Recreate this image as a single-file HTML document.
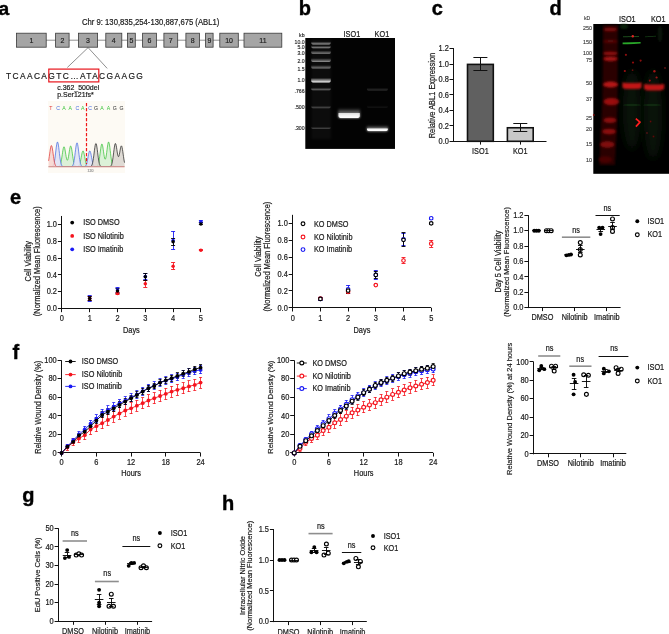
<!DOCTYPE html>
<html><head><meta charset="utf-8"><style>
html,body{margin:0;padding:0;background:#fff;width:669px;height:634px;overflow:hidden}
svg{display:block;will-change:transform}
text{font-family:"Liberation Sans", sans-serif}
</style></head><body>
<svg width="669" height="634" viewBox="0 0 669 634">
<defs>
<filter id="blur05" x="-20%" y="-100%" width="140%" height="300%"><feGaussianBlur stdDeviation="0.5"/></filter>
<filter id="blur07" x="-20%" y="-100%" width="140%" height="300%"><feGaussianBlur stdDeviation="0.7"/></filter>
<filter id="blur03" x="-20%" y="-20%" width="140%" height="140%"><feGaussianBlur stdDeviation="0.3"/></filter>
<filter id="blur2" x="-50%" y="-50%" width="200%" height="200%"><feGaussianBlur stdDeviation="2.5"/></filter>
<filter id="blur3" x="-80%" y="-50%" width="260%" height="200%"><feGaussianBlur stdDeviation="4"/></filter>
<filter id="blur1" x="-20%" y="-50%" width="140%" height="200%"><feGaussianBlur stdDeviation="1"/></filter>
</defs>
<text transform="translate(-1.60,15.30) scale(1.0,1.0)" font-size="19.2" text-anchor="start" fill="#000" font-weight="bold" stroke="#000" stroke-width="0.4" >a</text>
<text transform="translate(82.00,24.50) scale(1.0,1.14)" font-size="7.7" text-anchor="start" fill="#1a1a1a" font-weight="normal" stroke="#1a1a1a" stroke-width="0.18" >Chr 9: 130,835,254-130,887,675 (ABL1)</text>
<line x1="16.00" y1="40.20" x2="282.00" y2="40.20" stroke="#555" stroke-width="0.65" />
<rect x="16.50" y="33.20" width="29.70" height="14.00" fill="#a5a5a5" stroke="#3a3a3a" stroke-width="0.8" />
<text transform="translate(31.35,42.90) scale(1.0,1.14)" font-size="7" text-anchor="middle" fill="#222" font-weight="normal" stroke="#222" stroke-width="0.18" >1</text>
<rect x="55.60" y="33.20" width="13.50" height="14.00" fill="#a5a5a5" stroke="#3a3a3a" stroke-width="0.8" />
<text transform="translate(62.35,42.90) scale(1.0,1.14)" font-size="7" text-anchor="middle" fill="#222" font-weight="normal" stroke="#222" stroke-width="0.18" >2</text>
<rect x="78.40" y="33.20" width="19.20" height="14.00" fill="#a5a5a5" stroke="#3a3a3a" stroke-width="0.8" />
<text transform="translate(88.00,42.90) scale(1.0,1.14)" font-size="7" text-anchor="middle" fill="#222" font-weight="normal" stroke="#222" stroke-width="0.18" >3</text>
<rect x="105.80" y="33.20" width="16.00" height="14.00" fill="#a5a5a5" stroke="#3a3a3a" stroke-width="0.8" />
<text transform="translate(113.80,42.90) scale(1.0,1.14)" font-size="7" text-anchor="middle" fill="#222" font-weight="normal" stroke="#222" stroke-width="0.18" >4</text>
<rect x="127.50" y="33.20" width="7.80" height="14.00" fill="#a5a5a5" stroke="#3a3a3a" stroke-width="0.8" />
<text transform="translate(131.40,42.90) scale(1.0,1.14)" font-size="7" text-anchor="middle" fill="#222" font-weight="normal" stroke="#222" stroke-width="0.18" >5</text>
<rect x="142.60" y="33.20" width="13.80" height="14.00" fill="#a5a5a5" stroke="#3a3a3a" stroke-width="0.8" />
<text transform="translate(149.50,42.90) scale(1.0,1.14)" font-size="7" text-anchor="middle" fill="#222" font-weight="normal" stroke="#222" stroke-width="0.18" >6</text>
<rect x="163.90" y="33.20" width="13.80" height="14.00" fill="#a5a5a5" stroke="#3a3a3a" stroke-width="0.8" />
<text transform="translate(170.80,42.90) scale(1.0,1.14)" font-size="7" text-anchor="middle" fill="#222" font-weight="normal" stroke="#222" stroke-width="0.18" >7</text>
<rect x="185.90" y="33.20" width="13.60" height="14.00" fill="#a5a5a5" stroke="#3a3a3a" stroke-width="0.8" />
<text transform="translate(192.70,42.90) scale(1.0,1.14)" font-size="7" text-anchor="middle" fill="#222" font-weight="normal" stroke="#222" stroke-width="0.18" >8</text>
<rect x="205.60" y="33.20" width="7.50" height="14.00" fill="#a5a5a5" stroke="#3a3a3a" stroke-width="0.8" />
<text transform="translate(209.35,42.90) scale(1.0,1.14)" font-size="7" text-anchor="middle" fill="#222" font-weight="normal" stroke="#222" stroke-width="0.18" >9</text>
<rect x="219.80" y="33.20" width="18.50" height="14.00" fill="#a5a5a5" stroke="#3a3a3a" stroke-width="0.8" />
<text transform="translate(229.05,42.90) scale(1.0,1.14)" font-size="7" text-anchor="middle" fill="#222" font-weight="normal" stroke="#222" stroke-width="0.18" >10</text>
<rect x="244.00" y="33.20" width="37.80" height="14.00" fill="#a5a5a5" stroke="#3a3a3a" stroke-width="0.8" />
<text transform="translate(262.90,42.90) scale(1.0,1.14)" font-size="7" text-anchor="middle" fill="#222" font-weight="normal" stroke="#222" stroke-width="0.18" >11</text>
<line x1="88.10" y1="47.60" x2="67.30" y2="67.50" stroke="#444" stroke-width="0.6" />
<line x1="88.10" y1="47.60" x2="107.20" y2="68.40" stroke="#444" stroke-width="0.6" />
<text transform="translate(6.00,78.70) scale(1.0,1.06)" font-size="8.4" text-anchor="start" fill="#1a1a1a" font-weight="normal" stroke="#1a1a1a" stroke-width="0.18" letter-spacing="1.38">TCAACAGTC…ATACGAAGG</text>
<rect x="48.80" y="69.10" width="50.00" height="12.80" fill="none" stroke="#e8141c" stroke-width="1.2" />
<text transform="translate(57.20,89.90) scale(1.0,1.14)" font-size="7" text-anchor="start" fill="#1a1a1a" font-weight="normal" stroke="#1a1a1a" stroke-width="0.18" >c.362_500del</text>
<text transform="translate(57.20,97.40) scale(1.0,1.14)" font-size="7" text-anchor="start" fill="#1a1a1a" font-weight="normal" stroke="#1a1a1a" stroke-width="0.18" >p.Ser121fs*</text>
<rect x="48.00" y="101.00" width="77.00" height="72.00" fill="#fdfaf4" stroke="none" stroke-width="1" />
<text transform="translate(50.80,109.60) scale(1.0,1.1)" font-size="5.2" text-anchor="middle" fill="#e03a3a" font-weight="normal" >T</text>
<text transform="translate(58.20,109.60) scale(1.0,1.1)" font-size="5.2" text-anchor="middle" fill="#4a6ee0" font-weight="normal" >C</text>
<text transform="translate(64.00,109.60) scale(1.0,1.1)" font-size="5.2" text-anchor="middle" fill="#3cc43c" font-weight="normal" >A</text>
<text transform="translate(70.30,109.60) scale(1.0,1.1)" font-size="5.2" text-anchor="middle" fill="#3cc43c" font-weight="normal" >A</text>
<text transform="translate(77.40,109.60) scale(1.0,1.1)" font-size="5.2" text-anchor="middle" fill="#4a6ee0" font-weight="normal" >C</text>
<text transform="translate(82.80,109.60) scale(1.0,1.1)" font-size="5.2" text-anchor="middle" fill="#3cc43c" font-weight="normal" >A</text>
<text transform="translate(90.00,109.60) scale(1.0,1.1)" font-size="5.2" text-anchor="middle" fill="#4a6ee0" font-weight="normal" >C</text>
<text transform="translate(95.90,109.60) scale(1.0,1.1)" font-size="5.2" text-anchor="middle" fill="#333" font-weight="normal" >G</text>
<text transform="translate(101.90,109.60) scale(1.0,1.1)" font-size="5.2" text-anchor="middle" fill="#3cc43c" font-weight="normal" >A</text>
<text transform="translate(108.40,109.60) scale(1.0,1.1)" font-size="5.2" text-anchor="middle" fill="#3cc43c" font-weight="normal" >A</text>
<text transform="translate(114.70,109.60) scale(1.0,1.1)" font-size="5.2" text-anchor="middle" fill="#333" font-weight="normal" >G</text>
<text transform="translate(121.40,109.60) scale(1.0,1.1)" font-size="5.2" text-anchor="middle" fill="#333" font-weight="normal" >G</text>
<clipPath id="chromclip"><rect x="40" y="100" width="90" height="66.30"/></clipPath>
<path d="M48.60,166.80 L48.95,166.80 L49.30,166.80 L49.65,166.80 L50.00,166.80 L50.35,166.80 L50.70,166.80 L51.05,166.80 L51.40,166.80 L51.75,166.80 L52.10,166.80 L52.45,166.80 L52.80,166.80 L53.15,166.80 L53.50,166.80 L53.85,166.80 L54.20,166.80 L54.55,166.80 L54.90,166.80 L55.25,166.80 L55.60,166.80 L55.95,166.80 L56.30,166.80 L56.65,166.80 L57.00,166.79 L57.35,166.79 L57.70,166.77 L58.05,166.74 L58.40,166.68 L58.75,166.58 L59.10,166.40 L59.45,166.12 L59.80,165.68 L60.15,165.02 L60.50,164.09 L60.85,162.84 L61.20,161.24 L61.55,159.29 L61.90,157.06 L62.25,154.67 L62.60,152.28 L62.95,150.09 L63.30,148.33 L63.65,147.19 L64.00,146.79 L64.35,147.17 L64.70,148.28 L65.05,149.98 L65.40,152.07 L65.75,154.29 L66.10,156.41 L66.45,158.20 L66.80,159.50 L67.15,160.18 L67.50,160.18 L67.85,159.50 L68.20,158.18 L68.55,156.34 L68.90,154.15 L69.25,151.82 L69.60,149.61 L69.95,147.76 L70.30,146.51 L70.65,145.99 L71.00,146.30 L71.35,147.38 L71.70,149.13 L72.05,151.35 L72.40,153.82 L72.75,156.33 L73.10,158.68 L73.45,160.75 L73.80,162.47 L74.15,163.82 L74.50,164.83 L74.85,165.55 L75.20,166.04 L75.55,166.35 L75.90,166.54 L76.25,166.65 L76.60,166.71 L76.95,166.72 L77.30,166.70 L77.65,166.64 L78.00,166.53 L78.35,166.33 L78.70,166.02 L79.05,165.55 L79.40,164.88 L79.75,163.97 L80.10,162.77 L80.45,161.30 L80.80,159.59 L81.15,157.71 L81.50,155.79 L81.85,153.99 L82.20,152.48 L82.55,151.42 L82.90,150.93 L83.25,151.06 L83.60,151.81 L83.95,153.08 L84.30,154.73 L84.65,156.61 L85.00,158.52 L85.35,160.35 L85.70,161.96 L86.05,163.32 L86.40,164.39 L86.75,165.20 L87.10,165.78 L87.45,166.17 L87.80,166.43 L88.15,166.59 L88.50,166.69 L88.85,166.74 L89.20,166.77 L89.55,166.79 L89.90,166.79 L90.25,166.80 L90.60,166.80 L90.95,166.80 L91.30,166.80 L91.65,166.80 L92.00,166.80 L92.35,166.80 L92.70,166.80 L93.05,166.80 L93.40,166.80 L93.75,166.80 L94.10,166.80 L94.45,166.80 L94.80,166.79 L95.15,166.79 L95.50,166.77 L95.85,166.74 L96.20,166.69 L96.55,166.59 L96.90,166.42 L97.25,166.13 L97.60,165.69 L97.95,165.02 L98.30,164.05 L98.65,162.74 L99.00,161.02 L99.35,158.91 L99.70,156.45 L100.05,153.76 L100.40,151.01 L100.75,148.43 L101.10,146.26 L101.45,144.74 L101.80,144.02 L102.15,144.20 L102.50,145.24 L102.85,147.01 L103.20,149.29 L103.55,151.80 L103.90,154.26 L104.25,156.42 L104.60,158.05 L104.95,158.99 L105.30,159.16 L105.65,158.52 L106.00,157.11 L106.35,155.05 L106.70,152.51 L107.05,149.75 L107.40,147.03 L107.75,144.67 L108.10,142.95 L108.45,142.07 L108.80,142.15 L109.15,143.19 L109.50,145.07 L109.85,147.58 L110.20,150.47 L110.55,153.47 L110.90,156.34 L111.25,158.92 L111.60,161.09 L111.95,162.83 L112.30,164.15 L112.65,165.10 L113.00,165.75 L113.35,166.18 L113.70,166.45 L114.05,166.61 L114.40,166.70 L114.75,166.75 L115.10,166.77 L115.45,166.79 L115.80,166.79 L116.15,166.80 L116.50,166.80 L116.85,166.80 L117.20,166.80 L117.55,166.80 L117.90,166.80 L118.25,166.80 L118.60,166.80 L118.95,166.80 L119.30,166.80 L119.65,166.80 L120.00,166.80 L120.35,166.80 L120.70,166.80 L121.05,166.80 L121.40,166.80 L121.75,166.80 L122.10,166.80 L122.45,166.80 L122.80,166.80 L123.15,166.80 L123.50,166.80 L123.85,166.80 L124.20,166.80 L124.55,166.80 L124.6,166.8 L48.6,166.8 Z" fill="#d6efd2" opacity="0.85"/>
<path d="M48.60,166.80 L48.95,166.80 L49.30,166.80 L49.65,166.80 L50.00,166.80 L50.35,166.80 L50.70,166.80 L51.05,166.80 L51.40,166.80 L51.75,166.80 L52.10,166.80 L52.45,166.80 L52.80,166.80 L53.15,166.80 L53.50,166.80 L53.85,166.80 L54.20,166.80 L54.55,166.80 L54.90,166.80 L55.25,166.80 L55.60,166.80 L55.95,166.80 L56.30,166.80 L56.65,166.80 L57.00,166.79 L57.35,166.79 L57.70,166.77 L58.05,166.74 L58.40,166.68 L58.75,166.58 L59.10,166.40 L59.45,166.12 L59.80,165.68 L60.15,165.02 L60.50,164.09 L60.85,162.84 L61.20,161.24 L61.55,159.29 L61.90,157.06 L62.25,154.67 L62.60,152.28 L62.95,150.09 L63.30,148.33 L63.65,147.19 L64.00,146.79 L64.35,147.17 L64.70,148.28 L65.05,149.98 L65.40,152.07 L65.75,154.29 L66.10,156.41 L66.45,158.20 L66.80,159.50 L67.15,160.18 L67.50,160.18 L67.85,159.50 L68.20,158.18 L68.55,156.34 L68.90,154.15 L69.25,151.82 L69.60,149.61 L69.95,147.76 L70.30,146.51 L70.65,145.99 L71.00,146.30 L71.35,147.38 L71.70,149.13 L72.05,151.35 L72.40,153.82 L72.75,156.33 L73.10,158.68 L73.45,160.75 L73.80,162.47 L74.15,163.82 L74.50,164.83 L74.85,165.55 L75.20,166.04 L75.55,166.35 L75.90,166.54 L76.25,166.65 L76.60,166.71 L76.95,166.72 L77.30,166.70 L77.65,166.64 L78.00,166.53 L78.35,166.33 L78.70,166.02 L79.05,165.55 L79.40,164.88 L79.75,163.97 L80.10,162.77 L80.45,161.30 L80.80,159.59 L81.15,157.71 L81.50,155.79 L81.85,153.99 L82.20,152.48 L82.55,151.42 L82.90,150.93 L83.25,151.06 L83.60,151.81 L83.95,153.08 L84.30,154.73 L84.65,156.61 L85.00,158.52 L85.35,160.35 L85.70,161.96 L86.05,163.32 L86.40,164.39 L86.75,165.20 L87.10,165.78 L87.45,166.17 L87.80,166.43 L88.15,166.59 L88.50,166.69 L88.85,166.74 L89.20,166.77 L89.55,166.79 L89.90,166.79 L90.25,166.80 L90.60,166.80 L90.95,166.80 L91.30,166.80 L91.65,166.80 L92.00,166.80 L92.35,166.80 L92.70,166.80 L93.05,166.80 L93.40,166.80 L93.75,166.80 L94.10,166.80 L94.45,166.80 L94.80,166.79 L95.15,166.79 L95.50,166.77 L95.85,166.74 L96.20,166.69 L96.55,166.59 L96.90,166.42 L97.25,166.13 L97.60,165.69 L97.95,165.02 L98.30,164.05 L98.65,162.74 L99.00,161.02 L99.35,158.91 L99.70,156.45 L100.05,153.76 L100.40,151.01 L100.75,148.43 L101.10,146.26 L101.45,144.74 L101.80,144.02 L102.15,144.20 L102.50,145.24 L102.85,147.01 L103.20,149.29 L103.55,151.80 L103.90,154.26 L104.25,156.42 L104.60,158.05 L104.95,158.99 L105.30,159.16 L105.65,158.52 L106.00,157.11 L106.35,155.05 L106.70,152.51 L107.05,149.75 L107.40,147.03 L107.75,144.67 L108.10,142.95 L108.45,142.07 L108.80,142.15 L109.15,143.19 L109.50,145.07 L109.85,147.58 L110.20,150.47 L110.55,153.47 L110.90,156.34 L111.25,158.92 L111.60,161.09 L111.95,162.83 L112.30,164.15 L112.65,165.10 L113.00,165.75 L113.35,166.18 L113.70,166.45 L114.05,166.61 L114.40,166.70 L114.75,166.75 L115.10,166.77 L115.45,166.79 L115.80,166.79 L116.15,166.80 L116.50,166.80 L116.85,166.80 L117.20,166.80 L117.55,166.80 L117.90,166.80 L118.25,166.80 L118.60,166.80 L118.95,166.80 L119.30,166.80 L119.65,166.80 L120.00,166.80 L120.35,166.80 L120.70,166.80 L121.05,166.80 L121.40,166.80 L121.75,166.80 L122.10,166.80 L122.45,166.80 L122.80,166.80 L123.15,166.80 L123.50,166.80 L123.85,166.80 L124.20,166.80 L124.55,166.80" fill="none" stroke="#3cc43c" stroke-width="0.75" clip-path="url(#chromclip)"/>
<path d="M48.60,166.80 L48.95,166.80 L49.30,166.80 L49.65,166.80 L50.00,166.80 L50.35,166.79 L50.70,166.79 L51.05,166.77 L51.40,166.74 L51.75,166.69 L52.10,166.59 L52.45,166.41 L52.80,166.13 L53.15,165.67 L53.50,164.98 L53.85,163.98 L54.20,162.61 L54.55,160.81 L54.90,158.58 L55.25,155.95 L55.60,153.04 L55.95,150.05 L56.30,147.20 L56.65,144.76 L57.00,142.99 L57.35,142.09 L57.70,142.16 L58.05,143.20 L58.40,145.07 L58.75,147.58 L59.10,150.47 L59.45,153.47 L59.80,156.34 L60.15,158.92 L60.50,161.09 L60.85,162.83 L61.20,164.15 L61.55,165.10 L61.90,165.75 L62.25,166.18 L62.60,166.45 L62.95,166.61 L63.30,166.70 L63.65,166.75 L64.00,166.77 L64.35,166.79 L64.70,166.79 L65.05,166.80 L65.40,166.80 L65.75,166.80 L66.10,166.80 L66.45,166.80 L66.80,166.80 L67.15,166.80 L67.50,166.80 L67.85,166.80 L68.20,166.80 L68.55,166.80 L68.90,166.80 L69.25,166.80 L69.60,166.80 L69.95,166.79 L70.30,166.78 L70.65,166.77 L71.00,166.73 L71.35,166.67 L71.70,166.56 L72.05,166.36 L72.40,166.04 L72.75,165.54 L73.10,164.80 L73.45,163.73 L73.80,162.29 L74.15,160.43 L74.50,158.15 L74.85,155.52 L75.20,152.66 L75.55,149.77 L75.90,147.10 L76.25,144.91 L76.60,143.42 L76.95,142.81 L77.30,143.15 L77.65,144.40 L78.00,146.42 L78.35,148.98 L78.70,151.83 L79.05,154.72 L79.40,157.43 L79.75,159.82 L80.10,161.80 L80.45,163.36 L80.80,164.53 L81.15,165.36 L81.50,165.92 L81.85,166.28 L82.20,166.51 L82.55,166.64 L82.90,166.71 L83.25,166.74 L83.60,166.75 L83.95,166.73 L84.30,166.68 L84.65,166.59 L85.00,166.43 L85.35,166.17 L85.70,165.78 L86.05,165.20 L86.40,164.39 L86.75,163.32 L87.10,161.96 L87.45,160.35 L87.80,158.52 L88.15,156.61 L88.50,154.73 L88.85,153.08 L89.20,151.81 L89.55,151.06 L89.90,150.93 L90.25,151.42 L90.60,152.48 L90.95,153.99 L91.30,155.79 L91.65,157.71 L92.00,159.59 L92.35,161.30 L92.70,162.77 L93.05,163.97 L93.40,164.88 L93.75,165.56 L94.10,166.02 L94.45,166.33 L94.80,166.53 L95.15,166.65 L95.50,166.72 L95.85,166.76 L96.20,166.78 L96.55,166.79 L96.90,166.80 L97.25,166.80 L97.60,166.80 L97.95,166.80 L98.30,166.80 L98.65,166.80 L99.00,166.80 L99.35,166.80 L99.70,166.80 L100.05,166.80 L100.40,166.80 L100.75,166.80 L101.10,166.80 L101.45,166.80 L101.80,166.80 L102.15,166.80 L102.50,166.80 L102.85,166.80 L103.20,166.80 L103.55,166.80 L103.90,166.80 L104.25,166.80 L104.60,166.80 L104.95,166.80 L105.30,166.80 L105.65,166.80 L106.00,166.80 L106.35,166.80 L106.70,166.80 L107.05,166.80 L107.40,166.80 L107.75,166.80 L108.10,166.80 L108.45,166.80 L108.80,166.80 L109.15,166.80 L109.50,166.80 L109.85,166.80 L110.20,166.80 L110.55,166.80 L110.90,166.80 L111.25,166.80 L111.60,166.80 L111.95,166.80 L112.30,166.80 L112.65,166.80 L113.00,166.80 L113.35,166.80 L113.70,166.80 L114.05,166.80 L114.40,166.80 L114.75,166.80 L115.10,166.80 L115.45,166.80 L115.80,166.80 L116.15,166.80 L116.50,166.80 L116.85,166.80 L117.20,166.80 L117.55,166.80 L117.90,166.80 L118.25,166.80 L118.60,166.80 L118.95,166.80 L119.30,166.80 L119.65,166.80 L120.00,166.80 L120.35,166.80 L120.70,166.80 L121.05,166.80 L121.40,166.80 L121.75,166.80 L122.10,166.80 L122.45,166.80 L122.80,166.80 L123.15,166.80 L123.50,166.80 L123.85,166.80 L124.20,166.80 L124.55,166.80 L124.6,166.8 L48.6,166.8 Z" fill="#dde0f4" opacity="0.85"/>
<path d="M48.60,166.80 L48.95,166.80 L49.30,166.80 L49.65,166.80 L50.00,166.80 L50.35,166.79 L50.70,166.79 L51.05,166.77 L51.40,166.74 L51.75,166.69 L52.10,166.59 L52.45,166.41 L52.80,166.13 L53.15,165.67 L53.50,164.98 L53.85,163.98 L54.20,162.61 L54.55,160.81 L54.90,158.58 L55.25,155.95 L55.60,153.04 L55.95,150.05 L56.30,147.20 L56.65,144.76 L57.00,142.99 L57.35,142.09 L57.70,142.16 L58.05,143.20 L58.40,145.07 L58.75,147.58 L59.10,150.47 L59.45,153.47 L59.80,156.34 L60.15,158.92 L60.50,161.09 L60.85,162.83 L61.20,164.15 L61.55,165.10 L61.90,165.75 L62.25,166.18 L62.60,166.45 L62.95,166.61 L63.30,166.70 L63.65,166.75 L64.00,166.77 L64.35,166.79 L64.70,166.79 L65.05,166.80 L65.40,166.80 L65.75,166.80 L66.10,166.80 L66.45,166.80 L66.80,166.80 L67.15,166.80 L67.50,166.80 L67.85,166.80 L68.20,166.80 L68.55,166.80 L68.90,166.80 L69.25,166.80 L69.60,166.80 L69.95,166.79 L70.30,166.78 L70.65,166.77 L71.00,166.73 L71.35,166.67 L71.70,166.56 L72.05,166.36 L72.40,166.04 L72.75,165.54 L73.10,164.80 L73.45,163.73 L73.80,162.29 L74.15,160.43 L74.50,158.15 L74.85,155.52 L75.20,152.66 L75.55,149.77 L75.90,147.10 L76.25,144.91 L76.60,143.42 L76.95,142.81 L77.30,143.15 L77.65,144.40 L78.00,146.42 L78.35,148.98 L78.70,151.83 L79.05,154.72 L79.40,157.43 L79.75,159.82 L80.10,161.80 L80.45,163.36 L80.80,164.53 L81.15,165.36 L81.50,165.92 L81.85,166.28 L82.20,166.51 L82.55,166.64 L82.90,166.71 L83.25,166.74 L83.60,166.75 L83.95,166.73 L84.30,166.68 L84.65,166.59 L85.00,166.43 L85.35,166.17 L85.70,165.78 L86.05,165.20 L86.40,164.39 L86.75,163.32 L87.10,161.96 L87.45,160.35 L87.80,158.52 L88.15,156.61 L88.50,154.73 L88.85,153.08 L89.20,151.81 L89.55,151.06 L89.90,150.93 L90.25,151.42 L90.60,152.48 L90.95,153.99 L91.30,155.79 L91.65,157.71 L92.00,159.59 L92.35,161.30 L92.70,162.77 L93.05,163.97 L93.40,164.88 L93.75,165.56 L94.10,166.02 L94.45,166.33 L94.80,166.53 L95.15,166.65 L95.50,166.72 L95.85,166.76 L96.20,166.78 L96.55,166.79 L96.90,166.80 L97.25,166.80 L97.60,166.80 L97.95,166.80 L98.30,166.80 L98.65,166.80 L99.00,166.80 L99.35,166.80 L99.70,166.80 L100.05,166.80 L100.40,166.80 L100.75,166.80 L101.10,166.80 L101.45,166.80 L101.80,166.80 L102.15,166.80 L102.50,166.80 L102.85,166.80 L103.20,166.80 L103.55,166.80 L103.90,166.80 L104.25,166.80 L104.60,166.80 L104.95,166.80 L105.30,166.80 L105.65,166.80 L106.00,166.80 L106.35,166.80 L106.70,166.80 L107.05,166.80 L107.40,166.80 L107.75,166.80 L108.10,166.80 L108.45,166.80 L108.80,166.80 L109.15,166.80 L109.50,166.80 L109.85,166.80 L110.20,166.80 L110.55,166.80 L110.90,166.80 L111.25,166.80 L111.60,166.80 L111.95,166.80 L112.30,166.80 L112.65,166.80 L113.00,166.80 L113.35,166.80 L113.70,166.80 L114.05,166.80 L114.40,166.80 L114.75,166.80 L115.10,166.80 L115.45,166.80 L115.80,166.80 L116.15,166.80 L116.50,166.80 L116.85,166.80 L117.20,166.80 L117.55,166.80 L117.90,166.80 L118.25,166.80 L118.60,166.80 L118.95,166.80 L119.30,166.80 L119.65,166.80 L120.00,166.80 L120.35,166.80 L120.70,166.80 L121.05,166.80 L121.40,166.80 L121.75,166.80 L122.10,166.80 L122.45,166.80 L122.80,166.80 L123.15,166.80 L123.50,166.80 L123.85,166.80 L124.20,166.80 L124.55,166.80" fill="none" stroke="#4a6ee0" stroke-width="0.75" clip-path="url(#chromclip)"/>
<path d="M48.60,166.80 L48.95,166.80 L49.30,166.80 L49.65,166.80 L50.00,166.80 L50.35,166.80 L50.70,166.80 L51.05,166.80 L51.40,166.80 L51.75,166.80 L52.10,166.80 L52.45,166.80 L52.80,166.80 L53.15,166.80 L53.50,166.80 L53.85,166.80 L54.20,166.80 L54.55,166.80 L54.90,166.80 L55.25,166.80 L55.60,166.80 L55.95,166.80 L56.30,166.80 L56.65,166.80 L57.00,166.80 L57.35,166.80 L57.70,166.80 L58.05,166.80 L58.40,166.80 L58.75,166.80 L59.10,166.80 L59.45,166.80 L59.80,166.80 L60.15,166.80 L60.50,166.80 L60.85,166.80 L61.20,166.80 L61.55,166.80 L61.90,166.80 L62.25,166.80 L62.60,166.80 L62.95,166.80 L63.30,166.80 L63.65,166.80 L64.00,166.80 L64.35,166.80 L64.70,166.80 L65.05,166.80 L65.40,166.80 L65.75,166.80 L66.10,166.80 L66.45,166.80 L66.80,166.80 L67.15,166.80 L67.50,166.80 L67.85,166.80 L68.20,166.80 L68.55,166.80 L68.90,166.80 L69.25,166.80 L69.60,166.80 L69.95,166.80 L70.30,166.80 L70.65,166.80 L71.00,166.80 L71.35,166.80 L71.70,166.80 L72.05,166.80 L72.40,166.80 L72.75,166.80 L73.10,166.80 L73.45,166.80 L73.80,166.80 L74.15,166.80 L74.50,166.80 L74.85,166.80 L75.20,166.80 L75.55,166.80 L75.90,166.80 L76.25,166.80 L76.60,166.80 L76.95,166.80 L77.30,166.80 L77.65,166.80 L78.00,166.80 L78.35,166.80 L78.70,166.80 L79.05,166.80 L79.40,166.80 L79.75,166.80 L80.10,166.80 L80.45,166.80 L80.80,166.80 L81.15,166.80 L81.50,166.80 L81.85,166.80 L82.20,166.80 L82.55,166.80 L82.90,166.80 L83.25,166.80 L83.60,166.80 L83.95,166.80 L84.30,166.80 L84.65,166.80 L85.00,166.80 L85.35,166.80 L85.70,166.80 L86.05,166.80 L86.40,166.80 L86.75,166.80 L87.10,166.80 L87.45,166.80 L87.80,166.80 L88.15,166.80 L88.50,166.80 L88.85,166.79 L89.20,166.78 L89.55,166.77 L89.90,166.73 L90.25,166.67 L90.60,166.56 L90.95,166.37 L91.30,166.06 L91.65,165.58 L92.00,164.86 L92.35,163.82 L92.70,162.42 L93.05,160.61 L93.40,158.40 L93.75,155.85 L94.10,153.07 L94.45,150.27 L94.80,147.68 L95.15,145.54 L95.50,144.10 L95.85,143.51 L96.20,143.84 L96.55,145.05 L96.90,147.01 L97.25,149.50 L97.60,152.26 L97.95,155.07 L98.30,157.70 L98.65,160.02 L99.00,161.95 L99.35,163.46 L99.70,164.59 L100.05,165.40 L100.40,165.95 L100.75,166.30 L101.10,166.52 L101.45,166.65 L101.80,166.72 L102.15,166.76 L102.50,166.78 L102.85,166.79 L103.20,166.80 L103.55,166.80 L103.90,166.80 L104.25,166.80 L104.60,166.80 L104.95,166.80 L105.30,166.80 L105.65,166.80 L106.00,166.80 L106.35,166.80 L106.70,166.80 L107.05,166.80 L107.40,166.80 L107.75,166.80 L108.10,166.80 L108.45,166.79 L108.80,166.78 L109.15,166.76 L109.50,166.72 L109.85,166.65 L110.20,166.52 L110.55,166.30 L110.90,165.95 L111.25,165.40 L111.60,164.59 L111.95,163.46 L112.30,161.95 L112.65,160.02 L113.00,157.70 L113.35,155.07 L113.70,152.26 L114.05,149.49 L114.40,147.00 L114.75,145.04 L115.10,143.81 L115.45,143.44 L115.80,143.98 L116.15,145.31 L116.50,147.26 L116.85,149.56 L117.20,151.90 L117.55,153.99 L117.90,155.57 L118.25,156.48 L118.60,156.61 L118.95,155.98 L119.30,154.68 L119.65,152.90 L120.00,150.89 L120.35,148.92 L120.70,147.27 L121.05,146.19 L121.40,145.83 L121.75,146.28 L122.10,147.49 L122.45,149.34 L122.80,151.62 L123.15,154.12 L123.50,156.63 L123.85,158.96 L124.20,160.99 L124.55,162.66 L124.6,166.8 L48.6,166.8 Z" fill="#d9d5cf" opacity="0.85"/>
<path d="M48.60,166.80 L48.95,166.80 L49.30,166.80 L49.65,166.80 L50.00,166.80 L50.35,166.80 L50.70,166.80 L51.05,166.80 L51.40,166.80 L51.75,166.80 L52.10,166.80 L52.45,166.80 L52.80,166.80 L53.15,166.80 L53.50,166.80 L53.85,166.80 L54.20,166.80 L54.55,166.80 L54.90,166.80 L55.25,166.80 L55.60,166.80 L55.95,166.80 L56.30,166.80 L56.65,166.80 L57.00,166.80 L57.35,166.80 L57.70,166.80 L58.05,166.80 L58.40,166.80 L58.75,166.80 L59.10,166.80 L59.45,166.80 L59.80,166.80 L60.15,166.80 L60.50,166.80 L60.85,166.80 L61.20,166.80 L61.55,166.80 L61.90,166.80 L62.25,166.80 L62.60,166.80 L62.95,166.80 L63.30,166.80 L63.65,166.80 L64.00,166.80 L64.35,166.80 L64.70,166.80 L65.05,166.80 L65.40,166.80 L65.75,166.80 L66.10,166.80 L66.45,166.80 L66.80,166.80 L67.15,166.80 L67.50,166.80 L67.85,166.80 L68.20,166.80 L68.55,166.80 L68.90,166.80 L69.25,166.80 L69.60,166.80 L69.95,166.80 L70.30,166.80 L70.65,166.80 L71.00,166.80 L71.35,166.80 L71.70,166.80 L72.05,166.80 L72.40,166.80 L72.75,166.80 L73.10,166.80 L73.45,166.80 L73.80,166.80 L74.15,166.80 L74.50,166.80 L74.85,166.80 L75.20,166.80 L75.55,166.80 L75.90,166.80 L76.25,166.80 L76.60,166.80 L76.95,166.80 L77.30,166.80 L77.65,166.80 L78.00,166.80 L78.35,166.80 L78.70,166.80 L79.05,166.80 L79.40,166.80 L79.75,166.80 L80.10,166.80 L80.45,166.80 L80.80,166.80 L81.15,166.80 L81.50,166.80 L81.85,166.80 L82.20,166.80 L82.55,166.80 L82.90,166.80 L83.25,166.80 L83.60,166.80 L83.95,166.80 L84.30,166.80 L84.65,166.80 L85.00,166.80 L85.35,166.80 L85.70,166.80 L86.05,166.80 L86.40,166.80 L86.75,166.80 L87.10,166.80 L87.45,166.80 L87.80,166.80 L88.15,166.80 L88.50,166.80 L88.85,166.79 L89.20,166.78 L89.55,166.77 L89.90,166.73 L90.25,166.67 L90.60,166.56 L90.95,166.37 L91.30,166.06 L91.65,165.58 L92.00,164.86 L92.35,163.82 L92.70,162.42 L93.05,160.61 L93.40,158.40 L93.75,155.85 L94.10,153.07 L94.45,150.27 L94.80,147.68 L95.15,145.54 L95.50,144.10 L95.85,143.51 L96.20,143.84 L96.55,145.05 L96.90,147.01 L97.25,149.50 L97.60,152.26 L97.95,155.07 L98.30,157.70 L98.65,160.02 L99.00,161.95 L99.35,163.46 L99.70,164.59 L100.05,165.40 L100.40,165.95 L100.75,166.30 L101.10,166.52 L101.45,166.65 L101.80,166.72 L102.15,166.76 L102.50,166.78 L102.85,166.79 L103.20,166.80 L103.55,166.80 L103.90,166.80 L104.25,166.80 L104.60,166.80 L104.95,166.80 L105.30,166.80 L105.65,166.80 L106.00,166.80 L106.35,166.80 L106.70,166.80 L107.05,166.80 L107.40,166.80 L107.75,166.80 L108.10,166.80 L108.45,166.79 L108.80,166.78 L109.15,166.76 L109.50,166.72 L109.85,166.65 L110.20,166.52 L110.55,166.30 L110.90,165.95 L111.25,165.40 L111.60,164.59 L111.95,163.46 L112.30,161.95 L112.65,160.02 L113.00,157.70 L113.35,155.07 L113.70,152.26 L114.05,149.49 L114.40,147.00 L114.75,145.04 L115.10,143.81 L115.45,143.44 L115.80,143.98 L116.15,145.31 L116.50,147.26 L116.85,149.56 L117.20,151.90 L117.55,153.99 L117.90,155.57 L118.25,156.48 L118.60,156.61 L118.95,155.98 L119.30,154.68 L119.65,152.90 L120.00,150.89 L120.35,148.92 L120.70,147.27 L121.05,146.19 L121.40,145.83 L121.75,146.28 L122.10,147.49 L122.45,149.34 L122.80,151.62 L123.15,154.12 L123.50,156.63 L123.85,158.96 L124.20,160.99 L124.55,162.66" fill="none" stroke="#2a2a2a" stroke-width="0.75" clip-path="url(#chromclip)"/>
<path d="M48.60,160.88 L48.95,158.81 L49.30,156.43 L49.65,153.88 L50.00,151.33 L50.35,149.01 L50.70,147.14 L51.05,145.92 L51.40,145.50 L51.75,145.92 L52.10,147.14 L52.45,149.01 L52.80,151.33 L53.15,153.88 L53.50,156.43 L53.85,158.81 L54.20,160.88 L54.55,162.58 L54.90,163.92 L55.25,164.91 L55.60,165.60 L55.95,166.07 L56.30,166.38 L56.65,166.56 L57.00,166.67 L57.35,166.73 L57.70,166.77 L58.05,166.78 L58.40,166.79 L58.75,166.80 L59.10,166.80 L59.45,166.80 L59.80,166.80 L60.15,166.80 L60.50,166.80 L60.85,166.80 L61.20,166.80 L61.55,166.80 L61.90,166.80 L62.25,166.80 L62.60,166.80 L62.95,166.80 L63.30,166.80 L63.65,166.80 L64.00,166.80 L64.35,166.80 L64.70,166.80 L65.05,166.80 L65.40,166.80 L65.75,166.80 L66.10,166.80 L66.45,166.80 L66.80,166.80 L67.15,166.80 L67.50,166.80 L67.85,166.80 L68.20,166.80 L68.55,166.80 L68.90,166.80 L69.25,166.80 L69.60,166.80 L69.95,166.80 L70.30,166.80 L70.65,166.80 L71.00,166.80 L71.35,166.80 L71.70,166.80 L72.05,166.80 L72.40,166.80 L72.75,166.80 L73.10,166.80 L73.45,166.80 L73.80,166.80 L74.15,166.80 L74.50,166.80 L74.85,166.80 L75.20,166.80 L75.55,166.80 L75.90,166.80 L76.25,166.80 L76.60,166.80 L76.95,166.80 L77.30,166.80 L77.65,166.80 L78.00,166.80 L78.35,166.80 L78.70,166.80 L79.05,166.80 L79.40,166.80 L79.75,166.80 L80.10,166.80 L80.45,166.80 L80.80,166.80 L81.15,166.80 L81.50,166.80 L81.85,166.80 L82.20,166.80 L82.55,166.80 L82.90,166.80 L83.25,166.80 L83.60,166.80 L83.95,166.80 L84.30,166.80 L84.65,166.80 L85.00,166.80 L85.35,166.80 L85.70,166.80 L86.05,166.80 L86.40,166.80 L86.75,166.80 L87.10,166.80 L87.45,166.80 L87.80,166.80 L88.15,166.80 L88.50,166.80 L88.85,166.80 L89.20,166.80 L89.55,166.80 L89.90,166.80 L90.25,166.80 L90.60,166.80 L90.95,166.80 L91.30,166.80 L91.65,166.80 L92.00,166.80 L92.35,166.80 L92.70,166.80 L93.05,166.80 L93.40,166.80 L93.75,166.80 L94.10,166.80 L94.45,166.80 L94.80,166.80 L95.15,166.80 L95.50,166.80 L95.85,166.80 L96.20,166.80 L96.55,166.80 L96.90,166.80 L97.25,166.80 L97.60,166.80 L97.95,166.80 L98.30,166.80 L98.65,166.80 L99.00,166.80 L99.35,166.80 L99.70,166.80 L100.05,166.80 L100.40,166.80 L100.75,166.80 L101.10,166.80 L101.45,166.80 L101.80,166.80 L102.15,166.80 L102.50,166.80 L102.85,166.80 L103.20,166.80 L103.55,166.80 L103.90,166.80 L104.25,166.80 L104.60,166.80 L104.95,166.80 L105.30,166.80 L105.65,166.80 L106.00,166.80 L106.35,166.80 L106.70,166.80 L107.05,166.80 L107.40,166.80 L107.75,166.80 L108.10,166.80 L108.45,166.80 L108.80,166.80 L109.15,166.80 L109.50,166.80 L109.85,166.80 L110.20,166.80 L110.55,166.80 L110.90,166.80 L111.25,166.80 L111.60,166.80 L111.95,166.80 L112.30,166.80 L112.65,166.80 L113.00,166.80 L113.35,166.80 L113.70,166.80 L114.05,166.80 L114.40,166.80 L114.75,166.80 L115.10,166.80 L115.45,166.80 L115.80,166.80 L116.15,166.80 L116.50,166.80 L116.85,166.80 L117.20,166.80 L117.55,166.80 L117.90,166.80 L118.25,166.80 L118.60,166.80 L118.95,166.80 L119.30,166.80 L119.65,166.80 L120.00,166.80 L120.35,166.80 L120.70,166.80 L121.05,166.80 L121.40,166.80 L121.75,166.80 L122.10,166.80 L122.45,166.80 L122.80,166.80 L123.15,166.80 L123.50,166.80 L123.85,166.80 L124.20,166.80 L124.55,166.80 L124.6,166.8 L48.6,166.8 Z" fill="#f7d4ce" opacity="0.85"/>
<path d="M48.60,160.88 L48.95,158.81 L49.30,156.43 L49.65,153.88 L50.00,151.33 L50.35,149.01 L50.70,147.14 L51.05,145.92 L51.40,145.50 L51.75,145.92 L52.10,147.14 L52.45,149.01 L52.80,151.33 L53.15,153.88 L53.50,156.43 L53.85,158.81 L54.20,160.88 L54.55,162.58 L54.90,163.92 L55.25,164.91 L55.60,165.60 L55.95,166.07 L56.30,166.38 L56.65,166.56 L57.00,166.67 L57.35,166.73 L57.70,166.77 L58.05,166.78 L58.40,166.79 L58.75,166.80 L59.10,166.80 L59.45,166.80 L59.80,166.80 L60.15,166.80 L60.50,166.80 L60.85,166.80 L61.20,166.80 L61.55,166.80 L61.90,166.80 L62.25,166.80 L62.60,166.80 L62.95,166.80 L63.30,166.80 L63.65,166.80 L64.00,166.80 L64.35,166.80 L64.70,166.80 L65.05,166.80 L65.40,166.80 L65.75,166.80 L66.10,166.80 L66.45,166.80 L66.80,166.80 L67.15,166.80 L67.50,166.80 L67.85,166.80 L68.20,166.80 L68.55,166.80 L68.90,166.80 L69.25,166.80 L69.60,166.80 L69.95,166.80 L70.30,166.80 L70.65,166.80 L71.00,166.80 L71.35,166.80 L71.70,166.80 L72.05,166.80 L72.40,166.80 L72.75,166.80 L73.10,166.80 L73.45,166.80 L73.80,166.80 L74.15,166.80 L74.50,166.80 L74.85,166.80 L75.20,166.80 L75.55,166.80 L75.90,166.80 L76.25,166.80 L76.60,166.80 L76.95,166.80 L77.30,166.80 L77.65,166.80 L78.00,166.80 L78.35,166.80 L78.70,166.80 L79.05,166.80 L79.40,166.80 L79.75,166.80 L80.10,166.80 L80.45,166.80 L80.80,166.80 L81.15,166.80 L81.50,166.80 L81.85,166.80 L82.20,166.80 L82.55,166.80 L82.90,166.80 L83.25,166.80 L83.60,166.80 L83.95,166.80 L84.30,166.80 L84.65,166.80 L85.00,166.80 L85.35,166.80 L85.70,166.80 L86.05,166.80 L86.40,166.80 L86.75,166.80 L87.10,166.80 L87.45,166.80 L87.80,166.80 L88.15,166.80 L88.50,166.80 L88.85,166.80 L89.20,166.80 L89.55,166.80 L89.90,166.80 L90.25,166.80 L90.60,166.80 L90.95,166.80 L91.30,166.80 L91.65,166.80 L92.00,166.80 L92.35,166.80 L92.70,166.80 L93.05,166.80 L93.40,166.80 L93.75,166.80 L94.10,166.80 L94.45,166.80 L94.80,166.80 L95.15,166.80 L95.50,166.80 L95.85,166.80 L96.20,166.80 L96.55,166.80 L96.90,166.80 L97.25,166.80 L97.60,166.80 L97.95,166.80 L98.30,166.80 L98.65,166.80 L99.00,166.80 L99.35,166.80 L99.70,166.80 L100.05,166.80 L100.40,166.80 L100.75,166.80 L101.10,166.80 L101.45,166.80 L101.80,166.80 L102.15,166.80 L102.50,166.80 L102.85,166.80 L103.20,166.80 L103.55,166.80 L103.90,166.80 L104.25,166.80 L104.60,166.80 L104.95,166.80 L105.30,166.80 L105.65,166.80 L106.00,166.80 L106.35,166.80 L106.70,166.80 L107.05,166.80 L107.40,166.80 L107.75,166.80 L108.10,166.80 L108.45,166.80 L108.80,166.80 L109.15,166.80 L109.50,166.80 L109.85,166.80 L110.20,166.80 L110.55,166.80 L110.90,166.80 L111.25,166.80 L111.60,166.80 L111.95,166.80 L112.30,166.80 L112.65,166.80 L113.00,166.80 L113.35,166.80 L113.70,166.80 L114.05,166.80 L114.40,166.80 L114.75,166.80 L115.10,166.80 L115.45,166.80 L115.80,166.80 L116.15,166.80 L116.50,166.80 L116.85,166.80 L117.20,166.80 L117.55,166.80 L117.90,166.80 L118.25,166.80 L118.60,166.80 L118.95,166.80 L119.30,166.80 L119.65,166.80 L120.00,166.80 L120.35,166.80 L120.70,166.80 L121.05,166.80 L121.40,166.80 L121.75,166.80 L122.10,166.80 L122.45,166.80 L122.80,166.80 L123.15,166.80 L123.50,166.80 L123.85,166.80 L124.20,166.80 L124.55,166.80" fill="none" stroke="#e03a3a" stroke-width="0.75" clip-path="url(#chromclip)"/>
<line x1="48.50" y1="166.80" x2="124.50" y2="166.80" stroke="#c66" stroke-width="0.7" />
<line x1="86.50" y1="103.00" x2="86.50" y2="164.00" stroke="#f01818" stroke-width="1.2" stroke-dasharray="3.2,1.8"/>
<text transform="translate(90.50,172.30) scale(1.0,1.14)" font-size="3.5" text-anchor="middle" fill="#999" font-weight="normal" stroke="#999" stroke-width="0.18" >120</text>
<text transform="translate(298.80,15.10) scale(1.0,1.0)" font-size="20" text-anchor="start" fill="#000" font-weight="bold" stroke="#000" stroke-width="0.4" >b</text>
<rect x="305.30" y="38.00" width="89.70" height="110.90" fill="#030303" stroke="none" stroke-width="1" />
<rect x="311.50" y="39.00" width="19.50" height="100.00" fill="rgba(255,255,255,0.035)" stroke="none" stroke-width="1" filter="url(#blur1)"/>
<text transform="translate(343.60,36.70) scale(1.0,1.14)" font-size="7.3" text-anchor="start" fill="#1a1a1a" font-weight="normal" stroke="#1a1a1a" stroke-width="0.18" >ISO1</text>
<text transform="translate(374.60,36.70) scale(1.0,1.14)" font-size="7.3" text-anchor="start" fill="#1a1a1a" font-weight="normal" stroke="#1a1a1a" stroke-width="0.18" >KO1</text>
<text transform="translate(304.60,37.40) scale(1.0,1.14)" font-size="5.2" text-anchor="end" fill="#2a2a2a" font-weight="normal" stroke="#2a2a2a" stroke-width="0.15" >kb</text>
<text transform="translate(304.60,44.20) scale(1.0,1.14)" font-size="5.2" text-anchor="end" fill="#2a2a2a" font-weight="normal" stroke="#2a2a2a" stroke-width="0.15" >10.0</text>
<text transform="translate(304.60,49.20) scale(1.0,1.14)" font-size="5.2" text-anchor="end" fill="#2a2a2a" font-weight="normal" stroke="#2a2a2a" stroke-width="0.15" >5.0</text>
<text transform="translate(304.60,54.90) scale(1.0,1.14)" font-size="5.2" text-anchor="end" fill="#2a2a2a" font-weight="normal" stroke="#2a2a2a" stroke-width="0.15" >3.0</text>
<text transform="translate(304.60,62.90) scale(1.0,1.14)" font-size="5.2" text-anchor="end" fill="#2a2a2a" font-weight="normal" stroke="#2a2a2a" stroke-width="0.15" >2.0</text>
<text transform="translate(304.60,70.60) scale(1.0,1.14)" font-size="5.2" text-anchor="end" fill="#2a2a2a" font-weight="normal" stroke="#2a2a2a" stroke-width="0.15" >1.5</text>
<text transform="translate(304.60,82.40) scale(1.0,1.14)" font-size="5.2" text-anchor="end" fill="#2a2a2a" font-weight="normal" stroke="#2a2a2a" stroke-width="0.15" >1.0</text>
<text transform="translate(304.60,93.00) scale(1.0,1.14)" font-size="5.2" text-anchor="end" fill="#2a2a2a" font-weight="normal" stroke="#2a2a2a" stroke-width="0.15" >.766</text>
<text transform="translate(304.60,109.00) scale(1.0,1.14)" font-size="5.2" text-anchor="end" fill="#2a2a2a" font-weight="normal" stroke="#2a2a2a" stroke-width="0.15" >.500</text>
<text transform="translate(304.60,130.40) scale(1.0,1.14)" font-size="5.2" text-anchor="end" fill="#2a2a2a" font-weight="normal" stroke="#2a2a2a" stroke-width="0.15" >.300</text>
<linearGradient id="g71" x1="0" y1="0" x2="0" y2="1"><stop offset="0" stop-color="#fff" stop-opacity="0.05"/><stop offset="0.55" stop-color="#fff" stop-opacity="0.335"/><stop offset="1" stop-color="#fff" stop-opacity="0.62"/></linearGradient>
<path d="M311.20,41.80 L330.80,41.80 L330.80,42.80 Q330.80,44.40 329.20,44.40 L312.80,44.40 Q311.20,44.40 311.20,42.80 Z" fill="url(#g71)" filter="url(#blur05)"/>
<linearGradient id="g73" x1="0" y1="0" x2="0" y2="1"><stop offset="0" stop-color="#fff" stop-opacity="0.05"/><stop offset="0.55" stop-color="#fff" stop-opacity="0.315"/><stop offset="1" stop-color="#fff" stop-opacity="0.58"/></linearGradient>
<path d="M311.20,45.80 L330.80,45.80 L330.80,46.60 Q330.80,48.20 329.20,48.20 L312.80,48.20 Q311.20,48.20 311.20,46.60 Z" fill="url(#g73)" filter="url(#blur05)"/>
<linearGradient id="g75" x1="0" y1="0" x2="0" y2="1"><stop offset="0" stop-color="#fff" stop-opacity="0.05"/><stop offset="0.55" stop-color="#fff" stop-opacity="0.300"/><stop offset="1" stop-color="#fff" stop-opacity="0.55"/></linearGradient>
<path d="M311.20,50.80 L330.80,50.80 L330.80,52.20 Q330.80,53.80 329.20,53.80 L312.80,53.80 Q311.20,53.80 311.20,52.20 Z" fill="url(#g75)" filter="url(#blur05)"/>
<linearGradient id="g77" x1="0" y1="0" x2="0" y2="1"><stop offset="0" stop-color="#fff" stop-opacity="0.04"/><stop offset="0.55" stop-color="#fff" stop-opacity="0.295"/><stop offset="1" stop-color="#fff" stop-opacity="0.55"/></linearGradient>
<path d="M311.20,58.30 L330.80,58.30 L330.80,60.30 Q330.80,61.90 329.20,61.90 L312.80,61.90 Q311.20,61.90 311.20,60.30 Z" fill="url(#g77)" filter="url(#blur05)"/>
<linearGradient id="g79" x1="0" y1="0" x2="0" y2="1"><stop offset="0" stop-color="#fff" stop-opacity="0.04"/><stop offset="0.55" stop-color="#fff" stop-opacity="0.270"/><stop offset="1" stop-color="#fff" stop-opacity="0.5"/></linearGradient>
<path d="M311.20,65.20 L330.80,65.20 L330.80,67.00 Q330.80,68.60 329.20,68.60 L312.80,68.60 Q311.20,68.60 311.20,67.00 Z" fill="url(#g79)" filter="url(#blur05)"/>
<linearGradient id="g81" x1="0" y1="0" x2="0" y2="1"><stop offset="0" stop-color="#fff" stop-opacity="0.12"/><stop offset="0.55" stop-color="#fff" stop-opacity="0.560"/><stop offset="1" stop-color="#fff" stop-opacity="1.0"/></linearGradient>
<path d="M311.20,78.20 L330.80,78.20 L330.80,80.80 Q330.80,82.40 329.20,82.40 L312.80,82.40 Q311.20,82.40 311.20,80.80 Z" fill="url(#g81)" filter="url(#blur05)"/>
<linearGradient id="g83" x1="0" y1="0" x2="0" y2="1"><stop offset="0" stop-color="#fff" stop-opacity="0.04"/><stop offset="0.55" stop-color="#fff" stop-opacity="0.245"/><stop offset="1" stop-color="#fff" stop-opacity="0.45"/></linearGradient>
<path d="M311.20,87.70 L330.80,87.70 L330.80,88.70 Q330.80,90.30 329.20,90.30 L312.80,90.30 Q311.20,90.30 311.20,88.70 Z" fill="url(#g83)" filter="url(#blur05)"/>
<linearGradient id="g85" x1="0" y1="0" x2="0" y2="1"><stop offset="0" stop-color="#fff" stop-opacity="0.02"/><stop offset="0.55" stop-color="#fff" stop-opacity="0.160"/><stop offset="1" stop-color="#fff" stop-opacity="0.3"/></linearGradient>
<path d="M311.20,105.80 L330.80,105.80 L330.80,106.60 Q330.80,108.20 329.20,108.20 L312.80,108.20 Q311.20,108.20 311.20,106.60 Z" fill="url(#g85)" filter="url(#blur05)"/>
<linearGradient id="g87" x1="0" y1="0" x2="0" y2="1"><stop offset="0" stop-color="#fff" stop-opacity="0.02"/><stop offset="0.55" stop-color="#fff" stop-opacity="0.135"/><stop offset="1" stop-color="#fff" stop-opacity="0.25"/></linearGradient>
<path d="M311.20,126.70 L330.80,126.70 L330.80,127.30 Q330.80,128.90 329.20,128.90 L312.80,128.90 Q311.20,128.90 311.20,127.30 Z" fill="url(#g87)" filter="url(#blur05)"/>
<linearGradient id="g89" x1="0" y1="0" x2="0" y2="1"><stop offset="0" stop-color="#fff" stop-opacity="0.0"/><stop offset="0.55" stop-color="#fff" stop-opacity="0.450"/><stop offset="1" stop-color="#fff" stop-opacity="0.9"/></linearGradient>
<path d="M338.20,108.00 L360.10,108.00 L360.10,115.80 Q360.10,118.00 357.90,118.00 L340.40,118.00 Q338.20,118.00 338.20,115.80 Z" fill="url(#g89)" filter="url(#blur1)"/>
<linearGradient id="g91" x1="0" y1="0" x2="0" y2="1"><stop offset="0" stop-color="#fff" stop-opacity="0.75"/><stop offset="0.55" stop-color="#fff" stop-opacity="0.875"/><stop offset="1" stop-color="#fff" stop-opacity="1.0"/></linearGradient>
<path d="M338.50,112.90 L359.80,112.90 L359.80,116.10 Q359.80,117.90 358.00,117.90 L340.30,117.90 Q338.50,117.90 338.50,116.10 Z" fill="url(#g91)" filter="url(#blur05)"/>
<linearGradient id="g93" x1="0" y1="0" x2="0" y2="1"><stop offset="0" stop-color="#fff" stop-opacity="0.0"/><stop offset="0.55" stop-color="#fff" stop-opacity="0.450"/><stop offset="1" stop-color="#fff" stop-opacity="0.9"/></linearGradient>
<path d="M366.70,125.30 L388.10,125.30 L388.10,129.30 Q388.10,131.30 386.10,131.30 L368.70,131.30 Q366.70,131.30 366.70,129.30 Z" fill="url(#g93)" filter="url(#blur1)"/>
<linearGradient id="g95" x1="0" y1="0" x2="0" y2="1"><stop offset="0" stop-color="#fff" stop-opacity="0.9"/><stop offset="0.55" stop-color="#fff" stop-opacity="0.950"/><stop offset="1" stop-color="#fff" stop-opacity="1.0"/></linearGradient>
<path d="M367.00,128.60 L387.80,128.60 L387.80,129.60 Q387.80,131.00 386.40,131.00 L368.40,131.00 Q367.00,131.00 367.00,129.60 Z" fill="url(#g95)" filter="url(#blur05)"/>
<linearGradient id="g97" x1="0" y1="0" x2="0" y2="1"><stop offset="0" stop-color="#fff" stop-opacity="0.02"/><stop offset="0.55" stop-color="#fff" stop-opacity="0.110"/><stop offset="1" stop-color="#fff" stop-opacity="0.2"/></linearGradient>
<path d="M367.00,88.00 L387.80,88.00 L387.80,89.20 Q387.80,90.60 386.40,90.60 L368.40,90.60 Q367.00,90.60 367.00,89.20 Z" fill="url(#g97)" filter="url(#blur05)"/>
<linearGradient id="g99" x1="0" y1="0" x2="0" y2="1"><stop offset="0" stop-color="#fff" stop-opacity="0.01"/><stop offset="0.55" stop-color="#fff" stop-opacity="0.045"/><stop offset="1" stop-color="#fff" stop-opacity="0.08"/></linearGradient>
<path d="M367.00,105.80 L387.80,105.80 L387.80,106.40 Q387.80,107.80 386.40,107.80 L368.40,107.80 Q367.00,107.80 367.00,106.40 Z" fill="url(#g99)" filter="url(#blur05)"/>
<text transform="translate(431.80,14.90) scale(1.0,1.0)" font-size="20" text-anchor="start" fill="#000" font-weight="bold" stroke="#000" stroke-width="0.4" >c</text>
<rect x="467.50" y="64.39" width="25.80" height="76.91" fill="#606060" stroke="#111" stroke-width="1.6" />
<rect x="507.40" y="127.77" width="25.80" height="13.53" fill="#c8c8c8" stroke="#111" stroke-width="1.6" />
<line x1="480.50" y1="57.82" x2="480.50" y2="70.18" stroke="#111" stroke-width="1" />
<line x1="473.40" y1="57.50" x2="487.40" y2="57.50" stroke="#111" stroke-width="1" />
<line x1="473.40" y1="70.50" x2="487.40" y2="70.50" stroke="#111" stroke-width="1" />
<line x1="520.50" y1="123.98" x2="520.50" y2="131.10" stroke="#111" stroke-width="1" />
<line x1="513.30" y1="123.50" x2="527.30" y2="123.50" stroke="#111" stroke-width="1" />
<line x1="513.30" y1="131.50" x2="527.30" y2="131.50" stroke="#111" stroke-width="1" />
<line x1="453.50" y1="48.04" x2="453.50" y2="141.30" stroke="#111" stroke-width="1" />
<line x1="452.50" y1="141.50" x2="546.50" y2="141.50" stroke="#111" stroke-width="1" />
<line x1="449.50" y1="141.50" x2="453.00" y2="141.50" stroke="#111" stroke-width="1" />
<text transform="translate(448.90,144.00) scale(1.0,1.14)" font-size="7.45" text-anchor="end" fill="#1a1a1a" font-weight="normal" stroke="#1a1a1a" stroke-width="0.18" >0.0</text>
<line x1="449.50" y1="125.50" x2="453.00" y2="125.50" stroke="#111" stroke-width="1" />
<text transform="translate(448.90,128.54) scale(1.0,1.14)" font-size="7.45" text-anchor="end" fill="#1a1a1a" font-weight="normal" stroke="#1a1a1a" stroke-width="0.18" >0.2</text>
<line x1="449.50" y1="110.50" x2="453.00" y2="110.50" stroke="#111" stroke-width="1" />
<text transform="translate(448.90,113.08) scale(1.0,1.14)" font-size="7.45" text-anchor="end" fill="#1a1a1a" font-weight="normal" stroke="#1a1a1a" stroke-width="0.18" >0.4</text>
<line x1="449.50" y1="94.50" x2="453.00" y2="94.50" stroke="#111" stroke-width="1" />
<text transform="translate(448.90,97.62) scale(1.0,1.14)" font-size="7.45" text-anchor="end" fill="#1a1a1a" font-weight="normal" stroke="#1a1a1a" stroke-width="0.18" >0.6</text>
<line x1="449.50" y1="79.50" x2="453.00" y2="79.50" stroke="#111" stroke-width="1" />
<text transform="translate(448.90,82.16) scale(1.0,1.14)" font-size="7.45" text-anchor="end" fill="#1a1a1a" font-weight="normal" stroke="#1a1a1a" stroke-width="0.18" >0.8</text>
<line x1="449.50" y1="64.50" x2="453.00" y2="64.50" stroke="#111" stroke-width="1" />
<text transform="translate(448.90,66.70) scale(1.0,1.14)" font-size="7.45" text-anchor="end" fill="#1a1a1a" font-weight="normal" stroke="#1a1a1a" stroke-width="0.18" >1.0</text>
<line x1="449.50" y1="48.50" x2="453.00" y2="48.50" stroke="#111" stroke-width="1" />
<text transform="translate(448.90,51.24) scale(1.0,1.14)" font-size="7.45" text-anchor="end" fill="#1a1a1a" font-weight="normal" stroke="#1a1a1a" stroke-width="0.18" >1.2</text>
<line x1="480.50" y1="141.30" x2="480.50" y2="144.60" stroke="#111" stroke-width="1" />
<text transform="translate(480.40,153.90) scale(1.0,1.14)" font-size="7.3" text-anchor="middle" fill="#1a1a1a" font-weight="normal" stroke="#1a1a1a" stroke-width="0.18" >ISO1</text>
<line x1="520.50" y1="141.30" x2="520.50" y2="144.60" stroke="#111" stroke-width="1" />
<text transform="translate(520.30,153.90) scale(1.0,1.14)" font-size="7.3" text-anchor="middle" fill="#1a1a1a" font-weight="normal" stroke="#1a1a1a" stroke-width="0.18" >KO1</text>
<text transform="translate(434.50,95.60) rotate(-90) scale(1,1.14)" font-size="7.45" text-anchor="middle" fill="#1a1a1a" stroke="#1a1a1a" stroke-width="0.18">Relative ABL1 Expression</text>
<text transform="translate(549.60,14.90) scale(1.0,1.0)" font-size="20" text-anchor="start" fill="#000" font-weight="bold" stroke="#000" stroke-width="0.4" >d</text>
<rect x="593.30" y="24.00" width="76.00" height="149.80" fill="#000" stroke="none" stroke-width="1" />
<text transform="translate(584.00,20.00) scale(1.0,1.14)" font-size="5.2" text-anchor="start" fill="#333" font-weight="normal" stroke="#333" stroke-width="0.1" >kD</text>
<text transform="translate(619.00,21.80) scale(1.0,1.14)" font-size="7.3" text-anchor="start" fill="#1a1a1a" font-weight="normal" stroke="#1a1a1a" stroke-width="0.18" >ISO1</text>
<text transform="translate(651.00,21.80) scale(1.0,1.14)" font-size="7.3" text-anchor="start" fill="#1a1a1a" font-weight="normal" stroke="#1a1a1a" stroke-width="0.18" >KO1</text>
<text transform="translate(592.00,30.30) scale(1.0,1.14)" font-size="5.4" text-anchor="end" fill="#333" font-weight="normal" stroke="#333" stroke-width="0.1" >250</text>
<text transform="translate(592.00,43.70) scale(1.0,1.14)" font-size="5.4" text-anchor="end" fill="#333" font-weight="normal" stroke="#333" stroke-width="0.1" >150</text>
<text transform="translate(592.00,54.60) scale(1.0,1.14)" font-size="5.4" text-anchor="end" fill="#333" font-weight="normal" stroke="#333" stroke-width="0.1" >100</text>
<text transform="translate(592.00,61.60) scale(1.0,1.14)" font-size="5.4" text-anchor="end" fill="#333" font-weight="normal" stroke="#333" stroke-width="0.1" >75</text>
<text transform="translate(592.00,84.60) scale(1.0,1.14)" font-size="5.4" text-anchor="end" fill="#333" font-weight="normal" stroke="#333" stroke-width="0.1" >50</text>
<text transform="translate(592.00,100.90) scale(1.0,1.14)" font-size="5.4" text-anchor="end" fill="#333" font-weight="normal" stroke="#333" stroke-width="0.1" >37</text>
<text transform="translate(592.00,120.10) scale(1.0,1.14)" font-size="5.4" text-anchor="end" fill="#333" font-weight="normal" stroke="#333" stroke-width="0.1" >25</text>
<text transform="translate(592.00,131.00) scale(1.0,1.14)" font-size="5.4" text-anchor="end" fill="#333" font-weight="normal" stroke="#333" stroke-width="0.1" >20</text>
<text transform="translate(592.00,145.70) scale(1.0,1.14)" font-size="5.4" text-anchor="end" fill="#333" font-weight="normal" stroke="#333" stroke-width="0.1" >15</text>
<text transform="translate(592.00,162.00) scale(1.0,1.14)" font-size="5.4" text-anchor="end" fill="#333" font-weight="normal" stroke="#333" stroke-width="0.1" >10</text>
<path d="M603.2,25 L617.8,25 L617.6,100 L616.6,135 L614.8,165 L599.5,165 L600.5,135 L602.5,100 Z" fill="#2a0303" filter="url(#blur1)"/>
<ellipse cx="610.40" cy="29.40" rx="7.00" ry="1.80" fill="#7a0a0a" opacity="1.0" filter="url(#blur1)"/>
<ellipse cx="610.40" cy="41.40" rx="7.00" ry="1.70" fill="#5a0707" opacity="1.0" filter="url(#blur1)"/>
<ellipse cx="610.40" cy="53.40" rx="7.20" ry="1.90" fill="#8e0e0e" opacity="1.0" filter="url(#blur1)"/>
<ellipse cx="610.50" cy="58.80" rx="7.20" ry="2.40" fill="#a01212" opacity="1.0" filter="url(#blur1)"/>
<ellipse cx="610.60" cy="84.50" rx="7.60" ry="3.00" fill="#b41414" opacity="1.0" filter="url(#blur1)"/>
<ellipse cx="611.50" cy="101.60" rx="7.80" ry="3.60" fill="#9a1010" opacity="1.0" filter="url(#blur1)"/>
<ellipse cx="610.00" cy="120.20" rx="6.40" ry="2.80" fill="#8a0e0e" opacity="1.0" filter="url(#blur1)"/>
<ellipse cx="609.10" cy="131.60" rx="7.00" ry="2.80" fill="#8a0e0e" opacity="1.0" filter="url(#blur1)"/>
<ellipse cx="607.30" cy="144.50" rx="7.20" ry="3.20" fill="#800e0e" opacity="1.0" filter="url(#blur1)"/>
<ellipse cx="605.40" cy="159.40" rx="6.60" ry="3.20" fill="#4a0606" opacity="1.0" filter="url(#blur1)"/>
<ellipse cx="632.00" cy="110.00" rx="9.50" ry="40.00" fill="#081a08" opacity="0.7" filter="url(#blur3)"/>
<ellipse cx="653.00" cy="115.00" rx="9.50" ry="45.00" fill="#081a08" opacity="0.7" filter="url(#blur3)"/>
<ellipse cx="624.00" cy="26.50" rx="4.00" ry="2.50" fill="#0f300f" opacity="0.7" filter="url(#blur1)"/>
<ellipse cx="660.00" cy="34.00" rx="2.50" ry="8.00" fill="#0a1f0a" opacity="0.7" filter="url(#blur1)"/>
<ellipse cx="632.00" cy="105.00" rx="9.00" ry="1.20" fill="#143814" opacity="0.6" filter="url(#blur07)"/>
<ellipse cx="652.00" cy="105.00" rx="9.00" ry="1.20" fill="#143814" opacity="0.6" filter="url(#blur07)"/>
<path d="M622.6,42.4 L640.6,42.0 L640.6,43.6 Q631,44.6 622.6,44.2 Z" fill="#2aa82a" filter="url(#blur05)"/>
<path d="M623,36.3 L639,36.1 L639,37.1 L623,37.3 Z" fill="#1d4d1d" filter="url(#blur05)"/>
<path d="M645,36.4 L656,35.7 L656,36.6 L645,37.2 Z" fill="#173f17" filter="url(#blur05)"/>
<path d="M622.4,82.6 Q631.5,83.6 641.6,82.6 L641.6,87.4 Q640.5,89.0 637,89.0 L627,89.0 Q623.5,89.0 622.4,87.4 Z" fill="#c01818" filter="url(#blur1)"/>
<path d="M644.0,84.0 Q654,85.0 664.2,84.0 L664.2,88.8 Q663.0,90.4 659.6,90.4 L648.4,90.4 Q645.0,90.4 644.0,88.8 Z" fill="#c01818" filter="url(#blur1)"/>
<path d="M635.8,118.6 L640.0,122.2 L635.9,126.6" fill="none" stroke="#ff1e1e" stroke-width="1.7" stroke-linejoin="round" filter="url(#blur03)"/>
<circle cx="632.8" cy="36.3" r="1.20" fill="#e02424" filter="url(#blur03)"/>
<circle cx="625.9" cy="54.8" r="1.10" fill="#8a1010" filter="url(#blur03)"/>
<circle cx="633" cy="62.6" r="1.10" fill="#8a1010" filter="url(#blur03)"/>
<circle cx="640.6" cy="60.6" r="1.10" fill="#8a1010" filter="url(#blur03)"/>
<circle cx="624.8" cy="71" r="1.10" fill="#9a1212" filter="url(#blur03)"/>
<circle cx="632.6" cy="70.2" r="0.90" fill="#601010" filter="url(#blur03)"/>
<circle cx="654.4" cy="71.2" r="1.20" fill="#a01414" filter="url(#blur03)"/>
<circle cx="656.6" cy="77.5" r="1.10" fill="#9a1212" filter="url(#blur03)"/>
<circle cx="649.8" cy="80.6" r="1.10" fill="#8a1010" filter="url(#blur03)"/>
<circle cx="665" cy="68" r="0.90" fill="#601010" filter="url(#blur03)"/>
<circle cx="593.8" cy="115" r="0.90" fill="#801010" filter="url(#blur03)"/>
<circle cx="650.6" cy="121.5" r="0.90" fill="#601010" filter="url(#blur03)"/>
<circle cx="653.5" cy="136.5" r="1.00" fill="#581010" filter="url(#blur03)"/>
<circle cx="647" cy="133" r="0.90" fill="#501010" filter="url(#blur03)"/>
<text transform="translate(10.00,204.00) scale(1.0,1.0)" font-size="20" text-anchor="start" fill="#000" font-weight="bold" stroke="#000" stroke-width="0.4" >e</text>
<line x1="61.50" y1="215.98" x2="61.50" y2="309.10" stroke="#111" stroke-width="1" />
<line x1="57.90" y1="308.50" x2="61.90" y2="308.50" stroke="#111" stroke-width="1" />
<text transform="translate(57.00,311.30) scale(1.0,1.14)" font-size="7.45" text-anchor="end" fill="#1a1a1a" font-weight="normal" stroke="#1a1a1a" stroke-width="0.18" >0.0</text>
<line x1="57.90" y1="291.50" x2="61.90" y2="291.50" stroke="#111" stroke-width="1" />
<text transform="translate(57.00,294.46) scale(1.0,1.14)" font-size="7.45" text-anchor="end" fill="#1a1a1a" font-weight="normal" stroke="#1a1a1a" stroke-width="0.18" >0.2</text>
<line x1="57.90" y1="274.50" x2="61.90" y2="274.50" stroke="#111" stroke-width="1" />
<text transform="translate(57.00,277.62) scale(1.0,1.14)" font-size="7.45" text-anchor="end" fill="#1a1a1a" font-weight="normal" stroke="#1a1a1a" stroke-width="0.18" >0.4</text>
<line x1="57.90" y1="258.50" x2="61.90" y2="258.50" stroke="#111" stroke-width="1" />
<text transform="translate(57.00,260.78) scale(1.0,1.14)" font-size="7.45" text-anchor="end" fill="#1a1a1a" font-weight="normal" stroke="#1a1a1a" stroke-width="0.18" >0.6</text>
<line x1="57.90" y1="241.50" x2="61.90" y2="241.50" stroke="#111" stroke-width="1" />
<text transform="translate(57.00,243.94) scale(1.0,1.14)" font-size="7.45" text-anchor="end" fill="#1a1a1a" font-weight="normal" stroke="#1a1a1a" stroke-width="0.18" >0.8</text>
<line x1="57.90" y1="224.50" x2="61.90" y2="224.50" stroke="#111" stroke-width="1" />
<text transform="translate(57.00,227.10) scale(1.0,1.14)" font-size="7.45" text-anchor="end" fill="#1a1a1a" font-weight="normal" stroke="#1a1a1a" stroke-width="0.18" >1.0</text>
<line x1="61.40" y1="308.50" x2="200.90" y2="308.50" stroke="#111" stroke-width="1" />
<line x1="61.50" y1="308.60" x2="61.50" y2="312.20" stroke="#111" stroke-width="1" />
<text transform="translate(61.90,321.30) scale(1.0,1.14)" font-size="7.45" text-anchor="middle" fill="#1a1a1a" font-weight="normal" stroke="#1a1a1a" stroke-width="0.18" >0</text>
<line x1="89.50" y1="308.60" x2="89.50" y2="312.20" stroke="#111" stroke-width="1" />
<text transform="translate(89.70,321.30) scale(1.0,1.14)" font-size="7.45" text-anchor="middle" fill="#1a1a1a" font-weight="normal" stroke="#1a1a1a" stroke-width="0.18" >1</text>
<line x1="117.50" y1="308.60" x2="117.50" y2="312.20" stroke="#111" stroke-width="1" />
<text transform="translate(117.50,321.30) scale(1.0,1.14)" font-size="7.45" text-anchor="middle" fill="#1a1a1a" font-weight="normal" stroke="#1a1a1a" stroke-width="0.18" >2</text>
<line x1="145.50" y1="308.60" x2="145.50" y2="312.20" stroke="#111" stroke-width="1" />
<text transform="translate(145.30,321.30) scale(1.0,1.14)" font-size="7.45" text-anchor="middle" fill="#1a1a1a" font-weight="normal" stroke="#1a1a1a" stroke-width="0.18" >3</text>
<line x1="173.50" y1="308.60" x2="173.50" y2="312.20" stroke="#111" stroke-width="1" />
<text transform="translate(173.10,321.30) scale(1.0,1.14)" font-size="7.45" text-anchor="middle" fill="#1a1a1a" font-weight="normal" stroke="#1a1a1a" stroke-width="0.18" >4</text>
<line x1="200.50" y1="308.60" x2="200.50" y2="312.20" stroke="#111" stroke-width="1" />
<text transform="translate(200.90,321.30) scale(1.0,1.14)" font-size="7.45" text-anchor="middle" fill="#1a1a1a" font-weight="normal" stroke="#1a1a1a" stroke-width="0.18" >5</text>
<text transform="translate(131.40,333.40) scale(1.0,1.14)" font-size="7.4" text-anchor="middle" fill="#1a1a1a" font-weight="normal" stroke="#1a1a1a" stroke-width="0.18" >Days</text>
<text transform="translate(30.60,261.20) rotate(-90) scale(1,1.12)" font-size="7.45" text-anchor="middle" fill="#1a1a1a" stroke="#1a1a1a" stroke-width="0.18">Cell Viability</text>
<text transform="translate(39.90,261.20) rotate(-90) scale(1,1.12)" font-size="7.45" text-anchor="middle" fill="#1a1a1a" stroke="#1a1a1a" stroke-width="0.18">(Normalized Mean Fluorescence)</text>
<line x1="89.50" y1="295.97" x2="89.50" y2="301.02" stroke="#1a1af5" stroke-width="0.9" />
<line x1="87.70" y1="295.50" x2="91.70" y2="295.50" stroke="#1a1af5" stroke-width="0.9" />
<line x1="87.70" y1="301.50" x2="91.70" y2="301.50" stroke="#1a1af5" stroke-width="0.9" />
<line x1="117.50" y1="287.55" x2="117.50" y2="292.60" stroke="#1a1af5" stroke-width="0.9" />
<line x1="115.50" y1="287.50" x2="119.50" y2="287.50" stroke="#1a1af5" stroke-width="0.9" />
<line x1="115.50" y1="292.50" x2="119.50" y2="292.50" stroke="#1a1af5" stroke-width="0.9" />
<line x1="145.50" y1="273.24" x2="145.50" y2="279.97" stroke="#1a1af5" stroke-width="0.9" />
<line x1="143.30" y1="273.50" x2="147.30" y2="273.50" stroke="#1a1af5" stroke-width="0.9" />
<line x1="143.30" y1="279.50" x2="147.30" y2="279.50" stroke="#1a1af5" stroke-width="0.9" />
<line x1="173.50" y1="231.39" x2="173.50" y2="249.41" stroke="#1a1af5" stroke-width="0.9" />
<line x1="171.10" y1="231.50" x2="175.10" y2="231.50" stroke="#1a1af5" stroke-width="0.9" />
<line x1="171.10" y1="249.50" x2="175.10" y2="249.50" stroke="#1a1af5" stroke-width="0.9" />
<line x1="200.50" y1="220.86" x2="200.50" y2="222.88" stroke="#1a1af5" stroke-width="0.9" />
<line x1="198.90" y1="220.50" x2="202.90" y2="220.50" stroke="#1a1af5" stroke-width="0.9" />
<line x1="198.90" y1="222.50" x2="202.90" y2="222.50" stroke="#1a1af5" stroke-width="0.9" />
<line x1="89.50" y1="296.81" x2="89.50" y2="300.18" stroke="#f5141e" stroke-width="0.9" />
<line x1="87.70" y1="296.50" x2="91.70" y2="296.50" stroke="#f5141e" stroke-width="0.9" />
<line x1="87.70" y1="300.50" x2="91.70" y2="300.50" stroke="#f5141e" stroke-width="0.9" />
<line x1="117.50" y1="292.18" x2="117.50" y2="294.71" stroke="#f5141e" stroke-width="0.9" />
<line x1="115.50" y1="292.50" x2="119.50" y2="292.50" stroke="#f5141e" stroke-width="0.9" />
<line x1="115.50" y1="294.50" x2="119.50" y2="294.50" stroke="#f5141e" stroke-width="0.9" />
<line x1="145.50" y1="280.65" x2="145.50" y2="287.04" stroke="#f5141e" stroke-width="0.9" />
<line x1="143.30" y1="280.50" x2="147.30" y2="280.50" stroke="#f5141e" stroke-width="0.9" />
<line x1="143.30" y1="287.50" x2="147.30" y2="287.50" stroke="#f5141e" stroke-width="0.9" />
<line x1="173.50" y1="262.96" x2="173.50" y2="269.36" stroke="#f5141e" stroke-width="0.9" />
<line x1="171.10" y1="262.50" x2="175.10" y2="262.50" stroke="#f5141e" stroke-width="0.9" />
<line x1="171.10" y1="269.50" x2="175.10" y2="269.50" stroke="#f5141e" stroke-width="0.9" />
<line x1="200.50" y1="249.58" x2="200.50" y2="250.92" stroke="#f5141e" stroke-width="0.9" />
<line x1="198.90" y1="249.50" x2="202.90" y2="249.50" stroke="#f5141e" stroke-width="0.9" />
<line x1="198.90" y1="250.50" x2="202.90" y2="250.50" stroke="#f5141e" stroke-width="0.9" />
<line x1="89.50" y1="296.39" x2="89.50" y2="300.60" stroke="#000" stroke-width="0.9" />
<line x1="87.70" y1="296.50" x2="91.70" y2="296.50" stroke="#000" stroke-width="0.9" />
<line x1="87.70" y1="300.50" x2="91.70" y2="300.50" stroke="#000" stroke-width="0.9" />
<line x1="117.50" y1="288.39" x2="117.50" y2="293.44" stroke="#000" stroke-width="0.9" />
<line x1="115.50" y1="288.50" x2="119.50" y2="288.50" stroke="#000" stroke-width="0.9" />
<line x1="115.50" y1="293.50" x2="119.50" y2="293.50" stroke="#000" stroke-width="0.9" />
<line x1="145.50" y1="273.40" x2="145.50" y2="280.14" stroke="#000" stroke-width="0.9" />
<line x1="143.30" y1="273.50" x2="147.30" y2="273.50" stroke="#000" stroke-width="0.9" />
<line x1="143.30" y1="280.50" x2="147.30" y2="280.50" stroke="#000" stroke-width="0.9" />
<line x1="173.50" y1="238.38" x2="173.50" y2="245.11" stroke="#000" stroke-width="0.9" />
<line x1="171.10" y1="238.50" x2="175.10" y2="238.50" stroke="#000" stroke-width="0.9" />
<line x1="171.10" y1="245.50" x2="175.10" y2="245.50" stroke="#000" stroke-width="0.9" />
<line x1="200.50" y1="222.88" x2="200.50" y2="224.91" stroke="#000" stroke-width="0.9" />
<line x1="198.90" y1="222.50" x2="202.90" y2="222.50" stroke="#000" stroke-width="0.9" />
<line x1="198.90" y1="224.50" x2="202.90" y2="224.50" stroke="#000" stroke-width="0.9" />
<circle cx="89.70" cy="298.50" r="1.75" fill="#1a1af5" stroke="none" stroke-width="1"/>
<circle cx="117.50" cy="290.08" r="1.75" fill="#1a1af5" stroke="none" stroke-width="1"/>
<circle cx="145.30" cy="276.60" r="1.75" fill="#1a1af5" stroke="none" stroke-width="1"/>
<circle cx="173.10" cy="240.40" r="1.75" fill="#1a1af5" stroke="none" stroke-width="1"/>
<circle cx="200.90" cy="221.87" r="1.75" fill="#1a1af5" stroke="none" stroke-width="1"/>
<circle cx="89.70" cy="298.50" r="1.75" fill="#f5141e" stroke="none" stroke-width="1"/>
<circle cx="117.50" cy="293.44" r="1.75" fill="#f5141e" stroke="none" stroke-width="1"/>
<circle cx="145.30" cy="283.85" r="1.75" fill="#f5141e" stroke="none" stroke-width="1"/>
<circle cx="173.10" cy="266.16" r="1.75" fill="#f5141e" stroke="none" stroke-width="1"/>
<circle cx="200.90" cy="250.25" r="1.75" fill="#f5141e" stroke="none" stroke-width="1"/>
<circle cx="89.70" cy="298.50" r="1.75" fill="#000" stroke="none" stroke-width="1"/>
<circle cx="117.50" cy="290.92" r="1.75" fill="#000" stroke="none" stroke-width="1"/>
<circle cx="145.30" cy="276.77" r="1.75" fill="#000" stroke="none" stroke-width="1"/>
<circle cx="173.10" cy="241.75" r="1.75" fill="#000" stroke="none" stroke-width="1"/>
<circle cx="200.90" cy="223.89" r="1.75" fill="#000" stroke="none" stroke-width="1"/>
<circle cx="72.20" cy="222.60" r="1.89" fill="#000" stroke="none" stroke-width="1"/>
<text transform="translate(83.20,225.30) scale(1.0,1.14)" font-size="7.3" text-anchor="start" fill="#1a1a1a" font-weight="normal" stroke="#1a1a1a" stroke-width="0.18" >ISO DMSO</text>
<circle cx="72.20" cy="235.90" r="1.89" fill="#f5141e" stroke="none" stroke-width="1"/>
<text transform="translate(83.20,238.60) scale(1.0,1.14)" font-size="7.3" text-anchor="start" fill="#1a1a1a" font-weight="normal" stroke="#1a1a1a" stroke-width="0.18" >ISO Nilotinib</text>
<circle cx="72.20" cy="249.30" r="1.89" fill="#1a1af5" stroke="none" stroke-width="1"/>
<text transform="translate(83.20,252.00) scale(1.0,1.14)" font-size="7.3" text-anchor="start" fill="#1a1a1a" font-weight="normal" stroke="#1a1a1a" stroke-width="0.18" >ISO Imatinib</text>
<line x1="292.50" y1="214.84" x2="292.50" y2="308.40" stroke="#111" stroke-width="1" />
<line x1="288.70" y1="307.50" x2="292.70" y2="307.50" stroke="#111" stroke-width="1" />
<text transform="translate(287.80,310.60) scale(1.0,1.14)" font-size="7.45" text-anchor="end" fill="#1a1a1a" font-weight="normal" stroke="#1a1a1a" stroke-width="0.18" >0.0</text>
<line x1="288.70" y1="290.50" x2="292.70" y2="290.50" stroke="#111" stroke-width="1" />
<text transform="translate(287.80,293.68) scale(1.0,1.14)" font-size="7.45" text-anchor="end" fill="#1a1a1a" font-weight="normal" stroke="#1a1a1a" stroke-width="0.18" >0.2</text>
<line x1="288.70" y1="274.50" x2="292.70" y2="274.50" stroke="#111" stroke-width="1" />
<text transform="translate(287.80,276.76) scale(1.0,1.14)" font-size="7.45" text-anchor="end" fill="#1a1a1a" font-weight="normal" stroke="#1a1a1a" stroke-width="0.18" >0.4</text>
<line x1="288.70" y1="257.50" x2="292.70" y2="257.50" stroke="#111" stroke-width="1" />
<text transform="translate(287.80,259.84) scale(1.0,1.14)" font-size="7.45" text-anchor="end" fill="#1a1a1a" font-weight="normal" stroke="#1a1a1a" stroke-width="0.18" >0.6</text>
<line x1="288.70" y1="240.50" x2="292.70" y2="240.50" stroke="#111" stroke-width="1" />
<text transform="translate(287.80,242.92) scale(1.0,1.14)" font-size="7.45" text-anchor="end" fill="#1a1a1a" font-weight="normal" stroke="#1a1a1a" stroke-width="0.18" >0.8</text>
<line x1="288.70" y1="223.50" x2="292.70" y2="223.50" stroke="#111" stroke-width="1" />
<text transform="translate(287.80,226.00) scale(1.0,1.14)" font-size="7.45" text-anchor="end" fill="#1a1a1a" font-weight="normal" stroke="#1a1a1a" stroke-width="0.18" >1.0</text>
<line x1="292.20" y1="307.50" x2="431.20" y2="307.50" stroke="#111" stroke-width="1" />
<line x1="292.50" y1="307.90" x2="292.50" y2="311.50" stroke="#111" stroke-width="1" />
<text transform="translate(292.70,321.30) scale(1.0,1.14)" font-size="7.45" text-anchor="middle" fill="#1a1a1a" font-weight="normal" stroke="#1a1a1a" stroke-width="0.18" >0</text>
<line x1="320.50" y1="307.90" x2="320.50" y2="311.50" stroke="#111" stroke-width="1" />
<text transform="translate(320.40,321.30) scale(1.0,1.14)" font-size="7.45" text-anchor="middle" fill="#1a1a1a" font-weight="normal" stroke="#1a1a1a" stroke-width="0.18" >1</text>
<line x1="348.50" y1="307.90" x2="348.50" y2="311.50" stroke="#111" stroke-width="1" />
<text transform="translate(348.10,321.30) scale(1.0,1.14)" font-size="7.45" text-anchor="middle" fill="#1a1a1a" font-weight="normal" stroke="#1a1a1a" stroke-width="0.18" >2</text>
<line x1="375.50" y1="307.90" x2="375.50" y2="311.50" stroke="#111" stroke-width="1" />
<text transform="translate(375.80,321.30) scale(1.0,1.14)" font-size="7.45" text-anchor="middle" fill="#1a1a1a" font-weight="normal" stroke="#1a1a1a" stroke-width="0.18" >3</text>
<line x1="403.50" y1="307.90" x2="403.50" y2="311.50" stroke="#111" stroke-width="1" />
<text transform="translate(403.50,321.30) scale(1.0,1.14)" font-size="7.45" text-anchor="middle" fill="#1a1a1a" font-weight="normal" stroke="#1a1a1a" stroke-width="0.18" >4</text>
<line x1="431.50" y1="307.90" x2="431.50" y2="311.50" stroke="#111" stroke-width="1" />
<text transform="translate(431.20,321.30) scale(1.0,1.14)" font-size="7.45" text-anchor="middle" fill="#1a1a1a" font-weight="normal" stroke="#1a1a1a" stroke-width="0.18" >5</text>
<text transform="translate(361.95,333.40) scale(1.0,1.14)" font-size="7.4" text-anchor="middle" fill="#1a1a1a" font-weight="normal" stroke="#1a1a1a" stroke-width="0.18" >Days</text>
<text transform="translate(261.10,256.60) rotate(-90) scale(1,1.12)" font-size="7.45" text-anchor="middle" fill="#1a1a1a" stroke="#1a1a1a" stroke-width="0.18">Cell Viability</text>
<text transform="translate(270.00,256.60) rotate(-90) scale(1,1.12)" font-size="7.45" text-anchor="middle" fill="#1a1a1a" stroke="#1a1a1a" stroke-width="0.18">(Normalized Mean Fluorescence)</text>
<line x1="320.50" y1="297.66" x2="320.50" y2="300.20" stroke="#1a1af5" stroke-width="0.9" />
<line x1="318.40" y1="297.50" x2="322.40" y2="297.50" stroke="#1a1af5" stroke-width="0.9" />
<line x1="318.40" y1="300.50" x2="322.40" y2="300.50" stroke="#1a1af5" stroke-width="0.9" />
<line x1="348.50" y1="285.06" x2="348.50" y2="293.52" stroke="#1a1af5" stroke-width="0.9" />
<line x1="346.10" y1="285.50" x2="350.10" y2="285.50" stroke="#1a1af5" stroke-width="0.9" />
<line x1="346.10" y1="293.50" x2="350.10" y2="293.50" stroke="#1a1af5" stroke-width="0.9" />
<line x1="375.50" y1="270.68" x2="375.50" y2="279.14" stroke="#1a1af5" stroke-width="0.9" />
<line x1="373.80" y1="270.50" x2="377.80" y2="270.50" stroke="#1a1af5" stroke-width="0.9" />
<line x1="373.80" y1="279.50" x2="377.80" y2="279.50" stroke="#1a1af5" stroke-width="0.9" />
<line x1="403.50" y1="233.45" x2="403.50" y2="245.30" stroke="#1a1af5" stroke-width="0.9" />
<line x1="401.50" y1="233.50" x2="405.50" y2="233.50" stroke="#1a1af5" stroke-width="0.9" />
<line x1="401.50" y1="245.50" x2="405.50" y2="245.50" stroke="#1a1af5" stroke-width="0.9" />
<line x1="431.50" y1="217.21" x2="431.50" y2="219.24" stroke="#1a1af5" stroke-width="0.9" />
<line x1="429.20" y1="217.50" x2="433.20" y2="217.50" stroke="#1a1af5" stroke-width="0.9" />
<line x1="429.20" y1="219.50" x2="433.20" y2="219.50" stroke="#1a1af5" stroke-width="0.9" />
<line x1="320.50" y1="297.32" x2="320.50" y2="299.86" stroke="#f5141e" stroke-width="0.9" />
<line x1="318.40" y1="297.50" x2="322.40" y2="297.50" stroke="#f5141e" stroke-width="0.9" />
<line x1="318.40" y1="299.50" x2="322.40" y2="299.50" stroke="#f5141e" stroke-width="0.9" />
<line x1="348.50" y1="290.13" x2="348.50" y2="293.52" stroke="#f5141e" stroke-width="0.9" />
<line x1="346.10" y1="290.50" x2="350.10" y2="290.50" stroke="#f5141e" stroke-width="0.9" />
<line x1="346.10" y1="293.50" x2="350.10" y2="293.50" stroke="#f5141e" stroke-width="0.9" />
<line x1="375.50" y1="284.21" x2="375.50" y2="285.90" stroke="#f5141e" stroke-width="0.9" />
<line x1="373.80" y1="284.50" x2="377.80" y2="284.50" stroke="#f5141e" stroke-width="0.9" />
<line x1="373.80" y1="285.50" x2="377.80" y2="285.50" stroke="#f5141e" stroke-width="0.9" />
<line x1="403.50" y1="257.56" x2="403.50" y2="263.48" stroke="#f5141e" stroke-width="0.9" />
<line x1="401.50" y1="257.50" x2="405.50" y2="257.50" stroke="#f5141e" stroke-width="0.9" />
<line x1="401.50" y1="263.50" x2="405.50" y2="263.50" stroke="#f5141e" stroke-width="0.9" />
<line x1="431.50" y1="240.14" x2="431.50" y2="247.24" stroke="#f5141e" stroke-width="0.9" />
<line x1="429.20" y1="240.50" x2="433.20" y2="240.50" stroke="#f5141e" stroke-width="0.9" />
<line x1="429.20" y1="247.50" x2="433.20" y2="247.50" stroke="#f5141e" stroke-width="0.9" />
<line x1="320.50" y1="297.66" x2="320.50" y2="300.20" stroke="#000" stroke-width="0.9" />
<line x1="318.40" y1="297.50" x2="322.40" y2="297.50" stroke="#000" stroke-width="0.9" />
<line x1="318.40" y1="300.50" x2="322.40" y2="300.50" stroke="#000" stroke-width="0.9" />
<line x1="348.50" y1="288.02" x2="348.50" y2="293.09" stroke="#000" stroke-width="0.9" />
<line x1="346.10" y1="288.50" x2="350.10" y2="288.50" stroke="#000" stroke-width="0.9" />
<line x1="346.10" y1="293.50" x2="350.10" y2="293.50" stroke="#000" stroke-width="0.9" />
<line x1="375.50" y1="271.52" x2="375.50" y2="278.29" stroke="#000" stroke-width="0.9" />
<line x1="373.80" y1="271.50" x2="377.80" y2="271.50" stroke="#000" stroke-width="0.9" />
<line x1="373.80" y1="278.50" x2="377.80" y2="278.50" stroke="#000" stroke-width="0.9" />
<line x1="403.50" y1="232.86" x2="403.50" y2="246.73" stroke="#000" stroke-width="0.9" />
<line x1="401.50" y1="232.50" x2="405.50" y2="232.50" stroke="#000" stroke-width="0.9" />
<line x1="401.50" y1="246.50" x2="405.50" y2="246.50" stroke="#000" stroke-width="0.9" />
<line x1="431.50" y1="222.45" x2="431.50" y2="224.15" stroke="#000" stroke-width="0.9" />
<line x1="429.20" y1="222.50" x2="433.20" y2="222.50" stroke="#000" stroke-width="0.9" />
<line x1="429.20" y1="224.50" x2="433.20" y2="224.50" stroke="#000" stroke-width="0.9" />
<circle cx="320.40" cy="298.93" r="1.75" fill="#fff" stroke="#1a1af5" stroke-width="1.15"/>
<circle cx="348.10" cy="289.29" r="1.75" fill="#fff" stroke="#1a1af5" stroke-width="1.15"/>
<circle cx="375.80" cy="274.91" r="1.75" fill="#fff" stroke="#1a1af5" stroke-width="1.15"/>
<circle cx="403.50" cy="239.37" r="1.75" fill="#fff" stroke="#1a1af5" stroke-width="1.15"/>
<circle cx="431.20" cy="218.22" r="1.75" fill="#fff" stroke="#1a1af5" stroke-width="1.15"/>
<circle cx="320.40" cy="298.59" r="1.75" fill="#fff" stroke="#f5141e" stroke-width="1.15"/>
<circle cx="348.10" cy="291.83" r="1.75" fill="#fff" stroke="#f5141e" stroke-width="1.15"/>
<circle cx="375.80" cy="285.06" r="1.75" fill="#fff" stroke="#f5141e" stroke-width="1.15"/>
<circle cx="403.50" cy="260.52" r="1.75" fill="#fff" stroke="#f5141e" stroke-width="1.15"/>
<circle cx="431.20" cy="243.69" r="1.75" fill="#fff" stroke="#f5141e" stroke-width="1.15"/>
<circle cx="320.40" cy="298.93" r="1.75" fill="#fff" stroke="#000" stroke-width="1.15"/>
<circle cx="348.10" cy="290.56" r="1.75" fill="#fff" stroke="#000" stroke-width="1.15"/>
<circle cx="375.80" cy="274.91" r="1.75" fill="#fff" stroke="#000" stroke-width="1.15"/>
<circle cx="403.50" cy="239.80" r="1.75" fill="#fff" stroke="#000" stroke-width="1.15"/>
<circle cx="431.20" cy="223.30" r="1.75" fill="#fff" stroke="#000" stroke-width="1.15"/>
<circle cx="303.00" cy="223.80" r="1.89" fill="#fff" stroke="#000" stroke-width="1.15"/>
<text transform="translate(314.00,226.50) scale(1.0,1.14)" font-size="7.3" text-anchor="start" fill="#1a1a1a" font-weight="normal" stroke="#1a1a1a" stroke-width="0.18" >KO DMSO</text>
<circle cx="303.00" cy="237.00" r="1.89" fill="#fff" stroke="#f5141e" stroke-width="1.15"/>
<text transform="translate(314.00,239.70) scale(1.0,1.14)" font-size="7.3" text-anchor="start" fill="#1a1a1a" font-weight="normal" stroke="#1a1a1a" stroke-width="0.18" >KO Nilotinib</text>
<circle cx="303.00" cy="249.60" r="1.89" fill="#fff" stroke="#1a1af5" stroke-width="1.15"/>
<text transform="translate(314.00,252.30) scale(1.0,1.14)" font-size="7.3" text-anchor="start" fill="#1a1a1a" font-weight="normal" stroke="#1a1a1a" stroke-width="0.18" >KO Imatinib</text>
<line x1="528.50" y1="215.10" x2="528.50" y2="308.10" stroke="#111" stroke-width="1" />
<line x1="524.40" y1="307.50" x2="528.40" y2="307.50" stroke="#111" stroke-width="1" />
<text transform="translate(523.50,310.30) scale(1.0,1.14)" font-size="7.45" text-anchor="end" fill="#1a1a1a" font-weight="normal" stroke="#1a1a1a" stroke-width="0.18" >0.0</text>
<line x1="524.40" y1="292.50" x2="528.40" y2="292.50" stroke="#111" stroke-width="1" />
<text transform="translate(523.50,294.92) scale(1.0,1.14)" font-size="7.45" text-anchor="end" fill="#1a1a1a" font-weight="normal" stroke="#1a1a1a" stroke-width="0.18" >0.2</text>
<line x1="524.40" y1="276.50" x2="528.40" y2="276.50" stroke="#111" stroke-width="1" />
<text transform="translate(523.50,279.54) scale(1.0,1.14)" font-size="7.45" text-anchor="end" fill="#1a1a1a" font-weight="normal" stroke="#1a1a1a" stroke-width="0.18" >0.4</text>
<line x1="524.40" y1="261.50" x2="528.40" y2="261.50" stroke="#111" stroke-width="1" />
<text transform="translate(523.50,264.16) scale(1.0,1.14)" font-size="7.45" text-anchor="end" fill="#1a1a1a" font-weight="normal" stroke="#1a1a1a" stroke-width="0.18" >0.6</text>
<line x1="524.40" y1="246.50" x2="528.40" y2="246.50" stroke="#111" stroke-width="1" />
<text transform="translate(523.50,248.78) scale(1.0,1.14)" font-size="7.45" text-anchor="end" fill="#1a1a1a" font-weight="normal" stroke="#1a1a1a" stroke-width="0.18" >0.8</text>
<line x1="524.40" y1="230.50" x2="528.40" y2="230.50" stroke="#111" stroke-width="1" />
<text transform="translate(523.50,233.40) scale(1.0,1.14)" font-size="7.45" text-anchor="end" fill="#1a1a1a" font-weight="normal" stroke="#1a1a1a" stroke-width="0.18" >1.0</text>
<line x1="524.40" y1="215.50" x2="528.40" y2="215.50" stroke="#111" stroke-width="1" />
<text transform="translate(523.50,218.02) scale(1.0,1.14)" font-size="7.45" text-anchor="end" fill="#1a1a1a" font-weight="normal" stroke="#1a1a1a" stroke-width="0.18" >1.2</text>
<line x1="527.90" y1="307.50" x2="620.60" y2="307.50" stroke="#111" stroke-width="1" />
<line x1="542.50" y1="307.60" x2="542.50" y2="311.10" stroke="#111" stroke-width="1" />
<text transform="translate(542.40,320.20) scale(1.0,1.14)" font-size="7.3" text-anchor="middle" fill="#1a1a1a" font-weight="normal" stroke="#1a1a1a" stroke-width="0.18" >DMSO</text>
<line x1="574.50" y1="307.60" x2="574.50" y2="311.10" stroke="#111" stroke-width="1" />
<text transform="translate(574.60,320.20) scale(1.0,1.14)" font-size="7.3" text-anchor="middle" fill="#1a1a1a" font-weight="normal" stroke="#1a1a1a" stroke-width="0.18" >Nilotinib</text>
<line x1="606.50" y1="307.60" x2="606.50" y2="311.10" stroke="#111" stroke-width="1" />
<text transform="translate(606.80,320.20) scale(1.0,1.14)" font-size="7.3" text-anchor="middle" fill="#1a1a1a" font-weight="normal" stroke="#1a1a1a" stroke-width="0.18" >Imatinib</text>
<circle cx="534.20" cy="230.70" r="1.93" fill="#000" stroke="none" stroke-width="1"/>
<circle cx="536.50" cy="230.70" r="1.93" fill="#000" stroke="none" stroke-width="1"/>
<circle cx="538.80" cy="230.70" r="1.93" fill="#000" stroke="none" stroke-width="1"/>
<line x1="532.20" y1="230.50" x2="540.80" y2="230.50" stroke="#000" stroke-width="0.9" />
<circle cx="546.40" cy="230.70" r="1.93" fill="#fff" stroke="#000" stroke-width="1.15"/>
<circle cx="548.80" cy="230.70" r="1.93" fill="#fff" stroke="#000" stroke-width="1.15"/>
<circle cx="551.20" cy="230.70" r="1.93" fill="#fff" stroke="#000" stroke-width="1.15"/>
<line x1="544.50" y1="230.50" x2="553.10" y2="230.50" stroke="#000" stroke-width="0.9" />
<circle cx="566.40" cy="255.31" r="1.93" fill="#000" stroke="none" stroke-width="1"/>
<circle cx="568.80" cy="254.92" r="1.93" fill="#000" stroke="none" stroke-width="1"/>
<circle cx="571.00" cy="254.54" r="1.93" fill="#000" stroke="none" stroke-width="1"/>
<line x1="564.43" y1="254.50" x2="573.03" y2="254.50" stroke="#000" stroke-width="0.9" />
<circle cx="580.30" cy="242.62" r="1.93" fill="#fff" stroke="#000" stroke-width="1.15"/>
<circle cx="580.30" cy="249.62" r="1.93" fill="#fff" stroke="#000" stroke-width="1.15"/>
<circle cx="580.30" cy="254.92" r="1.93" fill="#fff" stroke="#000" stroke-width="1.15"/>
<line x1="576.00" y1="249.50" x2="584.60" y2="249.50" stroke="#000" stroke-width="0.9" />
<line x1="580.50" y1="245.49" x2="580.50" y2="252.62" stroke="#000" stroke-width="0.9" />
<line x1="578.00" y1="245.50" x2="582.60" y2="245.50" stroke="#000" stroke-width="0.9" />
<line x1="578.00" y1="252.50" x2="582.60" y2="252.50" stroke="#000" stroke-width="0.9" />
<circle cx="599.20" cy="227.62" r="1.93" fill="#000" stroke="none" stroke-width="1"/>
<circle cx="602.50" cy="227.62" r="1.93" fill="#000" stroke="none" stroke-width="1"/>
<circle cx="600.60" cy="234.08" r="1.93" fill="#000" stroke="none" stroke-width="1"/>
<line x1="596.47" y1="229.50" x2="605.07" y2="229.50" stroke="#000" stroke-width="0.9" />
<line x1="600.50" y1="227.62" x2="600.50" y2="231.93" stroke="#000" stroke-width="0.9" />
<line x1="598.47" y1="227.50" x2="603.07" y2="227.50" stroke="#000" stroke-width="0.9" />
<line x1="598.47" y1="231.50" x2="603.07" y2="231.50" stroke="#000" stroke-width="0.9" />
<circle cx="612.50" cy="218.93" r="1.93" fill="#fff" stroke="#000" stroke-width="1.15"/>
<circle cx="612.50" cy="227.62" r="1.93" fill="#fff" stroke="#000" stroke-width="1.15"/>
<circle cx="612.50" cy="231.47" r="1.93" fill="#fff" stroke="#000" stroke-width="1.15"/>
<line x1="608.20" y1="226.50" x2="616.80" y2="226.50" stroke="#000" stroke-width="0.9" />
<line x1="612.50" y1="222.30" x2="612.50" y2="229.72" stroke="#000" stroke-width="0.9" />
<line x1="610.20" y1="222.50" x2="614.80" y2="222.50" stroke="#000" stroke-width="0.9" />
<line x1="610.20" y1="229.50" x2="614.80" y2="229.50" stroke="#000" stroke-width="0.9" />
<text transform="translate(576.10,233.00) scale(1.0,1.14)" font-size="7.3" text-anchor="middle" fill="#1a1a1a" font-weight="normal" stroke="#1a1a1a" stroke-width="0.18" >ns</text>
<line x1="561.90" y1="237.20" x2="590.30" y2="237.20" stroke="#8e8e8e" stroke-width="1.6" />
<text transform="translate(607.40,211.00) scale(1.0,1.14)" font-size="7.3" text-anchor="middle" fill="#1a1a1a" font-weight="normal" stroke="#1a1a1a" stroke-width="0.18" >ns</text>
<line x1="595.50" y1="215.50" x2="619.70" y2="215.50" stroke="#111" stroke-width="1.0" />
<circle cx="637.30" cy="221.30" r="1.96" fill="#000" stroke="none" stroke-width="1"/>
<text transform="translate(647.50,224.00) scale(1.0,1.14)" font-size="7.3" text-anchor="start" fill="#1a1a1a" font-weight="normal" stroke="#1a1a1a" stroke-width="0.18" >ISO1</text>
<circle cx="637.30" cy="234.70" r="1.89" fill="#fff" stroke="#000" stroke-width="1.15"/>
<text transform="translate(647.50,237.40) scale(1.0,1.14)" font-size="7.3" text-anchor="start" fill="#1a1a1a" font-weight="normal" stroke="#1a1a1a" stroke-width="0.18" >KO1</text>
<text transform="translate(500.60,261.50) rotate(-90) scale(1,1.15)" font-size="7.45" text-anchor="middle" fill="#1a1a1a" stroke="#1a1a1a" stroke-width="0.18">Day 5 Cell Viability</text>
<text transform="translate(509.00,262.00) rotate(-90) scale(1,0.97)" font-size="7.45" text-anchor="middle" fill="#1a1a1a" stroke="#1a1a1a" stroke-width="0.18">(Normalized Mean Fluorescence)</text>
<text transform="translate(12.50,359.00) scale(1.0,1.0)" font-size="20" text-anchor="start" fill="#000" font-weight="bold" stroke="#000" stroke-width="0.4" >f</text>
<line x1="61.50" y1="360.30" x2="61.50" y2="453.45" stroke="#111" stroke-width="1" />
<line x1="57.60" y1="452.50" x2="61.60" y2="452.50" stroke="#111" stroke-width="1" />
<text transform="translate(56.70,455.65) scale(1.0,1.14)" font-size="7.45" text-anchor="end" fill="#1a1a1a" font-weight="normal" stroke="#1a1a1a" stroke-width="0.18" >0</text>
<line x1="57.60" y1="434.50" x2="61.60" y2="434.50" stroke="#111" stroke-width="1" />
<text transform="translate(56.70,437.11) scale(1.0,1.14)" font-size="7.45" text-anchor="end" fill="#1a1a1a" font-weight="normal" stroke="#1a1a1a" stroke-width="0.18" >20</text>
<line x1="57.60" y1="415.50" x2="61.60" y2="415.50" stroke="#111" stroke-width="1" />
<text transform="translate(56.70,418.57) scale(1.0,1.14)" font-size="7.45" text-anchor="end" fill="#1a1a1a" font-weight="normal" stroke="#1a1a1a" stroke-width="0.18" >40</text>
<line x1="57.60" y1="397.50" x2="61.60" y2="397.50" stroke="#111" stroke-width="1" />
<text transform="translate(56.70,400.03) scale(1.0,1.14)" font-size="7.45" text-anchor="end" fill="#1a1a1a" font-weight="normal" stroke="#1a1a1a" stroke-width="0.18" >60</text>
<line x1="57.60" y1="378.50" x2="61.60" y2="378.50" stroke="#111" stroke-width="1" />
<text transform="translate(56.70,381.49) scale(1.0,1.14)" font-size="7.45" text-anchor="end" fill="#1a1a1a" font-weight="normal" stroke="#1a1a1a" stroke-width="0.18" >80</text>
<line x1="57.60" y1="360.50" x2="61.60" y2="360.50" stroke="#111" stroke-width="1" />
<text transform="translate(56.70,362.95) scale(1.0,1.14)" font-size="7.45" text-anchor="end" fill="#1a1a1a" font-weight="normal" stroke="#1a1a1a" stroke-width="0.18" >100</text>
<line x1="61.10" y1="452.50" x2="200.56" y2="452.50" stroke="#111" stroke-width="1" />
<line x1="61.50" y1="452.95" x2="61.50" y2="456.55" stroke="#111" stroke-width="1" />
<text transform="translate(61.60,465.10) scale(1.0,1.14)" font-size="7.45" text-anchor="middle" fill="#1a1a1a" font-weight="normal" stroke="#1a1a1a" stroke-width="0.18" >0</text>
<line x1="96.50" y1="452.95" x2="96.50" y2="456.55" stroke="#111" stroke-width="1" />
<text transform="translate(96.34,465.10) scale(1.0,1.14)" font-size="7.45" text-anchor="middle" fill="#1a1a1a" font-weight="normal" stroke="#1a1a1a" stroke-width="0.18" >6</text>
<line x1="131.50" y1="452.95" x2="131.50" y2="456.55" stroke="#111" stroke-width="1" />
<text transform="translate(131.08,465.10) scale(1.0,1.14)" font-size="7.45" text-anchor="middle" fill="#1a1a1a" font-weight="normal" stroke="#1a1a1a" stroke-width="0.18" >12</text>
<line x1="165.50" y1="452.95" x2="165.50" y2="456.55" stroke="#111" stroke-width="1" />
<text transform="translate(165.82,465.10) scale(1.0,1.14)" font-size="7.45" text-anchor="middle" fill="#1a1a1a" font-weight="normal" stroke="#1a1a1a" stroke-width="0.18" >18</text>
<line x1="200.50" y1="452.95" x2="200.50" y2="456.55" stroke="#111" stroke-width="1" />
<text transform="translate(200.56,465.10) scale(1.0,1.14)" font-size="7.45" text-anchor="middle" fill="#1a1a1a" font-weight="normal" stroke="#1a1a1a" stroke-width="0.18" >24</text>
<text transform="translate(131.08,476.40) scale(1.0,1.14)" font-size="7.4" text-anchor="middle" fill="#1a1a1a" font-weight="normal" stroke="#1a1a1a" stroke-width="0.18" >Hours</text>
<text transform="translate(40.60,407.20) rotate(-90) scale(1,1.1)" font-size="7.45" text-anchor="middle" fill="#1a1a1a" stroke="#1a1a1a" stroke-width="0.18">Relative Wound Density (%)</text>
<line x1="67.50" y1="444.61" x2="67.50" y2="450.17" stroke="#f5141e" stroke-width="0.8" />
<line x1="65.89" y1="444.50" x2="68.89" y2="444.50" stroke="#f5141e" stroke-width="0.8" />
<line x1="65.89" y1="450.50" x2="68.89" y2="450.50" stroke="#f5141e" stroke-width="0.8" />
<line x1="73.50" y1="438.95" x2="73.50" y2="445.63" stroke="#f5141e" stroke-width="0.8" />
<line x1="71.68" y1="438.50" x2="74.68" y2="438.50" stroke="#f5141e" stroke-width="0.8" />
<line x1="71.68" y1="445.50" x2="74.68" y2="445.50" stroke="#f5141e" stroke-width="0.8" />
<line x1="78.50" y1="434.60" x2="78.50" y2="442.38" stroke="#f5141e" stroke-width="0.8" />
<line x1="77.47" y1="434.50" x2="80.47" y2="434.50" stroke="#f5141e" stroke-width="0.8" />
<line x1="77.47" y1="442.50" x2="80.47" y2="442.50" stroke="#f5141e" stroke-width="0.8" />
<line x1="84.50" y1="430.70" x2="84.50" y2="439.60" stroke="#f5141e" stroke-width="0.8" />
<line x1="83.26" y1="430.50" x2="86.26" y2="430.50" stroke="#f5141e" stroke-width="0.8" />
<line x1="83.26" y1="439.50" x2="86.26" y2="439.50" stroke="#f5141e" stroke-width="0.8" />
<line x1="90.50" y1="424.49" x2="90.50" y2="434.50" stroke="#f5141e" stroke-width="0.8" />
<line x1="89.05" y1="424.50" x2="92.05" y2="424.50" stroke="#f5141e" stroke-width="0.8" />
<line x1="89.05" y1="434.50" x2="92.05" y2="434.50" stroke="#f5141e" stroke-width="0.8" />
<line x1="96.50" y1="420.60" x2="96.50" y2="431.72" stroke="#f5141e" stroke-width="0.8" />
<line x1="94.84" y1="420.50" x2="97.84" y2="420.50" stroke="#f5141e" stroke-width="0.8" />
<line x1="94.84" y1="431.50" x2="97.84" y2="431.50" stroke="#f5141e" stroke-width="0.8" />
<line x1="102.50" y1="417.72" x2="102.50" y2="428.85" stroke="#f5141e" stroke-width="0.8" />
<line x1="100.63" y1="417.50" x2="103.63" y2="417.50" stroke="#f5141e" stroke-width="0.8" />
<line x1="100.63" y1="428.50" x2="103.63" y2="428.50" stroke="#f5141e" stroke-width="0.8" />
<line x1="107.50" y1="414.39" x2="107.50" y2="425.51" stroke="#f5141e" stroke-width="0.8" />
<line x1="106.42" y1="414.50" x2="109.42" y2="414.50" stroke="#f5141e" stroke-width="0.8" />
<line x1="106.42" y1="425.50" x2="109.42" y2="425.50" stroke="#f5141e" stroke-width="0.8" />
<line x1="113.50" y1="411.05" x2="113.50" y2="422.17" stroke="#f5141e" stroke-width="0.8" />
<line x1="112.21" y1="411.50" x2="115.21" y2="411.50" stroke="#f5141e" stroke-width="0.8" />
<line x1="112.21" y1="422.50" x2="115.21" y2="422.50" stroke="#f5141e" stroke-width="0.8" />
<line x1="119.50" y1="407.90" x2="119.50" y2="419.02" stroke="#f5141e" stroke-width="0.8" />
<line x1="118.00" y1="407.50" x2="121.00" y2="407.50" stroke="#f5141e" stroke-width="0.8" />
<line x1="118.00" y1="419.50" x2="121.00" y2="419.50" stroke="#f5141e" stroke-width="0.8" />
<line x1="125.50" y1="404.93" x2="125.50" y2="416.06" stroke="#f5141e" stroke-width="0.8" />
<line x1="123.79" y1="404.50" x2="126.79" y2="404.50" stroke="#f5141e" stroke-width="0.8" />
<line x1="123.79" y1="416.50" x2="126.79" y2="416.50" stroke="#f5141e" stroke-width="0.8" />
<line x1="131.50" y1="402.80" x2="131.50" y2="413.92" stroke="#f5141e" stroke-width="0.8" />
<line x1="129.58" y1="402.50" x2="132.58" y2="402.50" stroke="#f5141e" stroke-width="0.8" />
<line x1="129.58" y1="413.50" x2="132.58" y2="413.50" stroke="#f5141e" stroke-width="0.8" />
<line x1="136.50" y1="400.11" x2="136.50" y2="411.24" stroke="#f5141e" stroke-width="0.8" />
<line x1="135.37" y1="400.50" x2="138.37" y2="400.50" stroke="#f5141e" stroke-width="0.8" />
<line x1="135.37" y1="411.50" x2="138.37" y2="411.50" stroke="#f5141e" stroke-width="0.8" />
<line x1="142.50" y1="397.61" x2="142.50" y2="408.73" stroke="#f5141e" stroke-width="0.8" />
<line x1="141.16" y1="397.50" x2="144.16" y2="397.50" stroke="#f5141e" stroke-width="0.8" />
<line x1="141.16" y1="408.50" x2="144.16" y2="408.50" stroke="#f5141e" stroke-width="0.8" />
<line x1="148.50" y1="394.92" x2="148.50" y2="406.04" stroke="#f5141e" stroke-width="0.8" />
<line x1="146.95" y1="394.50" x2="149.95" y2="394.50" stroke="#f5141e" stroke-width="0.8" />
<line x1="146.95" y1="406.50" x2="149.95" y2="406.50" stroke="#f5141e" stroke-width="0.8" />
<line x1="154.50" y1="392.69" x2="154.50" y2="403.82" stroke="#f5141e" stroke-width="0.8" />
<line x1="152.74" y1="392.50" x2="155.74" y2="392.50" stroke="#f5141e" stroke-width="0.8" />
<line x1="152.74" y1="403.50" x2="155.74" y2="403.50" stroke="#f5141e" stroke-width="0.8" />
<line x1="160.50" y1="390.47" x2="160.50" y2="401.59" stroke="#f5141e" stroke-width="0.8" />
<line x1="158.53" y1="390.50" x2="161.53" y2="390.50" stroke="#f5141e" stroke-width="0.8" />
<line x1="158.53" y1="401.50" x2="161.53" y2="401.50" stroke="#f5141e" stroke-width="0.8" />
<line x1="165.50" y1="388.25" x2="165.50" y2="399.37" stroke="#f5141e" stroke-width="0.8" />
<line x1="164.32" y1="388.50" x2="167.32" y2="388.50" stroke="#f5141e" stroke-width="0.8" />
<line x1="164.32" y1="399.50" x2="167.32" y2="399.50" stroke="#f5141e" stroke-width="0.8" />
<line x1="171.50" y1="386.02" x2="171.50" y2="397.14" stroke="#f5141e" stroke-width="0.8" />
<line x1="170.11" y1="386.50" x2="173.11" y2="386.50" stroke="#f5141e" stroke-width="0.8" />
<line x1="170.11" y1="397.50" x2="173.11" y2="397.50" stroke="#f5141e" stroke-width="0.8" />
<line x1="177.50" y1="384.26" x2="177.50" y2="395.38" stroke="#f5141e" stroke-width="0.8" />
<line x1="175.90" y1="384.50" x2="178.90" y2="384.50" stroke="#f5141e" stroke-width="0.8" />
<line x1="175.90" y1="395.50" x2="178.90" y2="395.50" stroke="#f5141e" stroke-width="0.8" />
<line x1="183.50" y1="382.68" x2="183.50" y2="393.81" stroke="#f5141e" stroke-width="0.8" />
<line x1="181.69" y1="382.50" x2="184.69" y2="382.50" stroke="#f5141e" stroke-width="0.8" />
<line x1="181.69" y1="393.50" x2="184.69" y2="393.50" stroke="#f5141e" stroke-width="0.8" />
<line x1="188.50" y1="380.83" x2="188.50" y2="391.95" stroke="#f5141e" stroke-width="0.8" />
<line x1="187.48" y1="380.50" x2="190.48" y2="380.50" stroke="#f5141e" stroke-width="0.8" />
<line x1="187.48" y1="391.50" x2="190.48" y2="391.50" stroke="#f5141e" stroke-width="0.8" />
<line x1="194.50" y1="379.35" x2="194.50" y2="390.47" stroke="#f5141e" stroke-width="0.8" />
<line x1="193.27" y1="379.50" x2="196.27" y2="379.50" stroke="#f5141e" stroke-width="0.8" />
<line x1="193.27" y1="390.50" x2="196.27" y2="390.50" stroke="#f5141e" stroke-width="0.8" />
<line x1="200.50" y1="377.03" x2="200.50" y2="388.15" stroke="#f5141e" stroke-width="0.8" />
<line x1="199.06" y1="377.50" x2="202.06" y2="377.50" stroke="#f5141e" stroke-width="0.8" />
<line x1="199.06" y1="388.50" x2="202.06" y2="388.50" stroke="#f5141e" stroke-width="0.8" />
<line x1="67.50" y1="444.33" x2="67.50" y2="448.22" stroke="#1a1af5" stroke-width="0.8" />
<line x1="65.89" y1="444.50" x2="68.89" y2="444.50" stroke="#1a1af5" stroke-width="0.8" />
<line x1="65.89" y1="448.50" x2="68.89" y2="448.50" stroke="#1a1af5" stroke-width="0.8" />
<line x1="73.50" y1="438.10" x2="73.50" y2="442.77" stroke="#1a1af5" stroke-width="0.8" />
<line x1="71.68" y1="438.50" x2="74.68" y2="438.50" stroke="#1a1af5" stroke-width="0.8" />
<line x1="71.68" y1="442.50" x2="74.68" y2="442.50" stroke="#1a1af5" stroke-width="0.8" />
<line x1="78.50" y1="431.68" x2="78.50" y2="437.14" stroke="#1a1af5" stroke-width="0.8" />
<line x1="77.47" y1="431.50" x2="80.47" y2="431.50" stroke="#1a1af5" stroke-width="0.8" />
<line x1="77.47" y1="437.50" x2="80.47" y2="437.50" stroke="#1a1af5" stroke-width="0.8" />
<line x1="84.50" y1="426.20" x2="84.50" y2="432.43" stroke="#1a1af5" stroke-width="0.8" />
<line x1="83.26" y1="426.50" x2="86.26" y2="426.50" stroke="#1a1af5" stroke-width="0.8" />
<line x1="83.26" y1="432.50" x2="86.26" y2="432.50" stroke="#1a1af5" stroke-width="0.8" />
<line x1="90.50" y1="420.25" x2="90.50" y2="427.25" stroke="#1a1af5" stroke-width="0.8" />
<line x1="89.05" y1="420.50" x2="92.05" y2="420.50" stroke="#1a1af5" stroke-width="0.8" />
<line x1="89.05" y1="427.50" x2="92.05" y2="427.50" stroke="#1a1af5" stroke-width="0.8" />
<line x1="96.50" y1="414.76" x2="96.50" y2="422.54" stroke="#1a1af5" stroke-width="0.8" />
<line x1="94.84" y1="414.50" x2="97.84" y2="414.50" stroke="#1a1af5" stroke-width="0.8" />
<line x1="94.84" y1="422.50" x2="97.84" y2="422.50" stroke="#1a1af5" stroke-width="0.8" />
<line x1="102.50" y1="409.20" x2="102.50" y2="416.98" stroke="#1a1af5" stroke-width="0.8" />
<line x1="100.63" y1="409.50" x2="103.63" y2="409.50" stroke="#1a1af5" stroke-width="0.8" />
<line x1="100.63" y1="416.50" x2="103.63" y2="416.50" stroke="#1a1af5" stroke-width="0.8" />
<line x1="107.50" y1="405.95" x2="107.50" y2="413.74" stroke="#1a1af5" stroke-width="0.8" />
<line x1="106.42" y1="405.50" x2="109.42" y2="405.50" stroke="#1a1af5" stroke-width="0.8" />
<line x1="106.42" y1="413.50" x2="109.42" y2="413.50" stroke="#1a1af5" stroke-width="0.8" />
<line x1="113.50" y1="402.71" x2="113.50" y2="410.49" stroke="#1a1af5" stroke-width="0.8" />
<line x1="112.21" y1="402.50" x2="115.21" y2="402.50" stroke="#1a1af5" stroke-width="0.8" />
<line x1="112.21" y1="410.50" x2="115.21" y2="410.50" stroke="#1a1af5" stroke-width="0.8" />
<line x1="119.50" y1="399.46" x2="119.50" y2="407.25" stroke="#1a1af5" stroke-width="0.8" />
<line x1="118.00" y1="399.50" x2="121.00" y2="399.50" stroke="#1a1af5" stroke-width="0.8" />
<line x1="118.00" y1="407.50" x2="121.00" y2="407.50" stroke="#1a1af5" stroke-width="0.8" />
<line x1="125.50" y1="396.68" x2="125.50" y2="404.47" stroke="#1a1af5" stroke-width="0.8" />
<line x1="123.79" y1="396.50" x2="126.79" y2="396.50" stroke="#1a1af5" stroke-width="0.8" />
<line x1="123.79" y1="404.50" x2="126.79" y2="404.50" stroke="#1a1af5" stroke-width="0.8" />
<line x1="131.50" y1="393.44" x2="131.50" y2="401.22" stroke="#1a1af5" stroke-width="0.8" />
<line x1="129.58" y1="393.50" x2="132.58" y2="393.50" stroke="#1a1af5" stroke-width="0.8" />
<line x1="129.58" y1="401.50" x2="132.58" y2="401.50" stroke="#1a1af5" stroke-width="0.8" />
<line x1="136.50" y1="390.66" x2="136.50" y2="398.44" stroke="#1a1af5" stroke-width="0.8" />
<line x1="135.37" y1="390.50" x2="138.37" y2="390.50" stroke="#1a1af5" stroke-width="0.8" />
<line x1="135.37" y1="398.50" x2="138.37" y2="398.50" stroke="#1a1af5" stroke-width="0.8" />
<line x1="142.50" y1="387.41" x2="142.50" y2="395.20" stroke="#1a1af5" stroke-width="0.8" />
<line x1="141.16" y1="387.50" x2="144.16" y2="387.50" stroke="#1a1af5" stroke-width="0.8" />
<line x1="141.16" y1="395.50" x2="144.16" y2="395.50" stroke="#1a1af5" stroke-width="0.8" />
<line x1="148.50" y1="384.17" x2="148.50" y2="391.95" stroke="#1a1af5" stroke-width="0.8" />
<line x1="146.95" y1="384.50" x2="149.95" y2="384.50" stroke="#1a1af5" stroke-width="0.8" />
<line x1="146.95" y1="391.50" x2="149.95" y2="391.50" stroke="#1a1af5" stroke-width="0.8" />
<line x1="154.50" y1="381.85" x2="154.50" y2="389.64" stroke="#1a1af5" stroke-width="0.8" />
<line x1="152.74" y1="381.50" x2="155.74" y2="381.50" stroke="#1a1af5" stroke-width="0.8" />
<line x1="152.74" y1="389.50" x2="155.74" y2="389.50" stroke="#1a1af5" stroke-width="0.8" />
<line x1="160.50" y1="378.60" x2="160.50" y2="386.39" stroke="#1a1af5" stroke-width="0.8" />
<line x1="158.53" y1="378.50" x2="161.53" y2="378.50" stroke="#1a1af5" stroke-width="0.8" />
<line x1="158.53" y1="386.50" x2="161.53" y2="386.50" stroke="#1a1af5" stroke-width="0.8" />
<line x1="165.50" y1="376.75" x2="165.50" y2="384.54" stroke="#1a1af5" stroke-width="0.8" />
<line x1="164.32" y1="376.50" x2="167.32" y2="376.50" stroke="#1a1af5" stroke-width="0.8" />
<line x1="164.32" y1="384.50" x2="167.32" y2="384.50" stroke="#1a1af5" stroke-width="0.8" />
<line x1="171.50" y1="374.90" x2="171.50" y2="382.68" stroke="#1a1af5" stroke-width="0.8" />
<line x1="170.11" y1="374.50" x2="173.11" y2="374.50" stroke="#1a1af5" stroke-width="0.8" />
<line x1="170.11" y1="382.50" x2="173.11" y2="382.50" stroke="#1a1af5" stroke-width="0.8" />
<line x1="177.50" y1="373.04" x2="177.50" y2="380.83" stroke="#1a1af5" stroke-width="0.8" />
<line x1="175.90" y1="373.50" x2="178.90" y2="373.50" stroke="#1a1af5" stroke-width="0.8" />
<line x1="175.90" y1="380.50" x2="178.90" y2="380.50" stroke="#1a1af5" stroke-width="0.8" />
<line x1="183.50" y1="370.73" x2="183.50" y2="378.51" stroke="#1a1af5" stroke-width="0.8" />
<line x1="181.69" y1="370.50" x2="184.69" y2="370.50" stroke="#1a1af5" stroke-width="0.8" />
<line x1="181.69" y1="378.50" x2="184.69" y2="378.50" stroke="#1a1af5" stroke-width="0.8" />
<line x1="188.50" y1="368.87" x2="188.50" y2="376.66" stroke="#1a1af5" stroke-width="0.8" />
<line x1="187.48" y1="368.50" x2="190.48" y2="368.50" stroke="#1a1af5" stroke-width="0.8" />
<line x1="187.48" y1="376.50" x2="190.48" y2="376.50" stroke="#1a1af5" stroke-width="0.8" />
<line x1="194.50" y1="367.02" x2="194.50" y2="374.80" stroke="#1a1af5" stroke-width="0.8" />
<line x1="193.27" y1="367.50" x2="196.27" y2="367.50" stroke="#1a1af5" stroke-width="0.8" />
<line x1="193.27" y1="374.50" x2="196.27" y2="374.50" stroke="#1a1af5" stroke-width="0.8" />
<line x1="200.50" y1="366.00" x2="200.50" y2="373.78" stroke="#1a1af5" stroke-width="0.8" />
<line x1="199.06" y1="365.50" x2="202.06" y2="365.50" stroke="#1a1af5" stroke-width="0.8" />
<line x1="199.06" y1="373.50" x2="202.06" y2="373.50" stroke="#1a1af5" stroke-width="0.8" />
<line x1="67.50" y1="445.26" x2="67.50" y2="448.22" stroke="#000" stroke-width="0.8" />
<line x1="65.89" y1="445.50" x2="68.89" y2="445.50" stroke="#000" stroke-width="0.8" />
<line x1="65.89" y1="448.50" x2="68.89" y2="448.50" stroke="#000" stroke-width="0.8" />
<line x1="73.50" y1="440.05" x2="73.50" y2="443.61" stroke="#000" stroke-width="0.8" />
<line x1="71.68" y1="440.50" x2="74.68" y2="440.50" stroke="#000" stroke-width="0.8" />
<line x1="71.68" y1="443.50" x2="74.68" y2="443.50" stroke="#000" stroke-width="0.8" />
<line x1="78.50" y1="433.45" x2="78.50" y2="437.60" stroke="#000" stroke-width="0.8" />
<line x1="77.47" y1="433.50" x2="80.47" y2="433.50" stroke="#000" stroke-width="0.8" />
<line x1="77.47" y1="437.50" x2="80.47" y2="437.50" stroke="#000" stroke-width="0.8" />
<line x1="84.50" y1="429.35" x2="84.50" y2="434.09" stroke="#000" stroke-width="0.8" />
<line x1="83.26" y1="429.50" x2="86.26" y2="429.50" stroke="#000" stroke-width="0.8" />
<line x1="83.26" y1="434.50" x2="86.26" y2="434.50" stroke="#000" stroke-width="0.8" />
<line x1="90.50" y1="423.49" x2="90.50" y2="428.83" stroke="#000" stroke-width="0.8" />
<line x1="89.05" y1="423.50" x2="92.05" y2="423.50" stroke="#000" stroke-width="0.8" />
<line x1="89.05" y1="428.50" x2="92.05" y2="428.50" stroke="#000" stroke-width="0.8" />
<line x1="96.50" y1="417.63" x2="96.50" y2="423.56" stroke="#000" stroke-width="0.8" />
<line x1="94.84" y1="417.50" x2="97.84" y2="417.50" stroke="#000" stroke-width="0.8" />
<line x1="94.84" y1="423.50" x2="97.84" y2="423.50" stroke="#000" stroke-width="0.8" />
<line x1="102.50" y1="411.98" x2="102.50" y2="417.91" stroke="#000" stroke-width="0.8" />
<line x1="100.63" y1="411.50" x2="103.63" y2="411.50" stroke="#000" stroke-width="0.8" />
<line x1="100.63" y1="417.50" x2="103.63" y2="417.50" stroke="#000" stroke-width="0.8" />
<line x1="107.50" y1="408.73" x2="107.50" y2="414.66" stroke="#000" stroke-width="0.8" />
<line x1="106.42" y1="408.50" x2="109.42" y2="408.50" stroke="#000" stroke-width="0.8" />
<line x1="106.42" y1="414.50" x2="109.42" y2="414.50" stroke="#000" stroke-width="0.8" />
<line x1="113.50" y1="405.39" x2="113.50" y2="411.33" stroke="#000" stroke-width="0.8" />
<line x1="112.21" y1="405.50" x2="115.21" y2="405.50" stroke="#000" stroke-width="0.8" />
<line x1="112.21" y1="411.50" x2="115.21" y2="411.50" stroke="#000" stroke-width="0.8" />
<line x1="119.50" y1="401.96" x2="119.50" y2="407.90" stroke="#000" stroke-width="0.8" />
<line x1="118.00" y1="401.50" x2="121.00" y2="401.50" stroke="#000" stroke-width="0.8" />
<line x1="118.00" y1="407.50" x2="121.00" y2="407.50" stroke="#000" stroke-width="0.8" />
<line x1="125.50" y1="398.63" x2="125.50" y2="404.56" stroke="#000" stroke-width="0.8" />
<line x1="123.79" y1="398.50" x2="126.79" y2="398.50" stroke="#000" stroke-width="0.8" />
<line x1="123.79" y1="404.50" x2="126.79" y2="404.50" stroke="#000" stroke-width="0.8" />
<line x1="131.50" y1="395.29" x2="131.50" y2="401.22" stroke="#000" stroke-width="0.8" />
<line x1="129.58" y1="395.50" x2="132.58" y2="395.50" stroke="#000" stroke-width="0.8" />
<line x1="129.58" y1="401.50" x2="132.58" y2="401.50" stroke="#000" stroke-width="0.8" />
<line x1="136.50" y1="391.95" x2="136.50" y2="397.89" stroke="#000" stroke-width="0.8" />
<line x1="135.37" y1="391.50" x2="138.37" y2="391.50" stroke="#000" stroke-width="0.8" />
<line x1="135.37" y1="397.50" x2="138.37" y2="397.50" stroke="#000" stroke-width="0.8" />
<line x1="142.50" y1="388.62" x2="142.50" y2="394.55" stroke="#000" stroke-width="0.8" />
<line x1="141.16" y1="388.50" x2="144.16" y2="388.50" stroke="#000" stroke-width="0.8" />
<line x1="141.16" y1="394.50" x2="144.16" y2="394.50" stroke="#000" stroke-width="0.8" />
<line x1="148.50" y1="385.28" x2="148.50" y2="391.21" stroke="#000" stroke-width="0.8" />
<line x1="146.95" y1="385.50" x2="149.95" y2="385.50" stroke="#000" stroke-width="0.8" />
<line x1="146.95" y1="391.50" x2="149.95" y2="391.50" stroke="#000" stroke-width="0.8" />
<line x1="154.50" y1="383.05" x2="154.50" y2="388.99" stroke="#000" stroke-width="0.8" />
<line x1="152.74" y1="383.50" x2="155.74" y2="383.50" stroke="#000" stroke-width="0.8" />
<line x1="152.74" y1="388.50" x2="155.74" y2="388.50" stroke="#000" stroke-width="0.8" />
<line x1="160.50" y1="379.62" x2="160.50" y2="385.56" stroke="#000" stroke-width="0.8" />
<line x1="158.53" y1="379.50" x2="161.53" y2="379.50" stroke="#000" stroke-width="0.8" />
<line x1="158.53" y1="385.50" x2="161.53" y2="385.50" stroke="#000" stroke-width="0.8" />
<line x1="165.50" y1="377.40" x2="165.50" y2="383.33" stroke="#000" stroke-width="0.8" />
<line x1="164.32" y1="377.50" x2="167.32" y2="377.50" stroke="#000" stroke-width="0.8" />
<line x1="164.32" y1="383.50" x2="167.32" y2="383.50" stroke="#000" stroke-width="0.8" />
<line x1="171.50" y1="375.17" x2="171.50" y2="381.11" stroke="#000" stroke-width="0.8" />
<line x1="170.11" y1="375.50" x2="173.11" y2="375.50" stroke="#000" stroke-width="0.8" />
<line x1="170.11" y1="381.50" x2="173.11" y2="381.50" stroke="#000" stroke-width="0.8" />
<line x1="177.50" y1="372.95" x2="177.50" y2="378.88" stroke="#000" stroke-width="0.8" />
<line x1="175.90" y1="372.50" x2="178.90" y2="372.50" stroke="#000" stroke-width="0.8" />
<line x1="175.90" y1="378.50" x2="178.90" y2="378.50" stroke="#000" stroke-width="0.8" />
<line x1="183.50" y1="370.73" x2="183.50" y2="376.66" stroke="#000" stroke-width="0.8" />
<line x1="181.69" y1="370.50" x2="184.69" y2="370.50" stroke="#000" stroke-width="0.8" />
<line x1="181.69" y1="376.50" x2="184.69" y2="376.50" stroke="#000" stroke-width="0.8" />
<line x1="188.50" y1="368.87" x2="188.50" y2="374.80" stroke="#000" stroke-width="0.8" />
<line x1="187.48" y1="368.50" x2="190.48" y2="368.50" stroke="#000" stroke-width="0.8" />
<line x1="187.48" y1="374.50" x2="190.48" y2="374.50" stroke="#000" stroke-width="0.8" />
<line x1="194.50" y1="366.28" x2="194.50" y2="372.21" stroke="#000" stroke-width="0.8" />
<line x1="193.27" y1="366.50" x2="196.27" y2="366.50" stroke="#000" stroke-width="0.8" />
<line x1="193.27" y1="372.50" x2="196.27" y2="372.50" stroke="#000" stroke-width="0.8" />
<line x1="200.50" y1="364.70" x2="200.50" y2="370.63" stroke="#000" stroke-width="0.8" />
<line x1="199.06" y1="364.50" x2="202.06" y2="364.50" stroke="#000" stroke-width="0.8" />
<line x1="199.06" y1="370.50" x2="202.06" y2="370.50" stroke="#000" stroke-width="0.8" />
<polyline points="61.60,452.95 67.39,447.39 73.18,442.29 78.97,438.49 84.76,435.15 90.55,429.50 96.34,426.16 102.13,423.29 107.92,419.95 113.71,416.61 119.50,413.46 125.29,410.49 131.08,408.36 136.87,405.67 142.66,403.17 148.45,400.48 154.24,398.26 160.03,396.03 165.82,393.81 171.61,391.58 177.40,389.82 183.19,388.25 188.98,386.39 194.77,384.91 200.56,382.59" fill="none" stroke="#f5141e" stroke-width="0.9"/>
<circle cx="61.60" cy="452.95" r="1.93" fill="#f5141e" stroke="none" stroke-width="1"/>
<circle cx="67.39" cy="447.39" r="1.93" fill="#f5141e" stroke="none" stroke-width="1"/>
<circle cx="73.18" cy="442.29" r="1.93" fill="#f5141e" stroke="none" stroke-width="1"/>
<circle cx="78.97" cy="438.49" r="1.93" fill="#f5141e" stroke="none" stroke-width="1"/>
<circle cx="84.76" cy="435.15" r="1.93" fill="#f5141e" stroke="none" stroke-width="1"/>
<circle cx="90.55" cy="429.50" r="1.93" fill="#f5141e" stroke="none" stroke-width="1"/>
<circle cx="96.34" cy="426.16" r="1.93" fill="#f5141e" stroke="none" stroke-width="1"/>
<circle cx="102.13" cy="423.29" r="1.93" fill="#f5141e" stroke="none" stroke-width="1"/>
<circle cx="107.92" cy="419.95" r="1.93" fill="#f5141e" stroke="none" stroke-width="1"/>
<circle cx="113.71" cy="416.61" r="1.93" fill="#f5141e" stroke="none" stroke-width="1"/>
<circle cx="119.50" cy="413.46" r="1.93" fill="#f5141e" stroke="none" stroke-width="1"/>
<circle cx="125.29" cy="410.49" r="1.93" fill="#f5141e" stroke="none" stroke-width="1"/>
<circle cx="131.08" cy="408.36" r="1.93" fill="#f5141e" stroke="none" stroke-width="1"/>
<circle cx="136.87" cy="405.67" r="1.93" fill="#f5141e" stroke="none" stroke-width="1"/>
<circle cx="142.66" cy="403.17" r="1.93" fill="#f5141e" stroke="none" stroke-width="1"/>
<circle cx="148.45" cy="400.48" r="1.93" fill="#f5141e" stroke="none" stroke-width="1"/>
<circle cx="154.24" cy="398.26" r="1.93" fill="#f5141e" stroke="none" stroke-width="1"/>
<circle cx="160.03" cy="396.03" r="1.93" fill="#f5141e" stroke="none" stroke-width="1"/>
<circle cx="165.82" cy="393.81" r="1.93" fill="#f5141e" stroke="none" stroke-width="1"/>
<circle cx="171.61" cy="391.58" r="1.93" fill="#f5141e" stroke="none" stroke-width="1"/>
<circle cx="177.40" cy="389.82" r="1.93" fill="#f5141e" stroke="none" stroke-width="1"/>
<circle cx="183.19" cy="388.25" r="1.93" fill="#f5141e" stroke="none" stroke-width="1"/>
<circle cx="188.98" cy="386.39" r="1.93" fill="#f5141e" stroke="none" stroke-width="1"/>
<circle cx="194.77" cy="384.91" r="1.93" fill="#f5141e" stroke="none" stroke-width="1"/>
<circle cx="200.56" cy="382.59" r="1.93" fill="#f5141e" stroke="none" stroke-width="1"/>
<polyline points="61.60,452.95 67.39,446.28 73.18,440.44 78.97,434.41 84.76,429.31 90.55,423.75 96.34,418.65 102.13,413.09 107.92,409.84 113.71,406.60 119.50,403.36 125.29,400.57 131.08,397.33 136.87,394.55 142.66,391.30 148.45,388.06 154.24,385.74 160.03,382.50 165.82,380.64 171.61,378.79 177.40,376.94 183.19,374.62 188.98,372.76 194.77,370.91 200.56,369.89" fill="none" stroke="#1a1af5" stroke-width="0.9"/>
<circle cx="61.60" cy="452.95" r="1.93" fill="#1a1af5" stroke="none" stroke-width="1"/>
<circle cx="67.39" cy="446.28" r="1.93" fill="#1a1af5" stroke="none" stroke-width="1"/>
<circle cx="73.18" cy="440.44" r="1.93" fill="#1a1af5" stroke="none" stroke-width="1"/>
<circle cx="78.97" cy="434.41" r="1.93" fill="#1a1af5" stroke="none" stroke-width="1"/>
<circle cx="84.76" cy="429.31" r="1.93" fill="#1a1af5" stroke="none" stroke-width="1"/>
<circle cx="90.55" cy="423.75" r="1.93" fill="#1a1af5" stroke="none" stroke-width="1"/>
<circle cx="96.34" cy="418.65" r="1.93" fill="#1a1af5" stroke="none" stroke-width="1"/>
<circle cx="102.13" cy="413.09" r="1.93" fill="#1a1af5" stroke="none" stroke-width="1"/>
<circle cx="107.92" cy="409.84" r="1.93" fill="#1a1af5" stroke="none" stroke-width="1"/>
<circle cx="113.71" cy="406.60" r="1.93" fill="#1a1af5" stroke="none" stroke-width="1"/>
<circle cx="119.50" cy="403.36" r="1.93" fill="#1a1af5" stroke="none" stroke-width="1"/>
<circle cx="125.29" cy="400.57" r="1.93" fill="#1a1af5" stroke="none" stroke-width="1"/>
<circle cx="131.08" cy="397.33" r="1.93" fill="#1a1af5" stroke="none" stroke-width="1"/>
<circle cx="136.87" cy="394.55" r="1.93" fill="#1a1af5" stroke="none" stroke-width="1"/>
<circle cx="142.66" cy="391.30" r="1.93" fill="#1a1af5" stroke="none" stroke-width="1"/>
<circle cx="148.45" cy="388.06" r="1.93" fill="#1a1af5" stroke="none" stroke-width="1"/>
<circle cx="154.24" cy="385.74" r="1.93" fill="#1a1af5" stroke="none" stroke-width="1"/>
<circle cx="160.03" cy="382.50" r="1.93" fill="#1a1af5" stroke="none" stroke-width="1"/>
<circle cx="165.82" cy="380.64" r="1.93" fill="#1a1af5" stroke="none" stroke-width="1"/>
<circle cx="171.61" cy="378.79" r="1.93" fill="#1a1af5" stroke="none" stroke-width="1"/>
<circle cx="177.40" cy="376.94" r="1.93" fill="#1a1af5" stroke="none" stroke-width="1"/>
<circle cx="183.19" cy="374.62" r="1.93" fill="#1a1af5" stroke="none" stroke-width="1"/>
<circle cx="188.98" cy="372.76" r="1.93" fill="#1a1af5" stroke="none" stroke-width="1"/>
<circle cx="194.77" cy="370.91" r="1.93" fill="#1a1af5" stroke="none" stroke-width="1"/>
<circle cx="200.56" cy="369.89" r="1.93" fill="#1a1af5" stroke="none" stroke-width="1"/>
<polyline points="61.60,452.95 67.39,446.74 73.18,441.83 78.97,435.52 84.76,431.72 90.55,426.16 96.34,420.60 102.13,414.94 107.92,411.70 113.71,408.36 119.50,404.93 125.29,401.59 131.08,398.26 136.87,394.92 142.66,391.58 148.45,388.25 154.24,386.02 160.03,382.59 165.82,380.37 171.61,378.14 177.40,375.92 183.19,373.69 188.98,371.84 194.77,369.24 200.56,367.67" fill="none" stroke="#000" stroke-width="0.9"/>
<circle cx="61.60" cy="452.95" r="1.93" fill="#000" stroke="none" stroke-width="1"/>
<circle cx="67.39" cy="446.74" r="1.93" fill="#000" stroke="none" stroke-width="1"/>
<circle cx="73.18" cy="441.83" r="1.93" fill="#000" stroke="none" stroke-width="1"/>
<circle cx="78.97" cy="435.52" r="1.93" fill="#000" stroke="none" stroke-width="1"/>
<circle cx="84.76" cy="431.72" r="1.93" fill="#000" stroke="none" stroke-width="1"/>
<circle cx="90.55" cy="426.16" r="1.93" fill="#000" stroke="none" stroke-width="1"/>
<circle cx="96.34" cy="420.60" r="1.93" fill="#000" stroke="none" stroke-width="1"/>
<circle cx="102.13" cy="414.94" r="1.93" fill="#000" stroke="none" stroke-width="1"/>
<circle cx="107.92" cy="411.70" r="1.93" fill="#000" stroke="none" stroke-width="1"/>
<circle cx="113.71" cy="408.36" r="1.93" fill="#000" stroke="none" stroke-width="1"/>
<circle cx="119.50" cy="404.93" r="1.93" fill="#000" stroke="none" stroke-width="1"/>
<circle cx="125.29" cy="401.59" r="1.93" fill="#000" stroke="none" stroke-width="1"/>
<circle cx="131.08" cy="398.26" r="1.93" fill="#000" stroke="none" stroke-width="1"/>
<circle cx="136.87" cy="394.92" r="1.93" fill="#000" stroke="none" stroke-width="1"/>
<circle cx="142.66" cy="391.58" r="1.93" fill="#000" stroke="none" stroke-width="1"/>
<circle cx="148.45" cy="388.25" r="1.93" fill="#000" stroke="none" stroke-width="1"/>
<circle cx="154.24" cy="386.02" r="1.93" fill="#000" stroke="none" stroke-width="1"/>
<circle cx="160.03" cy="382.59" r="1.93" fill="#000" stroke="none" stroke-width="1"/>
<circle cx="165.82" cy="380.37" r="1.93" fill="#000" stroke="none" stroke-width="1"/>
<circle cx="171.61" cy="378.14" r="1.93" fill="#000" stroke="none" stroke-width="1"/>
<circle cx="177.40" cy="375.92" r="1.93" fill="#000" stroke="none" stroke-width="1"/>
<circle cx="183.19" cy="373.69" r="1.93" fill="#000" stroke="none" stroke-width="1"/>
<circle cx="188.98" cy="371.84" r="1.93" fill="#000" stroke="none" stroke-width="1"/>
<circle cx="194.77" cy="369.24" r="1.93" fill="#000" stroke="none" stroke-width="1"/>
<circle cx="200.56" cy="367.67" r="1.93" fill="#000" stroke="none" stroke-width="1"/>
<line x1="65.20" y1="361.50" x2="75.70" y2="361.50" stroke="#000" stroke-width="0.9" />
<circle cx="70.50" cy="361.50" r="1.93" fill="#000" stroke="none" stroke-width="1"/>
<text transform="translate(81.80,364.30) scale(1.0,1.14)" font-size="7.3" text-anchor="start" fill="#1a1a1a" font-weight="normal" stroke="#1a1a1a" stroke-width="0.18" >ISO DMSO</text>
<line x1="65.20" y1="374.60" x2="75.70" y2="374.60" stroke="#f5141e" stroke-width="0.9" />
<circle cx="70.50" cy="374.60" r="1.93" fill="#f5141e" stroke="none" stroke-width="1"/>
<text transform="translate(81.80,377.40) scale(1.0,1.14)" font-size="7.3" text-anchor="start" fill="#1a1a1a" font-weight="normal" stroke="#1a1a1a" stroke-width="0.18" >ISO Nilotinib</text>
<line x1="65.20" y1="386.40" x2="75.70" y2="386.40" stroke="#1a1af5" stroke-width="0.9" />
<circle cx="70.50" cy="386.40" r="1.93" fill="#1a1af5" stroke="none" stroke-width="1"/>
<text transform="translate(81.80,389.20) scale(1.0,1.14)" font-size="7.3" text-anchor="start" fill="#1a1a1a" font-weight="normal" stroke="#1a1a1a" stroke-width="0.18" >ISO Imatinib</text>
<line x1="294.50" y1="360.30" x2="294.50" y2="453.45" stroke="#111" stroke-width="1" />
<line x1="290.20" y1="452.50" x2="294.20" y2="452.50" stroke="#111" stroke-width="1" />
<text transform="translate(289.30,455.65) scale(1.0,1.14)" font-size="7.45" text-anchor="end" fill="#1a1a1a" font-weight="normal" stroke="#1a1a1a" stroke-width="0.18" >0</text>
<line x1="290.20" y1="434.50" x2="294.20" y2="434.50" stroke="#111" stroke-width="1" />
<text transform="translate(289.30,437.11) scale(1.0,1.14)" font-size="7.45" text-anchor="end" fill="#1a1a1a" font-weight="normal" stroke="#1a1a1a" stroke-width="0.18" >20</text>
<line x1="290.20" y1="415.50" x2="294.20" y2="415.50" stroke="#111" stroke-width="1" />
<text transform="translate(289.30,418.57) scale(1.0,1.14)" font-size="7.45" text-anchor="end" fill="#1a1a1a" font-weight="normal" stroke="#1a1a1a" stroke-width="0.18" >40</text>
<line x1="290.20" y1="397.50" x2="294.20" y2="397.50" stroke="#111" stroke-width="1" />
<text transform="translate(289.30,400.03) scale(1.0,1.14)" font-size="7.45" text-anchor="end" fill="#1a1a1a" font-weight="normal" stroke="#1a1a1a" stroke-width="0.18" >60</text>
<line x1="290.20" y1="378.50" x2="294.20" y2="378.50" stroke="#111" stroke-width="1" />
<text transform="translate(289.30,381.49) scale(1.0,1.14)" font-size="7.45" text-anchor="end" fill="#1a1a1a" font-weight="normal" stroke="#1a1a1a" stroke-width="0.18" >80</text>
<line x1="290.20" y1="360.50" x2="294.20" y2="360.50" stroke="#111" stroke-width="1" />
<text transform="translate(289.30,362.95) scale(1.0,1.14)" font-size="7.45" text-anchor="end" fill="#1a1a1a" font-weight="normal" stroke="#1a1a1a" stroke-width="0.18" >100</text>
<line x1="293.70" y1="452.50" x2="433.16" y2="452.50" stroke="#111" stroke-width="1" />
<line x1="294.50" y1="452.95" x2="294.50" y2="456.55" stroke="#111" stroke-width="1" />
<text transform="translate(294.20,465.10) scale(1.0,1.14)" font-size="7.45" text-anchor="middle" fill="#1a1a1a" font-weight="normal" stroke="#1a1a1a" stroke-width="0.18" >0</text>
<line x1="328.50" y1="452.95" x2="328.50" y2="456.55" stroke="#111" stroke-width="1" />
<text transform="translate(328.94,465.10) scale(1.0,1.14)" font-size="7.45" text-anchor="middle" fill="#1a1a1a" font-weight="normal" stroke="#1a1a1a" stroke-width="0.18" >6</text>
<line x1="363.50" y1="452.95" x2="363.50" y2="456.55" stroke="#111" stroke-width="1" />
<text transform="translate(363.68,465.10) scale(1.0,1.14)" font-size="7.45" text-anchor="middle" fill="#1a1a1a" font-weight="normal" stroke="#1a1a1a" stroke-width="0.18" >12</text>
<line x1="398.50" y1="452.95" x2="398.50" y2="456.55" stroke="#111" stroke-width="1" />
<text transform="translate(398.42,465.10) scale(1.0,1.14)" font-size="7.45" text-anchor="middle" fill="#1a1a1a" font-weight="normal" stroke="#1a1a1a" stroke-width="0.18" >18</text>
<line x1="433.50" y1="452.95" x2="433.50" y2="456.55" stroke="#111" stroke-width="1" />
<text transform="translate(433.16,465.10) scale(1.0,1.14)" font-size="7.45" text-anchor="middle" fill="#1a1a1a" font-weight="normal" stroke="#1a1a1a" stroke-width="0.18" >24</text>
<text transform="translate(363.68,476.40) scale(1.0,1.14)" font-size="7.4" text-anchor="middle" fill="#1a1a1a" font-weight="normal" stroke="#1a1a1a" stroke-width="0.18" >Hours</text>
<text transform="translate(272.50,407.20) rotate(-90) scale(1,0.96)" font-size="7.45" text-anchor="middle" fill="#1a1a1a" stroke="#1a1a1a" stroke-width="0.18">Relative Wound Density (%)</text>
<line x1="299.50" y1="445.72" x2="299.50" y2="451.28" stroke="#f5141e" stroke-width="0.8" />
<line x1="298.49" y1="445.50" x2="301.49" y2="445.50" stroke="#f5141e" stroke-width="0.8" />
<line x1="298.49" y1="451.50" x2="301.49" y2="451.50" stroke="#f5141e" stroke-width="0.8" />
<line x1="305.50" y1="438.95" x2="305.50" y2="445.63" stroke="#f5141e" stroke-width="0.8" />
<line x1="304.28" y1="438.50" x2="307.28" y2="438.50" stroke="#f5141e" stroke-width="0.8" />
<line x1="304.28" y1="445.50" x2="307.28" y2="445.50" stroke="#f5141e" stroke-width="0.8" />
<line x1="311.50" y1="434.60" x2="311.50" y2="442.38" stroke="#f5141e" stroke-width="0.8" />
<line x1="310.07" y1="434.50" x2="313.07" y2="434.50" stroke="#f5141e" stroke-width="0.8" />
<line x1="310.07" y1="442.50" x2="313.07" y2="442.50" stroke="#f5141e" stroke-width="0.8" />
<line x1="317.50" y1="430.70" x2="317.50" y2="439.60" stroke="#f5141e" stroke-width="0.8" />
<line x1="315.86" y1="430.50" x2="318.86" y2="430.50" stroke="#f5141e" stroke-width="0.8" />
<line x1="315.86" y1="439.50" x2="318.86" y2="439.50" stroke="#f5141e" stroke-width="0.8" />
<line x1="323.50" y1="425.60" x2="323.50" y2="435.62" stroke="#f5141e" stroke-width="0.8" />
<line x1="321.65" y1="425.50" x2="324.65" y2="425.50" stroke="#f5141e" stroke-width="0.8" />
<line x1="321.65" y1="435.50" x2="324.65" y2="435.50" stroke="#f5141e" stroke-width="0.8" />
<line x1="328.50" y1="421.80" x2="328.50" y2="432.93" stroke="#f5141e" stroke-width="0.8" />
<line x1="327.44" y1="421.50" x2="330.44" y2="421.50" stroke="#f5141e" stroke-width="0.8" />
<line x1="327.44" y1="432.50" x2="330.44" y2="432.50" stroke="#f5141e" stroke-width="0.8" />
<line x1="334.50" y1="417.26" x2="334.50" y2="428.38" stroke="#f5141e" stroke-width="0.8" />
<line x1="333.23" y1="417.50" x2="336.23" y2="417.50" stroke="#f5141e" stroke-width="0.8" />
<line x1="333.23" y1="428.50" x2="336.23" y2="428.50" stroke="#f5141e" stroke-width="0.8" />
<line x1="340.50" y1="413.92" x2="340.50" y2="425.05" stroke="#f5141e" stroke-width="0.8" />
<line x1="339.02" y1="413.50" x2="342.02" y2="413.50" stroke="#f5141e" stroke-width="0.8" />
<line x1="339.02" y1="425.50" x2="342.02" y2="425.50" stroke="#f5141e" stroke-width="0.8" />
<line x1="346.50" y1="410.59" x2="346.50" y2="421.71" stroke="#f5141e" stroke-width="0.8" />
<line x1="344.81" y1="410.50" x2="347.81" y2="410.50" stroke="#f5141e" stroke-width="0.8" />
<line x1="344.81" y1="421.50" x2="347.81" y2="421.50" stroke="#f5141e" stroke-width="0.8" />
<line x1="352.50" y1="407.25" x2="352.50" y2="418.37" stroke="#f5141e" stroke-width="0.8" />
<line x1="350.60" y1="407.50" x2="353.60" y2="407.50" stroke="#f5141e" stroke-width="0.8" />
<line x1="350.60" y1="418.50" x2="353.60" y2="418.50" stroke="#f5141e" stroke-width="0.8" />
<line x1="357.50" y1="404.56" x2="357.50" y2="415.68" stroke="#f5141e" stroke-width="0.8" />
<line x1="356.39" y1="404.50" x2="359.39" y2="404.50" stroke="#f5141e" stroke-width="0.8" />
<line x1="356.39" y1="415.50" x2="359.39" y2="415.50" stroke="#f5141e" stroke-width="0.8" />
<line x1="363.50" y1="401.69" x2="363.50" y2="412.81" stroke="#f5141e" stroke-width="0.8" />
<line x1="362.18" y1="401.50" x2="365.18" y2="401.50" stroke="#f5141e" stroke-width="0.8" />
<line x1="362.18" y1="412.50" x2="365.18" y2="412.50" stroke="#f5141e" stroke-width="0.8" />
<line x1="369.50" y1="399.37" x2="369.50" y2="410.49" stroke="#f5141e" stroke-width="0.8" />
<line x1="367.97" y1="399.50" x2="370.97" y2="399.50" stroke="#f5141e" stroke-width="0.8" />
<line x1="367.97" y1="410.50" x2="370.97" y2="410.50" stroke="#f5141e" stroke-width="0.8" />
<line x1="375.50" y1="397.14" x2="375.50" y2="408.27" stroke="#f5141e" stroke-width="0.8" />
<line x1="373.76" y1="397.50" x2="376.76" y2="397.50" stroke="#f5141e" stroke-width="0.8" />
<line x1="373.76" y1="408.50" x2="376.76" y2="408.50" stroke="#f5141e" stroke-width="0.8" />
<line x1="381.50" y1="394.27" x2="381.50" y2="405.39" stroke="#f5141e" stroke-width="0.8" />
<line x1="379.55" y1="394.50" x2="382.55" y2="394.50" stroke="#f5141e" stroke-width="0.8" />
<line x1="379.55" y1="405.50" x2="382.55" y2="405.50" stroke="#f5141e" stroke-width="0.8" />
<line x1="386.50" y1="391.58" x2="386.50" y2="402.71" stroke="#f5141e" stroke-width="0.8" />
<line x1="385.34" y1="391.50" x2="388.34" y2="391.50" stroke="#f5141e" stroke-width="0.8" />
<line x1="385.34" y1="402.50" x2="388.34" y2="402.50" stroke="#f5141e" stroke-width="0.8" />
<line x1="392.50" y1="388.89" x2="392.50" y2="400.02" stroke="#f5141e" stroke-width="0.8" />
<line x1="391.13" y1="388.50" x2="394.13" y2="388.50" stroke="#f5141e" stroke-width="0.8" />
<line x1="391.13" y1="400.50" x2="394.13" y2="400.50" stroke="#f5141e" stroke-width="0.8" />
<line x1="398.50" y1="386.67" x2="398.50" y2="397.79" stroke="#f5141e" stroke-width="0.8" />
<line x1="396.92" y1="386.50" x2="399.92" y2="386.50" stroke="#f5141e" stroke-width="0.8" />
<line x1="396.92" y1="397.50" x2="399.92" y2="397.50" stroke="#f5141e" stroke-width="0.8" />
<line x1="404.50" y1="384.44" x2="404.50" y2="395.57" stroke="#f5141e" stroke-width="0.8" />
<line x1="402.71" y1="384.50" x2="405.71" y2="384.50" stroke="#f5141e" stroke-width="0.8" />
<line x1="402.71" y1="395.50" x2="405.71" y2="395.50" stroke="#f5141e" stroke-width="0.8" />
<line x1="410.50" y1="382.22" x2="410.50" y2="393.34" stroke="#f5141e" stroke-width="0.8" />
<line x1="408.50" y1="382.50" x2="411.50" y2="382.50" stroke="#f5141e" stroke-width="0.8" />
<line x1="408.50" y1="393.50" x2="411.50" y2="393.50" stroke="#f5141e" stroke-width="0.8" />
<line x1="415.50" y1="380.46" x2="415.50" y2="391.58" stroke="#f5141e" stroke-width="0.8" />
<line x1="414.29" y1="380.50" x2="417.29" y2="380.50" stroke="#f5141e" stroke-width="0.8" />
<line x1="414.29" y1="391.50" x2="417.29" y2="391.50" stroke="#f5141e" stroke-width="0.8" />
<line x1="421.50" y1="378.70" x2="421.50" y2="389.82" stroke="#f5141e" stroke-width="0.8" />
<line x1="420.08" y1="378.50" x2="423.08" y2="378.50" stroke="#f5141e" stroke-width="0.8" />
<line x1="420.08" y1="389.50" x2="423.08" y2="389.50" stroke="#f5141e" stroke-width="0.8" />
<line x1="427.50" y1="377.03" x2="427.50" y2="388.15" stroke="#f5141e" stroke-width="0.8" />
<line x1="425.87" y1="377.50" x2="428.87" y2="377.50" stroke="#f5141e" stroke-width="0.8" />
<line x1="425.87" y1="388.50" x2="428.87" y2="388.50" stroke="#f5141e" stroke-width="0.8" />
<line x1="433.50" y1="374.80" x2="433.50" y2="385.93" stroke="#f5141e" stroke-width="0.8" />
<line x1="431.66" y1="374.50" x2="434.66" y2="374.50" stroke="#f5141e" stroke-width="0.8" />
<line x1="431.66" y1="385.50" x2="434.66" y2="385.50" stroke="#f5141e" stroke-width="0.8" />
<line x1="299.50" y1="443.59" x2="299.50" y2="447.48" stroke="#1a1af5" stroke-width="0.8" />
<line x1="298.49" y1="443.50" x2="301.49" y2="443.50" stroke="#1a1af5" stroke-width="0.8" />
<line x1="298.49" y1="447.50" x2="301.49" y2="447.50" stroke="#1a1af5" stroke-width="0.8" />
<line x1="305.50" y1="437.17" x2="305.50" y2="441.84" stroke="#1a1af5" stroke-width="0.8" />
<line x1="304.28" y1="437.50" x2="307.28" y2="437.50" stroke="#1a1af5" stroke-width="0.8" />
<line x1="304.28" y1="441.50" x2="307.28" y2="441.50" stroke="#1a1af5" stroke-width="0.8" />
<line x1="311.50" y1="431.22" x2="311.50" y2="436.67" stroke="#1a1af5" stroke-width="0.8" />
<line x1="310.07" y1="431.50" x2="313.07" y2="431.50" stroke="#1a1af5" stroke-width="0.8" />
<line x1="310.07" y1="436.50" x2="313.07" y2="436.50" stroke="#1a1af5" stroke-width="0.8" />
<line x1="317.50" y1="425.73" x2="317.50" y2="431.96" stroke="#1a1af5" stroke-width="0.8" />
<line x1="315.86" y1="425.50" x2="318.86" y2="425.50" stroke="#1a1af5" stroke-width="0.8" />
<line x1="315.86" y1="431.50" x2="318.86" y2="431.50" stroke="#1a1af5" stroke-width="0.8" />
<line x1="323.50" y1="420.25" x2="323.50" y2="427.25" stroke="#1a1af5" stroke-width="0.8" />
<line x1="321.65" y1="420.50" x2="324.65" y2="420.50" stroke="#1a1af5" stroke-width="0.8" />
<line x1="321.65" y1="427.50" x2="324.65" y2="427.50" stroke="#1a1af5" stroke-width="0.8" />
<line x1="328.50" y1="414.76" x2="328.50" y2="422.54" stroke="#1a1af5" stroke-width="0.8" />
<line x1="327.44" y1="414.50" x2="330.44" y2="414.50" stroke="#1a1af5" stroke-width="0.8" />
<line x1="327.44" y1="422.50" x2="330.44" y2="422.50" stroke="#1a1af5" stroke-width="0.8" />
<line x1="334.50" y1="409.66" x2="334.50" y2="417.45" stroke="#1a1af5" stroke-width="0.8" />
<line x1="333.23" y1="409.50" x2="336.23" y2="409.50" stroke="#1a1af5" stroke-width="0.8" />
<line x1="333.23" y1="417.50" x2="336.23" y2="417.50" stroke="#1a1af5" stroke-width="0.8" />
<line x1="340.50" y1="405.02" x2="340.50" y2="412.81" stroke="#1a1af5" stroke-width="0.8" />
<line x1="339.02" y1="405.50" x2="342.02" y2="405.50" stroke="#1a1af5" stroke-width="0.8" />
<line x1="339.02" y1="412.50" x2="342.02" y2="412.50" stroke="#1a1af5" stroke-width="0.8" />
<line x1="346.50" y1="400.39" x2="346.50" y2="408.18" stroke="#1a1af5" stroke-width="0.8" />
<line x1="344.81" y1="400.50" x2="347.81" y2="400.50" stroke="#1a1af5" stroke-width="0.8" />
<line x1="344.81" y1="408.50" x2="347.81" y2="408.50" stroke="#1a1af5" stroke-width="0.8" />
<line x1="352.50" y1="395.75" x2="352.50" y2="403.54" stroke="#1a1af5" stroke-width="0.8" />
<line x1="350.60" y1="395.50" x2="353.60" y2="395.50" stroke="#1a1af5" stroke-width="0.8" />
<line x1="350.60" y1="403.50" x2="353.60" y2="403.50" stroke="#1a1af5" stroke-width="0.8" />
<line x1="357.50" y1="392.05" x2="357.50" y2="399.83" stroke="#1a1af5" stroke-width="0.8" />
<line x1="356.39" y1="392.50" x2="359.39" y2="392.50" stroke="#1a1af5" stroke-width="0.8" />
<line x1="356.39" y1="399.50" x2="359.39" y2="399.50" stroke="#1a1af5" stroke-width="0.8" />
<line x1="363.50" y1="388.80" x2="363.50" y2="396.59" stroke="#1a1af5" stroke-width="0.8" />
<line x1="362.18" y1="388.50" x2="365.18" y2="388.50" stroke="#1a1af5" stroke-width="0.8" />
<line x1="362.18" y1="396.50" x2="365.18" y2="396.50" stroke="#1a1af5" stroke-width="0.8" />
<line x1="369.50" y1="385.09" x2="369.50" y2="392.88" stroke="#1a1af5" stroke-width="0.8" />
<line x1="367.97" y1="385.50" x2="370.97" y2="385.50" stroke="#1a1af5" stroke-width="0.8" />
<line x1="367.97" y1="392.50" x2="370.97" y2="392.50" stroke="#1a1af5" stroke-width="0.8" />
<line x1="375.50" y1="381.85" x2="375.50" y2="389.64" stroke="#1a1af5" stroke-width="0.8" />
<line x1="373.76" y1="381.50" x2="376.76" y2="381.50" stroke="#1a1af5" stroke-width="0.8" />
<line x1="373.76" y1="389.50" x2="376.76" y2="389.50" stroke="#1a1af5" stroke-width="0.8" />
<line x1="381.50" y1="379.07" x2="381.50" y2="386.85" stroke="#1a1af5" stroke-width="0.8" />
<line x1="379.55" y1="379.50" x2="382.55" y2="379.50" stroke="#1a1af5" stroke-width="0.8" />
<line x1="379.55" y1="386.50" x2="382.55" y2="386.50" stroke="#1a1af5" stroke-width="0.8" />
<line x1="386.50" y1="376.75" x2="386.50" y2="384.54" stroke="#1a1af5" stroke-width="0.8" />
<line x1="385.34" y1="376.50" x2="388.34" y2="376.50" stroke="#1a1af5" stroke-width="0.8" />
<line x1="385.34" y1="384.50" x2="388.34" y2="384.50" stroke="#1a1af5" stroke-width="0.8" />
<line x1="392.50" y1="374.43" x2="392.50" y2="382.22" stroke="#1a1af5" stroke-width="0.8" />
<line x1="391.13" y1="374.50" x2="394.13" y2="374.50" stroke="#1a1af5" stroke-width="0.8" />
<line x1="391.13" y1="382.50" x2="394.13" y2="382.50" stroke="#1a1af5" stroke-width="0.8" />
<line x1="398.50" y1="372.58" x2="398.50" y2="380.37" stroke="#1a1af5" stroke-width="0.8" />
<line x1="396.92" y1="372.50" x2="399.92" y2="372.50" stroke="#1a1af5" stroke-width="0.8" />
<line x1="396.92" y1="380.50" x2="399.92" y2="380.50" stroke="#1a1af5" stroke-width="0.8" />
<line x1="404.50" y1="370.73" x2="404.50" y2="378.51" stroke="#1a1af5" stroke-width="0.8" />
<line x1="402.71" y1="370.50" x2="405.71" y2="370.50" stroke="#1a1af5" stroke-width="0.8" />
<line x1="402.71" y1="378.50" x2="405.71" y2="378.50" stroke="#1a1af5" stroke-width="0.8" />
<line x1="410.50" y1="369.33" x2="410.50" y2="377.12" stroke="#1a1af5" stroke-width="0.8" />
<line x1="408.50" y1="369.50" x2="411.50" y2="369.50" stroke="#1a1af5" stroke-width="0.8" />
<line x1="408.50" y1="377.50" x2="411.50" y2="377.50" stroke="#1a1af5" stroke-width="0.8" />
<line x1="415.50" y1="367.94" x2="415.50" y2="375.73" stroke="#1a1af5" stroke-width="0.8" />
<line x1="414.29" y1="367.50" x2="417.29" y2="367.50" stroke="#1a1af5" stroke-width="0.8" />
<line x1="414.29" y1="375.50" x2="417.29" y2="375.50" stroke="#1a1af5" stroke-width="0.8" />
<line x1="421.50" y1="366.74" x2="421.50" y2="374.53" stroke="#1a1af5" stroke-width="0.8" />
<line x1="420.08" y1="366.50" x2="423.08" y2="366.50" stroke="#1a1af5" stroke-width="0.8" />
<line x1="420.08" y1="374.50" x2="423.08" y2="374.50" stroke="#1a1af5" stroke-width="0.8" />
<line x1="427.50" y1="365.81" x2="427.50" y2="373.60" stroke="#1a1af5" stroke-width="0.8" />
<line x1="425.87" y1="365.50" x2="428.87" y2="365.50" stroke="#1a1af5" stroke-width="0.8" />
<line x1="425.87" y1="373.50" x2="428.87" y2="373.50" stroke="#1a1af5" stroke-width="0.8" />
<line x1="433.50" y1="365.16" x2="433.50" y2="372.95" stroke="#1a1af5" stroke-width="0.8" />
<line x1="431.66" y1="365.50" x2="434.66" y2="365.50" stroke="#1a1af5" stroke-width="0.8" />
<line x1="431.66" y1="372.50" x2="434.66" y2="372.50" stroke="#1a1af5" stroke-width="0.8" />
<line x1="299.50" y1="444.79" x2="299.50" y2="447.76" stroke="#000" stroke-width="0.8" />
<line x1="298.49" y1="444.50" x2="301.49" y2="444.50" stroke="#000" stroke-width="0.8" />
<line x1="298.49" y1="447.50" x2="301.49" y2="447.50" stroke="#000" stroke-width="0.8" />
<line x1="305.50" y1="438.93" x2="305.50" y2="442.49" stroke="#000" stroke-width="0.8" />
<line x1="304.28" y1="438.50" x2="307.28" y2="438.50" stroke="#000" stroke-width="0.8" />
<line x1="304.28" y1="442.50" x2="307.28" y2="442.50" stroke="#000" stroke-width="0.8" />
<line x1="311.50" y1="433.72" x2="311.50" y2="437.88" stroke="#000" stroke-width="0.8" />
<line x1="310.07" y1="433.50" x2="313.07" y2="433.50" stroke="#000" stroke-width="0.8" />
<line x1="310.07" y1="437.50" x2="313.07" y2="437.50" stroke="#000" stroke-width="0.8" />
<line x1="317.50" y1="428.24" x2="317.50" y2="432.98" stroke="#000" stroke-width="0.8" />
<line x1="315.86" y1="428.50" x2="318.86" y2="428.50" stroke="#000" stroke-width="0.8" />
<line x1="315.86" y1="432.50" x2="318.86" y2="432.50" stroke="#000" stroke-width="0.8" />
<line x1="323.50" y1="423.03" x2="323.50" y2="428.37" stroke="#000" stroke-width="0.8" />
<line x1="321.65" y1="423.50" x2="324.65" y2="423.50" stroke="#000" stroke-width="0.8" />
<line x1="321.65" y1="428.50" x2="324.65" y2="428.50" stroke="#000" stroke-width="0.8" />
<line x1="328.50" y1="417.63" x2="328.50" y2="423.56" stroke="#000" stroke-width="0.8" />
<line x1="327.44" y1="417.50" x2="330.44" y2="417.50" stroke="#000" stroke-width="0.8" />
<line x1="327.44" y1="423.50" x2="330.44" y2="423.50" stroke="#000" stroke-width="0.8" />
<line x1="334.50" y1="412.53" x2="334.50" y2="418.47" stroke="#000" stroke-width="0.8" />
<line x1="333.23" y1="412.50" x2="336.23" y2="412.50" stroke="#000" stroke-width="0.8" />
<line x1="333.23" y1="418.50" x2="336.23" y2="418.50" stroke="#000" stroke-width="0.8" />
<line x1="340.50" y1="407.53" x2="340.50" y2="413.46" stroke="#000" stroke-width="0.8" />
<line x1="339.02" y1="407.50" x2="342.02" y2="407.50" stroke="#000" stroke-width="0.8" />
<line x1="339.02" y1="413.50" x2="342.02" y2="413.50" stroke="#000" stroke-width="0.8" />
<line x1="346.50" y1="403.08" x2="346.50" y2="409.01" stroke="#000" stroke-width="0.8" />
<line x1="344.81" y1="403.50" x2="347.81" y2="403.50" stroke="#000" stroke-width="0.8" />
<line x1="344.81" y1="409.50" x2="347.81" y2="409.50" stroke="#000" stroke-width="0.8" />
<line x1="352.50" y1="398.16" x2="352.50" y2="404.10" stroke="#000" stroke-width="0.8" />
<line x1="350.60" y1="398.50" x2="353.60" y2="398.50" stroke="#000" stroke-width="0.8" />
<line x1="350.60" y1="404.50" x2="353.60" y2="404.50" stroke="#000" stroke-width="0.8" />
<line x1="357.50" y1="394.18" x2="357.50" y2="400.11" stroke="#000" stroke-width="0.8" />
<line x1="356.39" y1="394.50" x2="359.39" y2="394.50" stroke="#000" stroke-width="0.8" />
<line x1="356.39" y1="400.50" x2="359.39" y2="400.50" stroke="#000" stroke-width="0.8" />
<line x1="363.50" y1="389.73" x2="363.50" y2="395.66" stroke="#000" stroke-width="0.8" />
<line x1="362.18" y1="389.50" x2="365.18" y2="389.50" stroke="#000" stroke-width="0.8" />
<line x1="362.18" y1="395.50" x2="365.18" y2="395.50" stroke="#000" stroke-width="0.8" />
<line x1="369.50" y1="386.30" x2="369.50" y2="392.23" stroke="#000" stroke-width="0.8" />
<line x1="367.97" y1="386.50" x2="370.97" y2="386.50" stroke="#000" stroke-width="0.8" />
<line x1="367.97" y1="392.50" x2="370.97" y2="392.50" stroke="#000" stroke-width="0.8" />
<line x1="375.50" y1="382.50" x2="375.50" y2="388.43" stroke="#000" stroke-width="0.8" />
<line x1="373.76" y1="382.50" x2="376.76" y2="382.50" stroke="#000" stroke-width="0.8" />
<line x1="373.76" y1="388.50" x2="376.76" y2="388.50" stroke="#000" stroke-width="0.8" />
<line x1="381.50" y1="379.62" x2="381.50" y2="385.56" stroke="#000" stroke-width="0.8" />
<line x1="379.55" y1="379.50" x2="382.55" y2="379.50" stroke="#000" stroke-width="0.8" />
<line x1="379.55" y1="385.50" x2="382.55" y2="385.50" stroke="#000" stroke-width="0.8" />
<line x1="386.50" y1="377.40" x2="386.50" y2="383.33" stroke="#000" stroke-width="0.8" />
<line x1="385.34" y1="377.50" x2="388.34" y2="377.50" stroke="#000" stroke-width="0.8" />
<line x1="385.34" y1="383.50" x2="388.34" y2="383.50" stroke="#000" stroke-width="0.8" />
<line x1="392.50" y1="375.17" x2="392.50" y2="381.11" stroke="#000" stroke-width="0.8" />
<line x1="391.13" y1="375.50" x2="394.13" y2="375.50" stroke="#000" stroke-width="0.8" />
<line x1="391.13" y1="381.50" x2="394.13" y2="381.50" stroke="#000" stroke-width="0.8" />
<line x1="398.50" y1="372.95" x2="398.50" y2="378.88" stroke="#000" stroke-width="0.8" />
<line x1="396.92" y1="372.50" x2="399.92" y2="372.50" stroke="#000" stroke-width="0.8" />
<line x1="396.92" y1="378.50" x2="399.92" y2="378.50" stroke="#000" stroke-width="0.8" />
<line x1="404.50" y1="370.73" x2="404.50" y2="376.66" stroke="#000" stroke-width="0.8" />
<line x1="402.71" y1="370.50" x2="405.71" y2="370.50" stroke="#000" stroke-width="0.8" />
<line x1="402.71" y1="376.50" x2="405.71" y2="376.50" stroke="#000" stroke-width="0.8" />
<line x1="410.50" y1="369.15" x2="410.50" y2="375.08" stroke="#000" stroke-width="0.8" />
<line x1="408.50" y1="369.50" x2="411.50" y2="369.50" stroke="#000" stroke-width="0.8" />
<line x1="408.50" y1="375.50" x2="411.50" y2="375.50" stroke="#000" stroke-width="0.8" />
<line x1="415.50" y1="367.76" x2="415.50" y2="373.69" stroke="#000" stroke-width="0.8" />
<line x1="414.29" y1="367.50" x2="417.29" y2="367.50" stroke="#000" stroke-width="0.8" />
<line x1="414.29" y1="373.50" x2="417.29" y2="373.50" stroke="#000" stroke-width="0.8" />
<line x1="421.50" y1="366.28" x2="421.50" y2="372.21" stroke="#000" stroke-width="0.8" />
<line x1="420.08" y1="366.50" x2="423.08" y2="366.50" stroke="#000" stroke-width="0.8" />
<line x1="420.08" y1="372.50" x2="423.08" y2="372.50" stroke="#000" stroke-width="0.8" />
<line x1="427.50" y1="365.16" x2="427.50" y2="371.10" stroke="#000" stroke-width="0.8" />
<line x1="425.87" y1="365.50" x2="428.87" y2="365.50" stroke="#000" stroke-width="0.8" />
<line x1="425.87" y1="371.50" x2="428.87" y2="371.50" stroke="#000" stroke-width="0.8" />
<line x1="433.50" y1="363.59" x2="433.50" y2="369.52" stroke="#000" stroke-width="0.8" />
<line x1="431.66" y1="363.50" x2="434.66" y2="363.50" stroke="#000" stroke-width="0.8" />
<line x1="431.66" y1="369.50" x2="434.66" y2="369.50" stroke="#000" stroke-width="0.8" />
<polyline points="294.20,452.95 299.99,448.50 305.78,442.29 311.57,438.49 317.36,435.15 323.15,430.61 328.94,427.36 334.73,422.82 340.52,419.49 346.31,416.15 352.10,412.81 357.89,410.12 363.68,407.25 369.47,404.93 375.26,402.71 381.05,399.83 386.84,397.14 392.63,394.46 398.42,392.23 404.21,390.01 410.00,387.78 415.79,386.02 421.58,384.26 427.37,382.59 433.16,380.37" fill="none" stroke="#f5141e" stroke-width="0.9"/>
<circle cx="294.20" cy="452.95" r="1.93" fill="#fff" stroke="#f5141e" stroke-width="1.15"/>
<circle cx="299.99" cy="448.50" r="1.93" fill="#fff" stroke="#f5141e" stroke-width="1.15"/>
<circle cx="305.78" cy="442.29" r="1.93" fill="#fff" stroke="#f5141e" stroke-width="1.15"/>
<circle cx="311.57" cy="438.49" r="1.93" fill="#fff" stroke="#f5141e" stroke-width="1.15"/>
<circle cx="317.36" cy="435.15" r="1.93" fill="#fff" stroke="#f5141e" stroke-width="1.15"/>
<circle cx="323.15" cy="430.61" r="1.93" fill="#fff" stroke="#f5141e" stroke-width="1.15"/>
<circle cx="328.94" cy="427.36" r="1.93" fill="#fff" stroke="#f5141e" stroke-width="1.15"/>
<circle cx="334.73" cy="422.82" r="1.93" fill="#fff" stroke="#f5141e" stroke-width="1.15"/>
<circle cx="340.52" cy="419.49" r="1.93" fill="#fff" stroke="#f5141e" stroke-width="1.15"/>
<circle cx="346.31" cy="416.15" r="1.93" fill="#fff" stroke="#f5141e" stroke-width="1.15"/>
<circle cx="352.10" cy="412.81" r="1.93" fill="#fff" stroke="#f5141e" stroke-width="1.15"/>
<circle cx="357.89" cy="410.12" r="1.93" fill="#fff" stroke="#f5141e" stroke-width="1.15"/>
<circle cx="363.68" cy="407.25" r="1.93" fill="#fff" stroke="#f5141e" stroke-width="1.15"/>
<circle cx="369.47" cy="404.93" r="1.93" fill="#fff" stroke="#f5141e" stroke-width="1.15"/>
<circle cx="375.26" cy="402.71" r="1.93" fill="#fff" stroke="#f5141e" stroke-width="1.15"/>
<circle cx="381.05" cy="399.83" r="1.93" fill="#fff" stroke="#f5141e" stroke-width="1.15"/>
<circle cx="386.84" cy="397.14" r="1.93" fill="#fff" stroke="#f5141e" stroke-width="1.15"/>
<circle cx="392.63" cy="394.46" r="1.93" fill="#fff" stroke="#f5141e" stroke-width="1.15"/>
<circle cx="398.42" cy="392.23" r="1.93" fill="#fff" stroke="#f5141e" stroke-width="1.15"/>
<circle cx="404.21" cy="390.01" r="1.93" fill="#fff" stroke="#f5141e" stroke-width="1.15"/>
<circle cx="410.00" cy="387.78" r="1.93" fill="#fff" stroke="#f5141e" stroke-width="1.15"/>
<circle cx="415.79" cy="386.02" r="1.93" fill="#fff" stroke="#f5141e" stroke-width="1.15"/>
<circle cx="421.58" cy="384.26" r="1.93" fill="#fff" stroke="#f5141e" stroke-width="1.15"/>
<circle cx="427.37" cy="382.59" r="1.93" fill="#fff" stroke="#f5141e" stroke-width="1.15"/>
<circle cx="433.16" cy="380.37" r="1.93" fill="#fff" stroke="#f5141e" stroke-width="1.15"/>
<polyline points="294.20,452.95 299.99,445.53 305.78,439.51 311.57,433.95 317.36,428.85 323.15,423.75 328.94,418.65 334.73,413.55 340.52,408.92 346.31,404.28 352.10,399.65 357.89,395.94 363.68,392.69 369.47,388.99 375.26,385.74 381.05,382.96 386.84,380.64 392.63,378.33 398.42,376.47 404.21,374.62 410.00,373.23 415.79,371.84 421.58,370.63 427.37,369.71 433.16,369.06" fill="none" stroke="#1a1af5" stroke-width="0.9"/>
<circle cx="294.20" cy="452.95" r="1.93" fill="#fff" stroke="#1a1af5" stroke-width="1.15"/>
<circle cx="299.99" cy="445.53" r="1.93" fill="#fff" stroke="#1a1af5" stroke-width="1.15"/>
<circle cx="305.78" cy="439.51" r="1.93" fill="#fff" stroke="#1a1af5" stroke-width="1.15"/>
<circle cx="311.57" cy="433.95" r="1.93" fill="#fff" stroke="#1a1af5" stroke-width="1.15"/>
<circle cx="317.36" cy="428.85" r="1.93" fill="#fff" stroke="#1a1af5" stroke-width="1.15"/>
<circle cx="323.15" cy="423.75" r="1.93" fill="#fff" stroke="#1a1af5" stroke-width="1.15"/>
<circle cx="328.94" cy="418.65" r="1.93" fill="#fff" stroke="#1a1af5" stroke-width="1.15"/>
<circle cx="334.73" cy="413.55" r="1.93" fill="#fff" stroke="#1a1af5" stroke-width="1.15"/>
<circle cx="340.52" cy="408.92" r="1.93" fill="#fff" stroke="#1a1af5" stroke-width="1.15"/>
<circle cx="346.31" cy="404.28" r="1.93" fill="#fff" stroke="#1a1af5" stroke-width="1.15"/>
<circle cx="352.10" cy="399.65" r="1.93" fill="#fff" stroke="#1a1af5" stroke-width="1.15"/>
<circle cx="357.89" cy="395.94" r="1.93" fill="#fff" stroke="#1a1af5" stroke-width="1.15"/>
<circle cx="363.68" cy="392.69" r="1.93" fill="#fff" stroke="#1a1af5" stroke-width="1.15"/>
<circle cx="369.47" cy="388.99" r="1.93" fill="#fff" stroke="#1a1af5" stroke-width="1.15"/>
<circle cx="375.26" cy="385.74" r="1.93" fill="#fff" stroke="#1a1af5" stroke-width="1.15"/>
<circle cx="381.05" cy="382.96" r="1.93" fill="#fff" stroke="#1a1af5" stroke-width="1.15"/>
<circle cx="386.84" cy="380.64" r="1.93" fill="#fff" stroke="#1a1af5" stroke-width="1.15"/>
<circle cx="392.63" cy="378.33" r="1.93" fill="#fff" stroke="#1a1af5" stroke-width="1.15"/>
<circle cx="398.42" cy="376.47" r="1.93" fill="#fff" stroke="#1a1af5" stroke-width="1.15"/>
<circle cx="404.21" cy="374.62" r="1.93" fill="#fff" stroke="#1a1af5" stroke-width="1.15"/>
<circle cx="410.00" cy="373.23" r="1.93" fill="#fff" stroke="#1a1af5" stroke-width="1.15"/>
<circle cx="415.79" cy="371.84" r="1.93" fill="#fff" stroke="#1a1af5" stroke-width="1.15"/>
<circle cx="421.58" cy="370.63" r="1.93" fill="#fff" stroke="#1a1af5" stroke-width="1.15"/>
<circle cx="427.37" cy="369.71" r="1.93" fill="#fff" stroke="#1a1af5" stroke-width="1.15"/>
<circle cx="433.16" cy="369.06" r="1.93" fill="#fff" stroke="#1a1af5" stroke-width="1.15"/>
<polyline points="294.20,452.95 299.99,446.28 305.78,440.71 311.57,435.80 317.36,430.61 323.15,425.70 328.94,420.60 334.73,415.50 340.52,410.49 346.31,406.04 352.10,401.13 357.89,397.14 363.68,392.69 369.47,389.27 375.26,385.46 381.05,382.59 386.84,380.37 392.63,378.14 398.42,375.92 404.21,373.69 410.00,372.12 415.79,370.73 421.58,369.24 427.37,368.13 433.16,366.55" fill="none" stroke="#000" stroke-width="0.9"/>
<circle cx="294.20" cy="452.95" r="1.93" fill="#fff" stroke="#000" stroke-width="1.15"/>
<circle cx="299.99" cy="446.28" r="1.93" fill="#fff" stroke="#000" stroke-width="1.15"/>
<circle cx="305.78" cy="440.71" r="1.93" fill="#fff" stroke="#000" stroke-width="1.15"/>
<circle cx="311.57" cy="435.80" r="1.93" fill="#fff" stroke="#000" stroke-width="1.15"/>
<circle cx="317.36" cy="430.61" r="1.93" fill="#fff" stroke="#000" stroke-width="1.15"/>
<circle cx="323.15" cy="425.70" r="1.93" fill="#fff" stroke="#000" stroke-width="1.15"/>
<circle cx="328.94" cy="420.60" r="1.93" fill="#fff" stroke="#000" stroke-width="1.15"/>
<circle cx="334.73" cy="415.50" r="1.93" fill="#fff" stroke="#000" stroke-width="1.15"/>
<circle cx="340.52" cy="410.49" r="1.93" fill="#fff" stroke="#000" stroke-width="1.15"/>
<circle cx="346.31" cy="406.04" r="1.93" fill="#fff" stroke="#000" stroke-width="1.15"/>
<circle cx="352.10" cy="401.13" r="1.93" fill="#fff" stroke="#000" stroke-width="1.15"/>
<circle cx="357.89" cy="397.14" r="1.93" fill="#fff" stroke="#000" stroke-width="1.15"/>
<circle cx="363.68" cy="392.69" r="1.93" fill="#fff" stroke="#000" stroke-width="1.15"/>
<circle cx="369.47" cy="389.27" r="1.93" fill="#fff" stroke="#000" stroke-width="1.15"/>
<circle cx="375.26" cy="385.46" r="1.93" fill="#fff" stroke="#000" stroke-width="1.15"/>
<circle cx="381.05" cy="382.59" r="1.93" fill="#fff" stroke="#000" stroke-width="1.15"/>
<circle cx="386.84" cy="380.37" r="1.93" fill="#fff" stroke="#000" stroke-width="1.15"/>
<circle cx="392.63" cy="378.14" r="1.93" fill="#fff" stroke="#000" stroke-width="1.15"/>
<circle cx="398.42" cy="375.92" r="1.93" fill="#fff" stroke="#000" stroke-width="1.15"/>
<circle cx="404.21" cy="373.69" r="1.93" fill="#fff" stroke="#000" stroke-width="1.15"/>
<circle cx="410.00" cy="372.12" r="1.93" fill="#fff" stroke="#000" stroke-width="1.15"/>
<circle cx="415.79" cy="370.73" r="1.93" fill="#fff" stroke="#000" stroke-width="1.15"/>
<circle cx="421.58" cy="369.24" r="1.93" fill="#fff" stroke="#000" stroke-width="1.15"/>
<circle cx="427.37" cy="368.13" r="1.93" fill="#fff" stroke="#000" stroke-width="1.15"/>
<circle cx="433.16" cy="366.55" r="1.93" fill="#fff" stroke="#000" stroke-width="1.15"/>
<line x1="296.80" y1="363.00" x2="306.80" y2="363.00" stroke="#000" stroke-width="0.9" />
<circle cx="301.80" cy="363.00" r="1.93" fill="#fff" stroke="#000" stroke-width="1.15"/>
<text transform="translate(312.40,365.80) scale(1.0,1.14)" font-size="7.3" text-anchor="start" fill="#1a1a1a" font-weight="normal" stroke="#1a1a1a" stroke-width="0.18" >KO DMSO</text>
<line x1="296.80" y1="376.10" x2="306.80" y2="376.10" stroke="#f5141e" stroke-width="0.9" />
<circle cx="301.80" cy="376.10" r="1.93" fill="#fff" stroke="#f5141e" stroke-width="1.15"/>
<text transform="translate(312.40,378.90) scale(1.0,1.14)" font-size="7.3" text-anchor="start" fill="#1a1a1a" font-weight="normal" stroke="#1a1a1a" stroke-width="0.18" >KO Nilotinib</text>
<line x1="296.80" y1="388.60" x2="306.80" y2="388.60" stroke="#1a1af5" stroke-width="0.9" />
<circle cx="301.80" cy="388.60" r="1.93" fill="#fff" stroke="#1a1af5" stroke-width="1.15"/>
<text transform="translate(312.40,391.40) scale(1.0,1.14)" font-size="7.3" text-anchor="start" fill="#1a1a1a" font-weight="normal" stroke="#1a1a1a" stroke-width="0.18" >KO Imatinib</text>
<line x1="533.50" y1="361.80" x2="533.50" y2="454.30" stroke="#111" stroke-width="1" />
<line x1="529.60" y1="453.50" x2="533.60" y2="453.50" stroke="#111" stroke-width="1" />
<text transform="translate(528.70,456.50) scale(1.0,1.14)" font-size="7.45" text-anchor="end" fill="#1a1a1a" font-weight="normal" stroke="#1a1a1a" stroke-width="0.18" >0</text>
<line x1="529.60" y1="435.50" x2="533.60" y2="435.50" stroke="#111" stroke-width="1" />
<text transform="translate(528.70,438.10) scale(1.0,1.14)" font-size="7.45" text-anchor="end" fill="#1a1a1a" font-weight="normal" stroke="#1a1a1a" stroke-width="0.18" >20</text>
<line x1="529.60" y1="417.50" x2="533.60" y2="417.50" stroke="#111" stroke-width="1" />
<text transform="translate(528.70,419.70) scale(1.0,1.14)" font-size="7.45" text-anchor="end" fill="#1a1a1a" font-weight="normal" stroke="#1a1a1a" stroke-width="0.18" >40</text>
<line x1="529.60" y1="398.50" x2="533.60" y2="398.50" stroke="#111" stroke-width="1" />
<text transform="translate(528.70,401.30) scale(1.0,1.14)" font-size="7.45" text-anchor="end" fill="#1a1a1a" font-weight="normal" stroke="#1a1a1a" stroke-width="0.18" >60</text>
<line x1="529.60" y1="380.50" x2="533.60" y2="380.50" stroke="#111" stroke-width="1" />
<text transform="translate(528.70,382.90) scale(1.0,1.14)" font-size="7.45" text-anchor="end" fill="#1a1a1a" font-weight="normal" stroke="#1a1a1a" stroke-width="0.18" >80</text>
<line x1="529.60" y1="361.50" x2="533.60" y2="361.50" stroke="#111" stroke-width="1" />
<text transform="translate(528.70,364.50) scale(1.0,1.14)" font-size="7.45" text-anchor="end" fill="#1a1a1a" font-weight="normal" stroke="#1a1a1a" stroke-width="0.18" >100</text>
<line x1="533.10" y1="453.50" x2="626.30" y2="453.50" stroke="#111" stroke-width="1" />
<line x1="548.50" y1="453.80" x2="548.50" y2="457.30" stroke="#111" stroke-width="1" />
<text transform="translate(548.00,465.60) scale(1.0,1.14)" font-size="7.3" text-anchor="middle" fill="#1a1a1a" font-weight="normal" stroke="#1a1a1a" stroke-width="0.18" >DMSO</text>
<line x1="580.50" y1="453.80" x2="580.50" y2="457.30" stroke="#111" stroke-width="1" />
<text transform="translate(580.80,465.60) scale(1.0,1.14)" font-size="7.3" text-anchor="middle" fill="#1a1a1a" font-weight="normal" stroke="#1a1a1a" stroke-width="0.18" >Nilotinib</text>
<line x1="613.50" y1="453.80" x2="613.50" y2="457.30" stroke="#111" stroke-width="1" />
<text transform="translate(613.00,465.60) scale(1.0,1.14)" font-size="7.3" text-anchor="middle" fill="#1a1a1a" font-weight="normal" stroke="#1a1a1a" stroke-width="0.18" >Imatinib</text>
<circle cx="541.30" cy="366.03" r="1.93" fill="#000" stroke="none" stroke-width="1"/>
<circle cx="539.20" cy="370.36" r="1.93" fill="#000" stroke="none" stroke-width="1"/>
<circle cx="544.30" cy="369.16" r="1.93" fill="#000" stroke="none" stroke-width="1"/>
<line x1="537.30" y1="368.50" x2="545.90" y2="368.50" stroke="#000" stroke-width="0.9" />
<line x1="541.50" y1="367.23" x2="541.50" y2="369.81" stroke="#000" stroke-width="0.9" />
<line x1="539.30" y1="367.50" x2="543.90" y2="367.50" stroke="#000" stroke-width="0.9" />
<line x1="539.30" y1="369.50" x2="543.90" y2="369.50" stroke="#000" stroke-width="0.9" />
<circle cx="551.50" cy="366.22" r="1.93" fill="#fff" stroke="#000" stroke-width="1.15"/>
<circle cx="555.60" cy="366.22" r="1.93" fill="#fff" stroke="#000" stroke-width="1.15"/>
<circle cx="554.20" cy="371.09" r="1.93" fill="#fff" stroke="#000" stroke-width="1.15"/>
<line x1="549.47" y1="367.50" x2="558.07" y2="367.50" stroke="#000" stroke-width="0.9" />
<line x1="553.50" y1="366.22" x2="553.50" y2="369.47" stroke="#000" stroke-width="0.9" />
<line x1="551.47" y1="366.50" x2="556.07" y2="366.50" stroke="#000" stroke-width="0.9" />
<line x1="551.47" y1="369.50" x2="556.07" y2="369.50" stroke="#000" stroke-width="0.9" />
<circle cx="573.60" cy="374.77" r="1.93" fill="#000" stroke="none" stroke-width="1"/>
<circle cx="575.10" cy="382.04" r="1.93" fill="#000" stroke="none" stroke-width="1"/>
<circle cx="573.60" cy="394.37" r="1.93" fill="#000" stroke="none" stroke-width="1"/>
<line x1="569.80" y1="383.50" x2="578.40" y2="383.50" stroke="#000" stroke-width="0.9" />
<line x1="574.50" y1="378.01" x2="574.50" y2="389.45" stroke="#000" stroke-width="0.9" />
<line x1="571.80" y1="378.50" x2="576.40" y2="378.50" stroke="#000" stroke-width="0.9" />
<line x1="571.80" y1="389.50" x2="576.40" y2="389.50" stroke="#000" stroke-width="0.9" />
<circle cx="583.70" cy="374.77" r="1.93" fill="#fff" stroke="#000" stroke-width="1.15"/>
<circle cx="588.40" cy="375.23" r="1.93" fill="#fff" stroke="#000" stroke-width="1.15"/>
<circle cx="586.40" cy="394.37" r="1.93" fill="#fff" stroke="#000" stroke-width="1.15"/>
<line x1="581.87" y1="381.50" x2="590.47" y2="381.50" stroke="#000" stroke-width="0.9" />
<line x1="586.50" y1="375.00" x2="586.50" y2="387.91" stroke="#000" stroke-width="0.9" />
<line x1="583.87" y1="375.50" x2="588.47" y2="375.50" stroke="#000" stroke-width="0.9" />
<line x1="583.87" y1="387.50" x2="588.47" y2="387.50" stroke="#000" stroke-width="0.9" />
<circle cx="603.80" cy="368.70" r="1.93" fill="#000" stroke="none" stroke-width="1"/>
<circle cx="603.80" cy="373.39" r="1.93" fill="#000" stroke="none" stroke-width="1"/>
<circle cx="608.90" cy="371.37" r="1.93" fill="#000" stroke="none" stroke-width="1"/>
<line x1="601.20" y1="371.50" x2="609.80" y2="371.50" stroke="#000" stroke-width="0.9" />
<line x1="605.50" y1="369.79" x2="605.50" y2="372.51" stroke="#000" stroke-width="0.9" />
<line x1="603.20" y1="369.50" x2="607.80" y2="369.50" stroke="#000" stroke-width="0.9" />
<line x1="603.20" y1="372.50" x2="607.80" y2="372.50" stroke="#000" stroke-width="0.9" />
<circle cx="616.10" cy="367.69" r="1.93" fill="#fff" stroke="#000" stroke-width="1.15"/>
<circle cx="621.20" cy="369.16" r="1.93" fill="#fff" stroke="#000" stroke-width="1.15"/>
<circle cx="618.10" cy="373.39" r="1.93" fill="#fff" stroke="#000" stroke-width="1.15"/>
<line x1="614.17" y1="370.50" x2="622.77" y2="370.50" stroke="#000" stroke-width="0.9" />
<line x1="618.50" y1="368.37" x2="618.50" y2="371.79" stroke="#000" stroke-width="0.9" />
<line x1="616.17" y1="368.50" x2="620.77" y2="368.50" stroke="#000" stroke-width="0.9" />
<line x1="616.17" y1="371.50" x2="620.77" y2="371.50" stroke="#000" stroke-width="0.9" />
<text transform="translate(549.50,350.90) scale(1.0,1.14)" font-size="7.3" text-anchor="middle" fill="#1a1a1a" font-weight="normal" stroke="#1a1a1a" stroke-width="0.18" >ns</text>
<line x1="538.20" y1="356.00" x2="560.30" y2="356.00" stroke="#8e8e8e" stroke-width="1.6" />
<text transform="translate(580.20,362.00) scale(1.0,1.14)" font-size="7.3" text-anchor="middle" fill="#1a1a1a" font-weight="normal" stroke="#1a1a1a" stroke-width="0.18" >ns</text>
<line x1="569.30" y1="366.20" x2="591.50" y2="366.20" stroke="#8e8e8e" stroke-width="1.6" />
<text transform="translate(614.00,351.40) scale(1.0,1.14)" font-size="7.3" text-anchor="middle" fill="#1a1a1a" font-weight="normal" stroke="#1a1a1a" stroke-width="0.18" >ns</text>
<line x1="598.60" y1="356.50" x2="628.40" y2="356.50" stroke="#111" stroke-width="1.0" />
<circle cx="637.30" cy="367.60" r="1.96" fill="#000" stroke="none" stroke-width="1"/>
<text transform="translate(647.50,370.30) scale(1.0,1.14)" font-size="7.3" text-anchor="start" fill="#1a1a1a" font-weight="normal" stroke="#1a1a1a" stroke-width="0.18" >ISO1</text>
<circle cx="637.30" cy="381.00" r="1.89" fill="#fff" stroke="#000" stroke-width="1.15"/>
<text transform="translate(647.50,383.70) scale(1.0,1.14)" font-size="7.3" text-anchor="start" fill="#1a1a1a" font-weight="normal" stroke="#1a1a1a" stroke-width="0.18" >KO1</text>
<text transform="translate(512.30,408.80) rotate(-90) scale(1,1.0)" font-size="7.45" text-anchor="middle" fill="#1a1a1a" stroke="#1a1a1a" stroke-width="0.18">Relative Wound Density (%) at 24 hours</text>
<text transform="translate(22.20,502.30) scale(1.0,1.0)" font-size="20" text-anchor="start" fill="#000" font-weight="bold" stroke="#000" stroke-width="0.4" >g</text>
<line x1="58.50" y1="528.30" x2="58.50" y2="621.80" stroke="#111" stroke-width="1" />
<line x1="54.60" y1="621.50" x2="58.60" y2="621.50" stroke="#111" stroke-width="1" />
<text transform="translate(53.70,624.00) scale(1.0,1.14)" font-size="7.45" text-anchor="end" fill="#1a1a1a" font-weight="normal" stroke="#1a1a1a" stroke-width="0.18" >0</text>
<line x1="54.60" y1="602.50" x2="58.60" y2="602.50" stroke="#111" stroke-width="1" />
<text transform="translate(53.70,605.40) scale(1.0,1.14)" font-size="7.45" text-anchor="end" fill="#1a1a1a" font-weight="normal" stroke="#1a1a1a" stroke-width="0.18" >10</text>
<line x1="54.60" y1="584.50" x2="58.60" y2="584.50" stroke="#111" stroke-width="1" />
<text transform="translate(53.70,586.80) scale(1.0,1.14)" font-size="7.45" text-anchor="end" fill="#1a1a1a" font-weight="normal" stroke="#1a1a1a" stroke-width="0.18" >20</text>
<line x1="54.60" y1="565.50" x2="58.60" y2="565.50" stroke="#111" stroke-width="1" />
<text transform="translate(53.70,568.20) scale(1.0,1.14)" font-size="7.45" text-anchor="end" fill="#1a1a1a" font-weight="normal" stroke="#1a1a1a" stroke-width="0.18" >30</text>
<line x1="54.60" y1="546.50" x2="58.60" y2="546.50" stroke="#111" stroke-width="1" />
<text transform="translate(53.70,549.60) scale(1.0,1.14)" font-size="7.45" text-anchor="end" fill="#1a1a1a" font-weight="normal" stroke="#1a1a1a" stroke-width="0.18" >40</text>
<line x1="54.60" y1="528.50" x2="58.60" y2="528.50" stroke="#111" stroke-width="1" />
<text transform="translate(53.70,531.00) scale(1.0,1.14)" font-size="7.45" text-anchor="end" fill="#1a1a1a" font-weight="normal" stroke="#1a1a1a" stroke-width="0.18" >50</text>
<line x1="58.10" y1="621.50" x2="152.10" y2="621.50" stroke="#111" stroke-width="1" />
<line x1="73.50" y1="621.30" x2="73.50" y2="624.80" stroke="#111" stroke-width="1" />
<text transform="translate(73.00,634.20) scale(1.0,1.14)" font-size="7.3" text-anchor="middle" fill="#1a1a1a" font-weight="normal" stroke="#1a1a1a" stroke-width="0.18" >DMSO</text>
<line x1="105.50" y1="621.30" x2="105.50" y2="624.80" stroke="#111" stroke-width="1" />
<text transform="translate(105.00,634.20) scale(1.0,1.14)" font-size="7.3" text-anchor="middle" fill="#1a1a1a" font-weight="normal" stroke="#1a1a1a" stroke-width="0.18" >Nilotinib</text>
<line x1="137.50" y1="621.30" x2="137.50" y2="624.80" stroke="#111" stroke-width="1" />
<text transform="translate(137.40,634.20) scale(1.0,1.14)" font-size="7.3" text-anchor="middle" fill="#1a1a1a" font-weight="normal" stroke="#1a1a1a" stroke-width="0.18" >Imatinib</text>
<circle cx="67.20" cy="550.06" r="1.93" fill="#000" stroke="none" stroke-width="1"/>
<circle cx="64.90" cy="558.06" r="1.93" fill="#000" stroke="none" stroke-width="1"/>
<circle cx="69.00" cy="556.94" r="1.93" fill="#000" stroke="none" stroke-width="1"/>
<line x1="62.73" y1="555.50" x2="71.33" y2="555.50" stroke="#000" stroke-width="0.9" />
<line x1="67.50" y1="552.52" x2="67.50" y2="557.52" stroke="#000" stroke-width="0.9" />
<line x1="64.73" y1="552.50" x2="69.33" y2="552.50" stroke="#000" stroke-width="0.9" />
<line x1="64.73" y1="557.50" x2="69.33" y2="557.50" stroke="#000" stroke-width="0.9" />
<circle cx="76.20" cy="555.08" r="1.93" fill="#fff" stroke="#000" stroke-width="1.15"/>
<circle cx="78.90" cy="553.78" r="1.93" fill="#fff" stroke="#000" stroke-width="1.15"/>
<circle cx="81.60" cy="555.08" r="1.93" fill="#fff" stroke="#000" stroke-width="1.15"/>
<line x1="74.60" y1="554.50" x2="83.20" y2="554.50" stroke="#000" stroke-width="0.9" />
<circle cx="99.10" cy="589.87" r="1.93" fill="#000" stroke="none" stroke-width="1"/>
<circle cx="99.10" cy="602.70" r="1.93" fill="#000" stroke="none" stroke-width="1"/>
<circle cx="99.10" cy="606.23" r="1.93" fill="#000" stroke="none" stroke-width="1"/>
<line x1="94.80" y1="599.50" x2="103.40" y2="599.50" stroke="#000" stroke-width="0.9" />
<line x1="99.50" y1="594.63" x2="99.50" y2="604.57" stroke="#000" stroke-width="0.9" />
<line x1="96.80" y1="594.50" x2="101.40" y2="594.50" stroke="#000" stroke-width="0.9" />
<line x1="96.80" y1="604.50" x2="101.40" y2="604.50" stroke="#000" stroke-width="0.9" />
<circle cx="111.30" cy="594.14" r="1.93" fill="#fff" stroke="#000" stroke-width="1.15"/>
<circle cx="109.00" cy="606.23" r="1.93" fill="#fff" stroke="#000" stroke-width="1.15"/>
<circle cx="113.50" cy="606.23" r="1.93" fill="#fff" stroke="#000" stroke-width="1.15"/>
<line x1="106.97" y1="602.50" x2="115.57" y2="602.50" stroke="#000" stroke-width="0.9" />
<line x1="111.50" y1="598.17" x2="111.50" y2="606.23" stroke="#000" stroke-width="0.9" />
<line x1="108.97" y1="598.50" x2="113.57" y2="598.50" stroke="#000" stroke-width="0.9" />
<line x1="108.97" y1="606.50" x2="113.57" y2="606.50" stroke="#000" stroke-width="0.9" />
<circle cx="128.70" cy="565.87" r="1.93" fill="#000" stroke="none" stroke-width="1"/>
<circle cx="131.40" cy="562.90" r="1.93" fill="#000" stroke="none" stroke-width="1"/>
<circle cx="134.10" cy="562.90" r="1.93" fill="#000" stroke="none" stroke-width="1"/>
<line x1="127.10" y1="563.50" x2="135.70" y2="563.50" stroke="#000" stroke-width="0.9" />
<line x1="131.50" y1="562.90" x2="131.50" y2="564.88" stroke="#000" stroke-width="0.9" />
<line x1="129.10" y1="562.50" x2="133.70" y2="562.50" stroke="#000" stroke-width="0.9" />
<line x1="129.10" y1="564.50" x2="133.70" y2="564.50" stroke="#000" stroke-width="0.9" />
<circle cx="141.00" cy="567.73" r="1.93" fill="#fff" stroke="#000" stroke-width="1.15"/>
<circle cx="143.50" cy="565.87" r="1.93" fill="#fff" stroke="#000" stroke-width="1.15"/>
<circle cx="146.40" cy="567.73" r="1.93" fill="#fff" stroke="#000" stroke-width="1.15"/>
<line x1="139.33" y1="567.50" x2="147.93" y2="567.50" stroke="#000" stroke-width="0.9" />
<line x1="143.50" y1="566.49" x2="143.50" y2="567.73" stroke="#000" stroke-width="0.9" />
<line x1="141.33" y1="566.50" x2="145.93" y2="566.50" stroke="#000" stroke-width="0.9" />
<line x1="141.33" y1="567.50" x2="145.93" y2="567.50" stroke="#000" stroke-width="0.9" />
<text transform="translate(74.80,535.90) scale(1.0,1.14)" font-size="7.3" text-anchor="middle" fill="#1a1a1a" font-weight="normal" stroke="#1a1a1a" stroke-width="0.18" >ns</text>
<line x1="62.60" y1="541.00" x2="87.00" y2="541.00" stroke="#8e8e8e" stroke-width="1.6" />
<text transform="translate(107.20,576.40) scale(1.0,1.14)" font-size="7.3" text-anchor="middle" fill="#1a1a1a" font-weight="normal" stroke="#1a1a1a" stroke-width="0.18" >ns</text>
<line x1="94.90" y1="581.50" x2="118.80" y2="581.50" stroke="#8e8e8e" stroke-width="1.6" />
<text transform="translate(136.30,541.30) scale(1.0,1.14)" font-size="7.3" text-anchor="middle" fill="#1a1a1a" font-weight="normal" stroke="#1a1a1a" stroke-width="0.18" >ns</text>
<line x1="122.40" y1="546.50" x2="150.30" y2="546.50" stroke="#111" stroke-width="1.0" />
<circle cx="159.90" cy="533.00" r="1.96" fill="#000" stroke="none" stroke-width="1"/>
<text transform="translate(170.70,535.70) scale(1.0,1.14)" font-size="7.3" text-anchor="start" fill="#1a1a1a" font-weight="normal" stroke="#1a1a1a" stroke-width="0.18" >ISO1</text>
<circle cx="159.90" cy="545.80" r="1.89" fill="#fff" stroke="#000" stroke-width="1.15"/>
<text transform="translate(170.70,548.50) scale(1.0,1.14)" font-size="7.3" text-anchor="start" fill="#1a1a1a" font-weight="normal" stroke="#1a1a1a" stroke-width="0.18" >KO1</text>
<text transform="translate(40.30,574.80) rotate(-90) scale(1,0.98)" font-size="7.45" text-anchor="middle" fill="#1a1a1a" stroke="#1a1a1a" stroke-width="0.18">EdU Positive Cells (%)</text>
<text transform="translate(222.10,509.80) scale(1.0,1.0)" font-size="20" text-anchor="start" fill="#000" font-weight="bold" stroke="#000" stroke-width="0.4" >h</text>
<line x1="273.50" y1="529.20" x2="273.50" y2="622.10" stroke="#111" stroke-width="1" />
<line x1="269.90" y1="621.50" x2="273.90" y2="621.50" stroke="#111" stroke-width="1" />
<text transform="translate(269.00,624.30) scale(1.0,1.14)" font-size="7.45" text-anchor="end" fill="#1a1a1a" font-weight="normal" stroke="#1a1a1a" stroke-width="0.18" >0.0</text>
<line x1="269.90" y1="590.50" x2="273.90" y2="590.50" stroke="#111" stroke-width="1" />
<text transform="translate(269.00,593.50) scale(1.0,1.14)" font-size="7.45" text-anchor="end" fill="#1a1a1a" font-weight="normal" stroke="#1a1a1a" stroke-width="0.18" >0.5</text>
<line x1="269.90" y1="560.50" x2="273.90" y2="560.50" stroke="#111" stroke-width="1" />
<text transform="translate(269.00,562.70) scale(1.0,1.14)" font-size="7.45" text-anchor="end" fill="#1a1a1a" font-weight="normal" stroke="#1a1a1a" stroke-width="0.18" >1.0</text>
<line x1="269.90" y1="529.50" x2="273.90" y2="529.50" stroke="#111" stroke-width="1" />
<text transform="translate(269.00,531.90) scale(1.0,1.14)" font-size="7.45" text-anchor="end" fill="#1a1a1a" font-weight="normal" stroke="#1a1a1a" stroke-width="0.18" >1.5</text>
<line x1="273.40" y1="621.50" x2="366.80" y2="621.50" stroke="#111" stroke-width="1" />
<line x1="288.50" y1="621.60" x2="288.50" y2="625.10" stroke="#111" stroke-width="1" />
<text transform="translate(288.50,635.00) scale(1.0,1.14)" font-size="7.3" text-anchor="middle" fill="#1a1a1a" font-weight="normal" stroke="#1a1a1a" stroke-width="0.18" >DMSO</text>
<line x1="320.50" y1="621.60" x2="320.50" y2="625.10" stroke="#111" stroke-width="1" />
<text transform="translate(320.10,635.00) scale(1.0,1.14)" font-size="7.3" text-anchor="middle" fill="#1a1a1a" font-weight="normal" stroke="#1a1a1a" stroke-width="0.18" >Nilotinib</text>
<line x1="352.50" y1="621.60" x2="352.50" y2="625.10" stroke="#111" stroke-width="1" />
<text transform="translate(352.60,635.00) scale(1.0,1.14)" font-size="7.3" text-anchor="middle" fill="#1a1a1a" font-weight="normal" stroke="#1a1a1a" stroke-width="0.18" >Imatinib</text>
<circle cx="279.50" cy="560.00" r="1.93" fill="#000" stroke="none" stroke-width="1"/>
<circle cx="282.00" cy="560.00" r="1.93" fill="#000" stroke="none" stroke-width="1"/>
<circle cx="284.50" cy="560.00" r="1.93" fill="#000" stroke="none" stroke-width="1"/>
<line x1="277.70" y1="560.50" x2="286.30" y2="560.50" stroke="#000" stroke-width="0.9" />
<circle cx="291.50" cy="560.00" r="1.93" fill="#fff" stroke="#000" stroke-width="1.15"/>
<circle cx="294.00" cy="560.00" r="1.93" fill="#fff" stroke="#000" stroke-width="1.15"/>
<circle cx="296.50" cy="560.00" r="1.93" fill="#fff" stroke="#000" stroke-width="1.15"/>
<line x1="289.70" y1="560.50" x2="298.30" y2="560.50" stroke="#000" stroke-width="0.9" />
<circle cx="314.30" cy="547.06" r="1.93" fill="#000" stroke="none" stroke-width="1"/>
<circle cx="311.40" cy="552.30" r="1.93" fill="#000" stroke="none" stroke-width="1"/>
<circle cx="316.60" cy="552.30" r="1.93" fill="#000" stroke="none" stroke-width="1"/>
<line x1="309.80" y1="550.50" x2="318.40" y2="550.50" stroke="#000" stroke-width="0.9" />
<line x1="314.50" y1="548.81" x2="314.50" y2="552.30" stroke="#000" stroke-width="0.9" />
<line x1="311.80" y1="548.50" x2="316.40" y2="548.50" stroke="#000" stroke-width="0.9" />
<line x1="311.80" y1="552.50" x2="316.40" y2="552.50" stroke="#000" stroke-width="0.9" />
<circle cx="326.40" cy="543.98" r="1.93" fill="#fff" stroke="#000" stroke-width="1.15"/>
<circle cx="324.00" cy="555.07" r="1.93" fill="#fff" stroke="#000" stroke-width="1.15"/>
<circle cx="328.30" cy="553.22" r="1.93" fill="#fff" stroke="#000" stroke-width="1.15"/>
<line x1="321.93" y1="550.50" x2="330.53" y2="550.50" stroke="#000" stroke-width="0.9" />
<line x1="326.50" y1="547.33" x2="326.50" y2="554.19" stroke="#000" stroke-width="0.9" />
<line x1="323.93" y1="547.50" x2="328.53" y2="547.50" stroke="#000" stroke-width="0.9" />
<line x1="323.93" y1="554.50" x2="328.53" y2="554.50" stroke="#000" stroke-width="0.9" />
<circle cx="343.80" cy="563.33" r="1.93" fill="#000" stroke="none" stroke-width="1"/>
<circle cx="346.80" cy="561.85" r="1.93" fill="#000" stroke="none" stroke-width="1"/>
<circle cx="348.70" cy="561.23" r="1.93" fill="#000" stroke="none" stroke-width="1"/>
<line x1="342.13" y1="562.50" x2="350.73" y2="562.50" stroke="#000" stroke-width="0.9" />
<line x1="346.50" y1="561.51" x2="346.50" y2="562.76" stroke="#000" stroke-width="0.9" />
<line x1="344.13" y1="561.50" x2="348.73" y2="561.50" stroke="#000" stroke-width="0.9" />
<line x1="344.13" y1="562.50" x2="348.73" y2="562.50" stroke="#000" stroke-width="0.9" />
<circle cx="355.90" cy="558.46" r="1.93" fill="#fff" stroke="#000" stroke-width="1.15"/>
<circle cx="360.40" cy="561.42" r="1.93" fill="#fff" stroke="#000" stroke-width="1.15"/>
<circle cx="358.40" cy="566.78" r="1.93" fill="#fff" stroke="#000" stroke-width="1.15"/>
<line x1="353.93" y1="562.50" x2="362.53" y2="562.50" stroke="#000" stroke-width="0.9" />
<line x1="358.50" y1="559.78" x2="358.50" y2="564.65" stroke="#000" stroke-width="0.9" />
<line x1="355.93" y1="559.50" x2="360.53" y2="559.50" stroke="#000" stroke-width="0.9" />
<line x1="355.93" y1="564.50" x2="360.53" y2="564.50" stroke="#000" stroke-width="0.9" />
<text transform="translate(320.90,529.20) scale(1.0,1.14)" font-size="7.3" text-anchor="middle" fill="#1a1a1a" font-weight="normal" stroke="#1a1a1a" stroke-width="0.18" >ns</text>
<line x1="308.50" y1="533.60" x2="332.60" y2="533.60" stroke="#8e8e8e" stroke-width="1.6" />
<text transform="translate(351.60,547.70) scale(1.0,1.14)" font-size="7.3" text-anchor="middle" fill="#1a1a1a" font-weight="normal" stroke="#1a1a1a" stroke-width="0.18" >ns</text>
<line x1="341.90" y1="552.50" x2="361.30" y2="552.50" stroke="#111" stroke-width="1.0" />
<circle cx="373.00" cy="536.00" r="1.96" fill="#000" stroke="none" stroke-width="1"/>
<text transform="translate(383.70,538.70) scale(1.0,1.14)" font-size="7.3" text-anchor="start" fill="#1a1a1a" font-weight="normal" stroke="#1a1a1a" stroke-width="0.18" >ISO1</text>
<circle cx="373.00" cy="547.80" r="1.89" fill="#fff" stroke="#000" stroke-width="1.15"/>
<text transform="translate(383.70,550.50) scale(1.0,1.14)" font-size="7.3" text-anchor="start" fill="#1a1a1a" font-weight="normal" stroke="#1a1a1a" stroke-width="0.18" >KO1</text>
<text transform="translate(244.70,575.60) rotate(-90) scale(1,0.93)" font-size="7.45" text-anchor="middle" fill="#1a1a1a" stroke="#1a1a1a" stroke-width="0.18">Intracellular Nitric Oxide</text>
<text transform="translate(252.40,575.80) rotate(-90) scale(1,0.93)" font-size="7.45" text-anchor="middle" fill="#1a1a1a" stroke="#1a1a1a" stroke-width="0.18">(Normalized Mean Fluorescence)</text>
</svg>
</body></html>
